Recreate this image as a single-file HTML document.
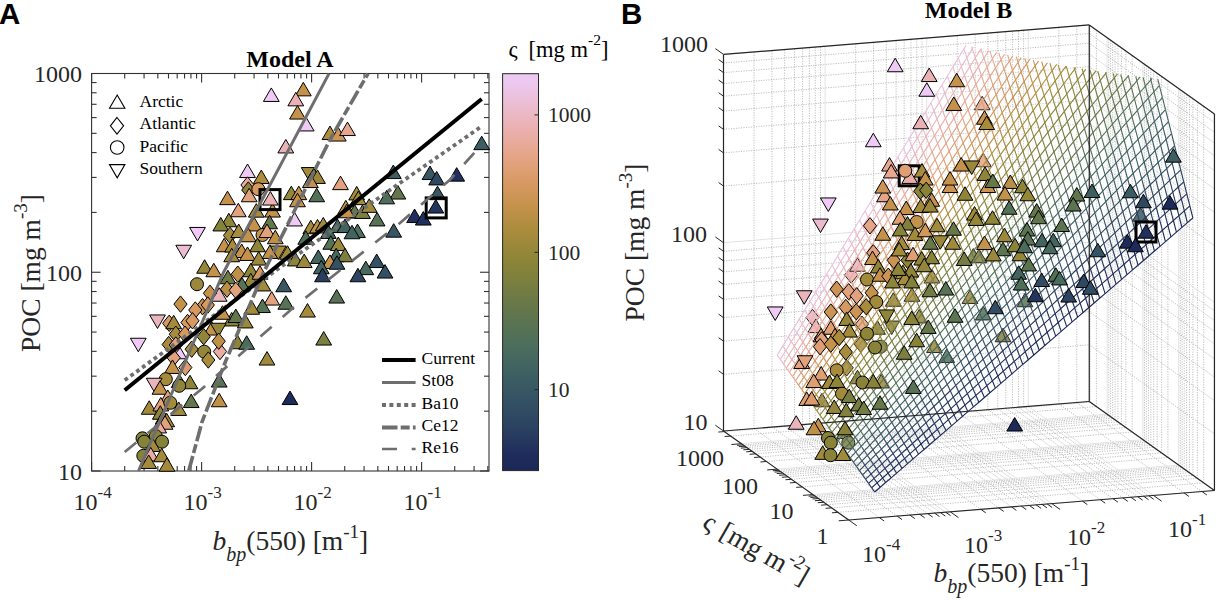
<!DOCTYPE html><html><head><meta charset="utf-8"><style>html,body{margin:0;padding:0;background:#fff;overflow:hidden;}svg{display:block;}</style></head><body><svg width="1219" height="600" viewBox="0 0 1219 600"><rect width="100%" height="100%" fill="#fff"/><path d="M754.08,428.53L754.08,51.93M771.98,427.09L771.98,50.49M784.67,426.07L784.67,49.47M794.52,425.28L794.52,48.68M802.56,424.63L802.56,48.03M809.36,424.08L809.36,47.48M815.25,423.6L815.25,47M820.45,423.18L820.45,46.58M855.68,420.34L855.68,43.74M873.58,418.9L873.58,42.3M886.27,417.88L886.27,41.28M896.12,417.09L896.12,40.49M904.16,416.44L904.16,39.84M910.96,415.89L910.96,39.29M916.85,415.41L916.85,38.81M922.05,414.99L922.05,38.39M957.28,412.15L957.28,35.55M975.18,410.71L975.18,34.11M987.87,409.69L987.87,33.09M997.72,408.9L997.72,32.3M1005.76,408.25L1005.76,31.65M1012.56,407.7L1012.56,31.1M1018.45,407.22L1018.45,30.62M1023.65,406.8L1023.65,30.2M1058.88,403.96L1058.88,27.36M1076.78,402.52L1076.78,25.92M723.5,374.32L1089.26,344.83M723.5,341.16L1089.26,311.67M723.5,317.63L1089.26,288.15M723.5,299.38L1089.26,269.9M723.5,284.47L1089.26,254.99M723.5,271.87L1089.26,242.38M723.5,260.95L1089.26,231.46M723.5,251.32L1089.26,221.83M723.5,186.02L1089.26,156.53M723.5,152.86L1089.26,123.37M723.5,129.33L1089.26,99.85M723.5,111.08L1089.26,81.6M723.5,96.17L1089.26,66.69M723.5,83.57L1089.26,54.08M723.5,72.65L1089.26,43.16M723.5,63.02L1089.26,33.53M1203.69,482.87L1203.69,106.27M1197.39,478.39L1197.39,101.79M1192.92,475.21L1192.92,98.61M1189.45,472.75L1189.45,96.15M1186.62,470.73L1186.62,94.13M1184.23,469.03L1184.23,92.43M1182.15,467.56L1182.15,90.96M1180.32,466.25L1180.32,89.65M1167.92,457.44L1167.92,80.84M1161.62,452.96L1161.62,76.36M1157.15,449.78L1157.15,73.18M1153.68,447.32L1153.68,70.72M1150.85,445.3L1150.85,68.7M1148.46,443.6L1148.46,67M1146.38,442.13L1146.38,65.53M1144.55,440.82L1144.55,64.22M1132.15,432.01L1132.15,55.41M1125.85,427.53L1125.85,50.93M1121.38,424.35L1121.38,47.75M1117.91,421.89L1117.91,45.29M1115.08,419.87L1115.08,43.27M1112.69,418.17L1112.69,41.57M1110.61,416.7L1110.61,40.1M1108.78,415.39L1108.78,38.79M1096.38,406.58L1096.38,29.98M1090.08,402.1L1090.08,25.5M1089.26,344.83L1214.45,433.84M1089.26,311.67L1214.45,400.68M1089.26,288.15L1214.45,377.15M1089.26,269.9L1214.45,358.9M1089.26,254.99L1214.45,344M1089.26,242.38L1214.45,331.39M1089.26,231.46L1214.45,320.47M1089.26,221.83L1214.45,310.84M1089.26,156.53L1214.45,245.54M1089.26,123.37L1214.45,212.38M1089.26,99.85L1214.45,188.85M1089.26,81.6L1214.45,170.6M1089.26,66.69L1214.45,155.7M1089.26,54.08L1214.45,143.09M1089.26,43.16L1214.45,132.17M1089.26,33.53L1214.45,122.54M754.08,428.53L879.28,517.54M771.98,427.09L897.17,516.1M784.67,426.07L909.86,515.07M794.52,425.28L919.71,514.28M802.56,424.63L927.76,513.63M809.36,424.08L934.56,513.08M815.25,423.6L940.45,512.61M820.45,423.18L945.65,512.19M855.68,420.34L980.88,509.35M873.58,418.9L998.77,507.91M886.27,417.88L1011.46,506.88M896.12,417.09L1021.31,506.09M904.16,416.44L1029.36,505.44M910.96,415.89L1036.16,504.89M916.85,415.41L1042.05,504.42M922.05,414.99L1047.25,504M957.28,412.15L1082.48,501.16M975.18,410.71L1100.37,499.72M987.87,409.69L1113.06,498.69M997.72,408.9L1122.91,497.9M1005.76,408.25L1130.96,497.25M1012.56,407.7L1137.76,496.7M1018.45,407.22L1143.65,496.23M1023.65,406.8L1148.85,495.81M1058.88,403.96L1184.08,492.97M1076.78,402.52L1201.97,491.53M837.93,512.35L1203.69,482.87M831.63,507.87L1197.39,478.39M827.16,504.69L1192.92,475.21M823.69,502.23L1189.45,472.75M820.86,500.22L1186.62,470.73M818.47,498.51L1184.23,469.03M816.39,497.04L1182.15,467.56M814.56,495.74L1180.32,466.25M802.16,486.92L1167.92,457.44M795.86,482.44L1161.62,452.96M791.39,479.26L1157.15,449.78M787.92,476.8L1153.68,447.32M785.09,474.79L1150.85,445.3M782.7,473.08L1148.46,443.6M780.62,471.61L1146.38,442.13M778.79,470.31L1144.55,440.82M766.39,461.49L1132.15,432.01M760.09,457.01L1125.85,427.53M755.62,453.83L1121.38,424.35M752.15,451.37L1117.91,421.89M749.32,449.36L1115.08,419.87M746.93,447.65L1112.69,418.17M744.85,446.18L1110.61,416.7M743.02,444.88L1108.78,415.39M730.62,436.06L1096.38,406.58M724.32,431.58L1090.08,402.1" stroke="#a4a4a4" stroke-width="0.7" stroke-dasharray="1.2 1.3" fill="none"/><path d="M723.5,431L723.5,54.4M825.1,422.81L825.1,46.21M926.7,414.62L926.7,38.02M1028.3,406.43L1028.3,29.83M723.5,431L1089.26,401.52M723.5,242.7L1089.26,213.22M723.5,54.4L1089.26,24.92M1214.45,490.52L1214.45,113.92M1178.68,465.09L1178.68,88.49M1142.91,439.66L1142.91,63.06M1107.14,414.23L1107.14,37.63M1089.26,401.52L1214.45,490.52M1089.26,213.22L1214.45,302.22M1089.26,24.92L1214.45,113.92M723.5,431L848.7,520M825.1,422.81L950.3,511.81M926.7,414.62L1051.89,503.62M1028.3,406.43L1153.49,495.44M848.7,520L1214.45,490.52M812.92,494.57L1178.68,465.09M777.15,469.14L1142.91,439.66M741.38,443.71L1107.14,414.23" stroke="#dcdcdc" stroke-width="0.8" fill="none"/><g stroke="#000" stroke-width="1"><polygon points="974.3,109.75 990.1,109.75 982.2,96.25" fill="#e7a891"/><polygon points="975.4,166.75 991.2,166.75 983.3,153.25" fill="#e5a587"/><polygon points="1132.5,221.15 1148.3,221.15 1140.4,207.65" fill="#385763"/><polygon points="1017.1,306.75 1032.9,306.75 1025,293.25" fill="#5c7450"/><polygon points="924.1,282.95 939.9,282.95 932,269.45" fill="#a28a3b"/><polygon points="904.1,301.25 919.9,301.25 912,287.75" fill="#a88c3c"/><polygon points="965.4,262.05 981.2,262.05 973.3,248.55" fill="#7c7f3e"/><polygon points="971.1,262.75 986.9,262.75 979,249.25" fill="#82813c"/><polygon points="962.1,303.45 977.9,303.45 970,289.95" fill="#a28a3b"/><polygon points="975.4,319.95 991.2,319.95 983.3,306.45" fill="#4e6f5a"/><polygon points="911.3,322.95 927.1,322.95 919.2,309.45" fill="#8e8538"/><polygon points="995.1,341.75 1010.9,341.75 1003,328.25" fill="#82813c"/><polygon points="851.2,266.8 857.8,275 851.2,283.2 844.6,275" fill="#eab1b0"/><polygon points="849.6,271.25 865.4,271.25 857.5,257.75" fill="#eab4ba"/><polygon points="885.4,306.25 901.2,306.25 893.3,292.75" fill="#948739"/><polygon points="883.8,321.05 899.6,321.05 891.7,334.55" fill="#8e8538"/><polygon points="812.5,309.3 819.1,317.5 812.5,325.7 805.9,317.5" fill="#eab4ba"/><polygon points="807.9,332.55 823.7,332.55 815.8,319.05" fill="#eab1b0"/><polygon points="862,316 868.6,324.2 862,332.4 855.4,324.2" fill="#e5a587"/><polygon points="869.6,334.25 885.4,334.25 877.5,320.75" fill="#888339"/><polygon points="860.8,336 867.4,344.2 860.8,352.4 854.2,344.2" fill="#a88c3c"/><circle cx="880.8" cy="346.7" r="6.5" fill="#82813c"/><polygon points="846.7,359.6 853.3,367.8 846.7,376 840.1,367.8" fill="#a28a3b"/><polygon points="849.6,383.75 865.4,383.75 857.5,370.25" fill="#888339"/><polygon points="873.3,387.95 889.1,387.95 881.2,374.45" fill="#9b883a"/><polygon points="814.1,406.75 829.9,406.75 822,393.25" fill="#948739"/><polygon points="836.6,438.55 852.4,438.55 844.5,425.05" fill="#82813c"/><circle cx="848.3" cy="442.7" r="6.5" fill="#7c7f3e"/><polygon points="926.6,352.55 942.4,352.55 934.5,339.05" fill="#9b883a"/><polygon points="938.8,362.55 954.6,362.55 946.7,349.05" fill="#4e6f5a"/><polygon points="820.8,330.1 827.4,338.3 820.8,346.5 814.2,338.3" fill="#e5a587"/></g><polygon points="874.67,491.99 876.26,490.62 877.85,489.25 879.44,487.88 881.03,486.51 882.62,485.14 884.22,483.77 885.81,482.4 887.4,481.03 888.99,479.66 890.58,478.29 892.17,476.92 893.76,475.55 895.35,474.18 896.94,472.81 898.54,471.44 900.13,470.07 901.72,468.7 903.31,467.33 904.9,465.96 906.49,464.59 908.08,463.22 909.67,461.85 911.26,460.48 912.85,459.11 914.45,457.74 916.04,456.37 917.63,455 919.22,453.63 920.81,452.26 922.4,450.89 923.99,449.52 925.58,448.15 927.17,446.78 928.77,445.41 930.36,444.04 931.95,442.67 933.54,441.3 935.13,439.93 936.72,438.56 938.31,437.19 939.9,435.82 941.49,434.45 943.08,433.08 944.68,431.71 946.27,430.34 947.86,428.97 949.45,427.6 951.04,426.23 952.63,424.86 954.22,423.49 955.81,422.12 957.4,420.75 959,419.38 960.59,418.01 962.18,416.64 963.77,415.27 965.36,413.9 966.95,412.53 968.54,411.16 970.13,409.79 971.72,408.42 973.31,407.05 974.91,405.68 976.5,404.31 978.09,402.94 979.68,401.57 981.27,400.2 982.86,398.83 984.45,397.46 986.04,396.09 987.63,394.72 989.23,393.35 990.82,391.98 992.41,390.6 994,389.23 995.59,387.86 997.18,386.49 998.77,385.12 1000.36,383.75 1001.95,382.38 1003.54,381.01 1005.14,379.64 1006.73,378.27 1008.32,376.9 1009.91,375.53 1011.5,374.16 1013.09,372.79 1014.68,371.42 1016.27,370.05 1017.86,368.68 1019.46,367.31 1021.05,365.94 1022.64,364.57 1024.23,363.2 1025.82,361.83 1027.41,360.46 1029,359.09 1030.59,357.72 1032.18,356.35 1033.77,354.98 1035.37,353.61 1036.96,352.24 1038.55,350.87 1040.14,349.5 1041.73,348.13 1043.32,346.76 1044.91,345.39 1046.5,344.02 1048.09,342.65 1049.69,341.28 1051.28,339.91 1052.87,338.54 1054.46,337.17 1056.05,335.8 1057.64,334.43 1059.23,333.06 1060.82,331.69 1062.41,330.32 1064,328.95 1065.6,327.58 1067.19,326.21 1068.78,324.84 1070.37,323.47 1071.96,322.1 1073.55,320.73 1075.14,319.36 1076.73,317.99 1078.32,316.62 1079.92,315.25 1081.51,313.88 1083.1,312.51 1084.69,311.14 1086.28,309.77 1087.87,308.4 1089.46,307.03 1091.05,305.66 1092.64,304.29 1094.24,302.92 1095.83,301.55 1097.42,300.18 1099.01,298.81 1100.6,297.44 1102.19,296.07 1103.78,294.7 1105.37,293.33 1106.96,291.96 1108.55,290.59 1110.15,289.22 1111.74,287.85 1113.33,286.48 1114.92,285.11 1116.51,283.74 1118.1,282.37 1119.69,281 1121.28,279.63 1122.87,278.26 1124.47,276.89 1126.06,275.52 1127.65,274.15 1129.24,272.78 1130.83,271.41 1132.42,270.04 1134.01,268.67 1135.6,267.3 1137.19,265.93 1138.78,264.56 1140.38,263.19 1141.97,261.82 1143.56,260.45 1145.15,259.08 1146.74,257.71 1148.33,256.34 1149.92,254.97 1151.51,253.6 1153.1,252.23 1154.7,250.86 1156.29,249.49 1157.88,248.12 1159.47,246.75 1161.06,245.37 1162.65,244 1164.24,242.63 1165.83,241.26 1167.42,239.89 1169.01,238.52 1170.61,237.15 1172.2,235.78 1173.79,234.41 1175.38,233.04 1176.97,231.67 1178.56,230.3 1180.15,228.93 1181.74,227.56 1183.33,226.19 1184.93,224.82 1186.52,223.45 1188.11,222.08 1189.7,220.71 1191.29,219.34 1192.88,217.97 1192.39,216.05 1191.91,214.12 1191.42,212.19 1190.93,210.27 1190.45,208.34 1189.96,206.42 1189.47,204.49 1188.98,202.56 1188.5,200.64 1188.01,198.71 1187.52,196.79 1187.04,194.86 1186.55,192.93 1186.06,191.01 1185.58,189.08 1185.09,187.16 1184.6,185.23 1184.11,183.3 1183.63,181.38 1183.14,179.45 1182.65,177.53 1182.17,175.6 1181.68,173.67 1181.19,171.75 1180.71,169.82 1180.22,167.9 1179.73,165.97 1179.24,164.04 1178.76,162.12 1178.27,160.19 1177.78,158.27 1177.3,156.34 1176.81,154.41 1176.32,152.49 1175.84,150.56 1175.35,148.63 1174.86,146.71 1174.37,144.78 1173.89,142.86 1173.4,140.93 1172.91,139 1172.43,137.08 1171.94,135.15 1171.45,133.23 1170.97,131.3 1170.48,129.37 1169.99,127.45 1169.5,125.52 1169.02,123.6 1168.53,121.67 1168.04,119.74 1167.56,117.82 1167.07,115.89 1166.58,113.97 1166.1,112.04 1165.61,110.11 1165.12,108.19 1164.63,106.26 1164.15,104.34 1163.66,102.41 1163.17,100.48 1162.69,98.56 1162.2,96.63 1161.71,94.7 1161.22,92.78 1160.74,90.85 1160.25,88.93 1159.76,87 1159.28,85.07 1158.79,83.15 1158.3,81.22 1157.82,79.3 1157.76,79.09 1155.65,78.84 1153.53,78.6 1151.41,78.35 1149.28,78.09 1147.15,77.84 1145.02,77.58 1142.88,77.32 1140.73,77.05 1138.58,76.78 1136.43,76.51 1134.27,76.24 1132.11,75.96 1129.94,75.68 1127.77,75.39 1125.59,75.11 1123.41,74.82 1121.23,74.52 1119.03,74.22 1116.84,73.92 1114.64,73.61 1112.43,73.3 1110.22,72.99 1108,72.67 1105.78,72.35 1103.55,72.03 1101.31,71.7 1099.07,71.36 1096.83,71.03 1094.57,70.69 1092.32,70.34 1090.05,69.99 1087.78,69.64 1085.51,69.28 1083.23,68.91 1080.94,68.55 1078.64,68.18 1076.34,67.8 1074.04,67.42 1071.72,67.03 1069.4,66.64 1067.07,66.25 1064.74,65.85 1062.4,65.44 1060.05,65.03 1057.69,64.61 1055.33,64.19 1052.96,63.77 1050.58,63.34 1048.19,62.9 1045.8,62.46 1043.4,62.01 1040.99,61.55 1038.57,61.09 1036.14,60.63 1033.71,60.16 1031.27,59.68 1028.81,59.2 1026.35,58.71 1023.88,58.21 1021.41,57.71 1018.92,57.2 1016.42,56.68 1013.91,56.16 1011.4,55.63 1008.87,55.1 1006.34,54.55 1003.79,54 1001.24,53.44 998.67,52.88 996.09,52.31 993.5,51.73 990.91,51.14 988.3,50.54 985.68,49.94 983.04,49.33 980.4,48.71 977.74,48.08 975.07,47.44 972.39,46.79 969.7,46.14 967,45.47 965.01,46.94 963.42,49.55 961.83,52.16 960.24,54.77 958.65,57.39 957.06,60 955.47,62.61 953.87,65.22 952.28,67.83 950.69,70.45 949.1,73.06 947.51,75.67 945.92,78.28 944.33,80.89 942.74,83.51 941.15,86.12 939.56,88.73 937.96,91.34 936.37,93.95 934.78,96.57 933.19,99.18 931.6,101.79 930.01,104.4 928.42,107.01 926.83,109.62 925.24,112.24 923.64,114.85 922.05,117.46 920.46,120.07 918.87,122.68 917.28,125.3 915.69,127.91 914.1,130.52 912.51,133.13 910.92,135.74 909.33,138.36 907.73,140.97 906.14,143.58 904.55,146.19 902.96,148.8 901.37,151.42 899.78,154.03 898.19,156.64 896.6,159.25 895.01,161.86 893.41,164.48 891.82,167.09 890.23,169.7 888.64,172.31 887.05,174.92 885.46,177.53 883.87,180.15 882.28,182.76 880.69,185.37 879.1,187.98 877.5,190.59 875.91,193.21 874.32,195.82 872.73,198.43 871.14,201.04 869.55,203.65 867.96,206.27 866.37,208.88 864.78,211.49 863.18,214.1 861.59,216.71 860,219.33 858.41,221.94 856.82,224.55 855.23,227.16 853.64,229.77 852.05,232.39 850.46,235 848.87,237.61 847.27,240.22 845.68,242.83 844.09,245.45 842.5,248.06 840.91,250.67 839.32,253.28 837.73,255.89 836.14,258.5 834.55,261.12 832.95,263.73 831.36,266.34 829.77,268.95 828.18,271.56 826.59,274.18 825,276.79 823.41,279.4 821.82,282.01 820.23,284.62 818.64,287.24 817.04,289.85 815.45,292.46 813.86,295.07 812.27,297.68 810.68,300.3 809.09,302.91 807.5,305.52 805.91,308.13 804.32,310.74 802.72,313.36 801.13,315.97 799.54,318.58 797.95,321.19 796.36,323.8 794.77,326.42 793.18,329.03 791.59,331.64 790,334.25 788.4,336.86 786.81,339.47 785.22,342.09 783.63,344.7 782.04,347.31 780.45,349.92 778.86,352.53 777.27,355.15 777.75,355.83 778.24,356.51 778.73,357.2 779.22,357.88 779.7,358.57 780.19,359.25 780.68,359.94 781.16,360.62 781.65,361.3 782.14,361.99 782.62,362.67 783.11,363.36 783.6,364.04 784.09,364.73 784.57,365.41 785.06,366.09 785.55,366.78 786.03,367.46 786.52,368.15 787.01,368.83 787.49,369.52 787.98,370.2 788.47,370.88 788.96,371.57 789.44,372.25 789.93,372.94 790.42,373.62 790.9,374.3 791.39,374.99 791.88,375.67 792.36,376.36 792.85,377.04 793.34,377.73 793.83,378.41 794.31,379.09 794.8,379.78 795.29,380.46 795.77,381.15 796.26,381.83 796.75,382.52 797.23,383.2 797.72,383.88 798.21,384.57 798.7,385.25 799.18,385.94 799.67,386.62 800.16,387.31 800.64,387.99 801.13,388.67 801.62,389.36 802.11,390.04 802.59,390.73 803.08,391.41 803.57,392.09 804.05,392.78 804.54,393.46 805.03,394.15 805.51,394.83 806,395.52 806.49,396.2 806.98,396.88 807.46,397.57 807.95,398.25 808.44,398.94 808.92,399.62 809.41,400.31 809.9,400.99 810.38,401.67 810.87,402.36 811.36,403.04 811.85,403.73 812.33,404.41 812.82,405.09 813.31,405.78 813.79,406.46 814.28,407.15 814.77,407.83 815.25,408.52 815.74,409.2 816.23,409.88 816.72,410.57 817.2,411.25 817.69,411.94 818.18,412.62 818.66,413.31 819.15,413.99 819.64,414.67 820.12,415.36 820.61,416.04 821.1,416.73 821.59,417.41 822.07,418.1 822.56,418.78 823.05,419.46 823.53,420.15 824.02,420.83 824.51,421.52 824.99,422.2 825.48,422.88 825.97,423.57 826.46,424.25 826.94,424.94 827.43,425.62 827.92,426.31 828.4,426.99 828.89,427.67 829.38,428.36 829.86,429.04 830.35,429.73 830.84,430.41 831.33,431.1 831.81,431.78 832.3,432.46 832.79,433.15 833.27,433.83 833.76,434.52 834.25,435.2 834.73,435.89 835.22,436.57 835.71,437.25 836.2,437.94 836.68,438.62 837.17,439.31 837.66,439.99 838.14,440.67 838.63,441.36 839.12,442.04 839.6,442.73 840.09,443.41 840.58,444.1 841.07,444.78 841.55,445.46 842.04,446.15 842.53,446.83 843.01,447.52 843.5,448.2 843.99,448.89 844.47,449.57 844.96,450.25 845.45,450.94 845.94,451.62 846.42,452.31 846.91,452.99 847.4,453.68 847.88,454.36 848.37,455.04 848.86,455.73 849.34,456.41 849.83,457.1 850.32,457.78 850.81,458.46 851.29,459.15 851.78,459.83 852.27,460.52 852.75,461.2 853.24,461.89 853.73,462.57 854.21,463.25 854.7,463.94 855.19,464.62 855.68,465.31 856.16,465.99 856.65,466.68 857.14,467.36 857.62,468.04 858.11,468.73 858.6,469.41 859.09,470.1 859.57,470.78 860.06,471.47 860.55,472.15 861.03,472.83 861.52,473.52 862.01,474.2 862.49,474.89 862.98,475.57 863.47,476.25 863.96,476.94 864.44,477.62 864.93,478.31 865.42,478.99 865.9,479.68 866.39,480.36 866.88,481.04 867.36,481.73 867.85,482.41 868.34,483.1 868.83,483.78 869.31,484.47 869.8,485.15 870.29,485.83 870.77,486.52 871.26,487.2 871.75,487.89 872.23,488.57 872.72,489.25 873.21,489.94 873.7,490.62 874.18,491.31" fill="#fff" fill-opacity="0.15" stroke="none"/><g fill="none" stroke-width="1.1"><polyline points="874.67,491.99 880.16,487.27 885.64,482.54 891.13,477.82 896.61,473.09 902.1,468.37 907.59,463.65 913.07,458.92 918.56,454.2 924.05,449.47 929.53,444.75 935.02,440.02 940.51,435.3 945.99,430.57 951.48,425.85 956.97,421.12 962.45,416.4 967.94,411.68 973.42,406.95 978.91,402.23 984.4,397.5 989.88,392.78 995.37,388.05 1000.86,383.33 1006.34,378.6 1011.83,373.88 1017.32,369.16 1022.8,364.43 1028.29,359.71 1033.77,354.98 1039.26,350.26 1044.75,345.53 1050.23,340.81 1055.72,336.08 1061.21,331.36 1066.69,326.64 1072.18,321.91 1077.67,317.19 1083.15,312.46 1088.64,307.74 1094.13,303.01 1099.61,298.29 1105.1,293.56 1110.58,288.84 1116.07,284.12 1121.56,279.39 1127.04,274.67 1132.53,269.94 1138.02,265.22 1143.5,260.49 1148.99,255.77 1154.48,251.04 1159.96,246.32 1165.45,241.6 1170.93,236.87 1176.42,232.15 1181.91,227.42 1187.39,222.7 1192.88,217.97" stroke="#1b2757"/><polyline points="871.63,487.72 877.11,482.86 882.6,478 888.08,473.14 893.57,468.28 899.06,463.42 904.54,458.57 910.03,453.71 915.52,448.85 921,443.99 926.49,439.13 931.98,434.27 937.46,429.42 942.95,424.56 948.44,419.7 953.92,414.84 959.41,409.98 964.89,405.12 970.38,400.27 975.87,395.41 981.35,390.55 986.84,385.69 992.33,380.83 997.81,375.98 1003.3,371.12 1008.79,366.26 1014.27,361.4 1019.76,356.54 1025.24,351.68 1030.73,346.83 1036.22,341.97 1041.7,337.11 1047.19,332.25 1052.68,327.39 1058.16,322.53 1063.65,317.68 1069.14,312.82 1074.62,307.96 1080.11,303.1 1085.6,298.24 1091.08,293.38 1096.57,288.53 1102.05,283.67 1107.54,278.81 1113.03,273.95 1118.51,269.09 1124,264.23 1129.49,259.38 1134.97,254.52 1140.46,249.66 1145.95,244.8 1151.43,239.94 1156.92,235.08 1162.4,230.23 1167.89,225.37 1173.38,220.51 1178.86,215.65 1184.35,210.79 1189.84,205.94" stroke="#1d2b5b"/><polyline points="868.58,483.44 874.07,478.45 879.55,473.45 885.04,468.46 890.53,463.47 896.01,458.48 901.5,453.49 906.99,448.49 912.47,443.5 917.96,438.51 923.45,433.52 928.93,428.53 934.42,423.53 939.9,418.54 945.39,413.55 950.88,408.56 956.36,403.57 961.85,398.57 967.34,393.58 972.82,388.59 978.31,383.6 983.8,378.6 989.28,373.61 994.77,368.62 1000.26,363.63 1005.74,358.64 1011.23,353.64 1016.71,348.65 1022.2,343.66 1027.69,338.67 1033.17,333.68 1038.66,328.68 1044.15,323.69 1049.63,318.7 1055.12,313.71 1060.61,308.72 1066.09,303.72 1071.58,298.73 1077.06,293.74 1082.55,288.75 1088.04,283.76 1093.52,278.76 1099.01,273.77 1104.5,268.78 1109.98,263.79 1115.47,258.79 1120.96,253.8 1126.44,248.81 1131.93,243.82 1137.42,238.83 1142.9,233.83 1148.39,228.84 1153.87,223.85 1159.36,218.86 1164.85,213.87 1170.33,208.87 1175.82,203.88 1181.31,198.89 1186.79,193.9" stroke="#22325d"/><polyline points="865.54,479.16 871.02,474.04 876.51,468.91 882,463.78 887.48,458.66 892.97,453.53 898.46,448.41 903.94,443.28 909.43,438.16 914.92,433.03 920.4,427.9 925.89,422.78 931.37,417.65 936.86,412.53 942.35,407.4 947.83,402.27 953.32,397.15 958.81,392.02 964.29,386.9 969.78,381.77 975.27,376.64 980.75,371.52 986.24,366.39 991.73,361.27 997.21,356.14 1002.7,351.01 1008.18,345.89 1013.67,340.76 1019.16,335.64 1024.64,330.51 1030.13,325.39 1035.62,320.26 1041.1,315.13 1046.59,310.01 1052.08,304.88 1057.56,299.76 1063.05,294.63 1068.53,289.5 1074.02,284.38 1079.51,279.25 1084.99,274.13 1090.48,269 1095.97,263.87 1101.45,258.75 1106.94,253.62 1112.43,248.5 1117.91,243.37 1123.4,238.24 1128.89,233.12 1134.37,227.99 1139.86,222.87 1145.34,217.74 1150.83,212.61 1156.32,207.49 1161.8,202.36 1167.29,197.24 1172.78,192.11 1178.26,186.99 1183.75,181.86" stroke="#273c5f"/><polyline points="862.49,474.89 867.98,469.63 873.47,464.37 878.95,459.11 884.44,453.85 889.93,448.59 895.41,443.33 900.9,438.07 906.39,432.81 911.87,427.55 917.36,422.29 922.84,417.03 928.33,411.77 933.82,406.51 939.3,401.25 944.79,395.99 950.28,390.73 955.76,385.47 961.25,380.21 966.74,374.95 972.22,369.69 977.71,364.43 983.19,359.17 988.68,353.91 994.17,348.65 999.65,343.39 1005.14,338.13 1010.63,332.87 1016.11,327.61 1021.6,322.35 1027.09,317.09 1032.57,311.83 1038.06,306.57 1043.55,301.31 1049.03,296.06 1054.52,290.8 1060,285.54 1065.49,280.28 1070.98,275.02 1076.46,269.76 1081.95,264.5 1087.44,259.24 1092.92,253.98 1098.41,248.72 1103.9,243.46 1109.38,238.2 1114.87,232.94 1120.35,227.68 1125.84,222.42 1131.33,217.16 1136.81,211.9 1142.3,206.64 1147.79,201.38 1153.27,196.12 1158.76,190.86 1164.25,185.6 1169.73,180.34 1175.22,175.08 1180.71,169.82" stroke="#2c4461"/><polyline points="859.45,470.61 864.94,465.22 870.42,459.82 875.91,454.43 881.4,449.04 886.88,443.64 892.37,438.25 897.86,432.85 903.34,427.46 908.83,422.07 914.31,416.67 919.8,411.28 925.29,405.89 930.77,400.49 936.26,395.1 941.75,389.71 947.23,384.31 952.72,378.92 958.21,373.53 963.69,368.13 969.18,362.74 974.66,357.35 980.15,351.95 985.64,346.56 991.12,341.16 996.61,335.77 1002.1,330.38 1007.58,324.98 1013.07,319.59 1018.56,314.2 1024.04,308.8 1029.53,303.41 1035.02,298.02 1040.5,292.62 1045.99,287.23 1051.47,281.84 1056.96,276.44 1062.45,271.05 1067.93,265.65 1073.42,260.26 1078.91,254.87 1084.39,249.47 1089.88,244.08 1095.37,238.69 1100.85,233.29 1106.34,227.9 1111.82,222.51 1117.31,217.11 1122.8,211.72 1128.28,206.33 1133.77,200.93 1139.26,195.54 1144.74,190.14 1150.23,184.75 1155.72,179.36 1161.2,173.96 1166.69,168.57 1172.18,163.18 1177.66,157.78" stroke="#304b62"/><polyline points="856.41,466.33 861.89,460.81 867.38,455.28 872.87,449.75 878.35,444.22 883.84,438.7 889.32,433.17 894.81,427.64 900.3,422.11 905.78,416.59 911.27,411.06 916.76,405.53 922.24,400 927.73,394.48 933.22,388.95 938.7,383.42 944.19,377.9 949.68,372.37 955.16,366.84 960.65,361.31 966.13,355.79 971.62,350.26 977.11,344.73 982.59,339.2 988.08,333.68 993.57,328.15 999.05,322.62 1004.54,317.09 1010.03,311.57 1015.51,306.04 1021,300.51 1026.48,294.98 1031.97,289.46 1037.46,283.93 1042.94,278.4 1048.43,272.88 1053.92,267.35 1059.4,261.82 1064.89,256.29 1070.38,250.77 1075.86,245.24 1081.35,239.71 1086.84,234.18 1092.32,228.66 1097.81,223.13 1103.29,217.6 1108.78,212.07 1114.27,206.55 1119.75,201.02 1125.24,195.49 1130.73,189.96 1136.21,184.44 1141.7,178.91 1147.19,173.38 1152.67,167.86 1158.16,162.33 1163.64,156.8 1169.13,151.27 1174.62,145.75" stroke="#345264"/><polyline points="853.36,462.06 858.85,456.4 864.34,450.73 869.82,445.07 875.31,439.41 880.79,433.75 886.28,428.09 891.77,422.43 897.25,416.77 902.74,411.11 908.23,405.44 913.71,399.78 919.2,394.12 924.69,388.46 930.17,382.8 935.66,377.14 941.15,371.48 946.63,365.82 952.12,360.16 957.6,354.49 963.09,348.83 968.58,343.17 974.06,337.51 979.55,331.85 985.04,326.19 990.52,320.53 996.01,314.87 1001.5,309.2 1006.98,303.54 1012.47,297.88 1017.95,292.22 1023.44,286.56 1028.93,280.9 1034.41,275.24 1039.9,269.58 1045.39,263.92 1050.87,258.25 1056.36,252.59 1061.85,246.93 1067.33,241.27 1072.82,235.61 1078.31,229.95 1083.79,224.29 1089.28,218.63 1094.76,212.96 1100.25,207.3 1105.74,201.64 1111.22,195.98 1116.71,190.32 1122.2,184.66 1127.68,179 1133.17,173.34 1138.66,167.67 1144.14,162.01 1149.63,156.35 1155.11,150.69 1160.6,145.03 1166.09,139.37 1171.57,133.71" stroke="#385863"/><polyline points="850.32,457.78 855.81,451.99 861.29,446.19 866.78,440.4 872.26,434.6 877.75,428.81 883.24,423.01 888.72,417.22 894.21,411.42 899.7,405.63 905.18,399.83 910.67,394.04 916.16,388.24 921.64,382.45 927.13,376.65 932.61,370.86 938.1,365.06 943.59,359.27 949.07,353.47 954.56,347.68 960.05,341.88 965.53,336.09 971.02,330.29 976.51,324.5 981.99,318.7 987.48,312.91 992.97,307.11 998.45,301.32 1003.94,295.52 1009.42,289.73 1014.91,283.93 1020.4,278.14 1025.88,272.34 1031.37,266.55 1036.86,260.75 1042.34,254.96 1047.83,249.16 1053.32,243.37 1058.8,237.57 1064.29,231.78 1069.77,225.98 1075.26,220.19 1080.75,214.39 1086.23,208.59 1091.72,202.8 1097.21,197 1102.69,191.21 1108.18,185.41 1113.67,179.62 1119.15,173.82 1124.64,168.03 1130.13,162.23 1135.61,156.44 1141.1,150.64 1146.58,144.85 1152.07,139.05 1157.56,133.26 1163.04,127.46 1168.53,121.67" stroke="#3c5e62"/><polyline points="847.28,453.5 852.76,447.58 858.25,441.65 863.73,435.72 869.22,429.79 874.71,423.86 880.19,417.93 885.68,412 891.17,406.07 896.65,400.14 902.14,394.22 907.63,388.29 913.11,382.36 918.6,376.43 924.08,370.5 929.57,364.57 935.06,358.64 940.54,352.71 946.03,346.79 951.52,340.86 957,334.93 962.49,329 967.98,323.07 973.46,317.14 978.95,311.21 984.44,305.28 989.92,299.35 995.41,293.43 1000.89,287.5 1006.38,281.57 1011.87,275.64 1017.35,269.71 1022.84,263.78 1028.33,257.85 1033.81,251.92 1039.3,245.99 1044.79,240.07 1050.27,234.14 1055.76,228.21 1061.24,222.28 1066.73,216.35 1072.22,210.42 1077.7,204.49 1083.19,198.56 1088.68,192.64 1094.16,186.71 1099.65,180.78 1105.14,174.85 1110.62,168.92 1116.11,162.99 1121.6,157.06 1127.08,151.13 1132.57,145.2 1138.05,139.28 1143.54,133.35 1149.03,127.42 1154.51,121.49 1160,115.56 1165.49,109.63" stroke="#426460"/><polyline points="844.23,449.23 849.72,443.17 855.2,437.1 860.69,431.04 866.18,424.98 871.66,418.91 877.15,412.85 882.64,406.79 888.12,400.73 893.61,394.66 899.1,388.6 904.58,382.54 910.07,376.48 915.55,370.41 921.04,364.35 926.53,358.29 932.01,352.23 937.5,346.16 942.99,340.1 948.47,334.04 953.96,327.97 959.45,321.91 964.93,315.85 970.42,309.79 975.9,303.72 981.39,297.66 986.88,291.6 992.36,285.54 997.85,279.47 1003.34,273.41 1008.82,267.35 1014.31,261.29 1019.8,255.22 1025.28,249.16 1030.77,243.1 1036.26,237.03 1041.74,230.97 1047.23,224.91 1052.71,218.85 1058.2,212.78 1063.69,206.72 1069.17,200.66 1074.66,194.6 1080.15,188.53 1085.63,182.47 1091.12,176.41 1096.61,170.35 1102.09,164.28 1107.58,158.22 1113.06,152.16 1118.55,146.1 1124.04,140.03 1129.52,133.97 1135.01,127.91 1140.5,121.84 1145.98,115.78 1151.47,109.72 1156.96,103.66 1162.44,97.59" stroke="#486a5e"/><polyline points="841.19,444.95 846.67,438.75 852.16,432.56 857.65,426.36 863.13,420.17 868.62,413.97 874.11,407.77 879.59,401.58 885.08,395.38 890.57,389.18 896.05,382.99 901.54,376.79 907.02,370.59 912.51,364.4 918,358.2 923.48,352 928.97,345.81 934.46,339.61 939.94,333.41 945.43,327.22 950.92,321.02 956.4,314.83 961.89,308.63 967.37,302.43 972.86,296.24 978.35,290.04 983.83,283.84 989.32,277.65 994.81,271.45 1000.29,265.25 1005.78,259.06 1011.27,252.86 1016.75,246.66 1022.24,240.47 1027.73,234.27 1033.21,228.07 1038.7,221.88 1044.18,215.68 1049.67,209.49 1055.16,203.29 1060.64,197.09 1066.13,190.9 1071.62,184.7 1077.1,178.5 1082.59,172.31 1088.08,166.11 1093.56,159.91 1099.05,153.72 1104.53,147.52 1110.02,141.32 1115.51,135.13 1120.99,128.93 1126.48,122.73 1131.97,116.54 1137.45,110.34 1142.94,104.15 1148.43,97.95 1153.91,91.75 1159.4,85.56" stroke="#4e6f5a"/><polyline points="838.14,440.67 843.63,434.34 849.12,428.01 854.6,421.68 860.09,415.35 865.58,409.02 871.06,402.69 876.55,396.36 882.03,390.03 887.52,383.7 893.01,377.37 898.49,371.04 903.98,364.71 909.47,358.38 914.95,352.05 920.44,345.72 925.93,339.39 931.41,333.06 936.9,326.73 942.39,320.4 947.87,314.07 953.36,307.74 958.84,301.41 964.33,295.08 969.82,288.75 975.3,282.42 980.79,276.09 986.28,269.76 991.76,263.43 997.25,257.1 1002.74,250.77 1008.22,244.44 1013.71,238.11 1019.19,231.78 1024.68,225.45 1030.17,219.11 1035.65,212.78 1041.14,206.45 1046.63,200.12 1052.11,193.79 1057.6,187.46 1063.09,181.13 1068.57,174.8 1074.06,168.47 1079.55,162.14 1085.03,155.81 1090.52,149.48 1096,143.15 1101.49,136.82 1106.98,130.49 1112.46,124.16 1117.95,117.83 1123.44,111.5 1128.92,105.17 1134.41,98.84 1139.9,92.51 1145.38,86.18 1150.87,79.85 1152.1,78.43" stroke="#557255"/><polyline points="835.1,436.4 840.59,429.93 846.07,423.47 851.56,417.01 857.05,410.54 862.53,404.08 868.02,397.61 873.5,391.15 878.99,384.69 884.48,378.22 889.96,371.76 895.45,365.29 900.94,358.83 906.42,352.36 911.91,345.9 917.4,339.44 922.88,332.97 928.37,326.51 933.86,320.04 939.34,313.58 944.83,307.12 950.31,300.65 955.8,294.19 961.29,287.72 966.77,281.26 972.26,274.8 977.75,268.33 983.23,261.87 988.72,255.4 994.21,248.94 999.69,242.48 1005.18,236.01 1010.66,229.55 1016.15,223.08 1021.64,216.62 1027.12,210.15 1032.61,203.69 1038.1,197.23 1043.58,190.76 1049.07,184.3 1054.56,177.83 1060.04,171.37 1065.53,164.91 1071.02,158.44 1076.5,151.98 1081.99,145.51 1087.47,139.05 1092.96,132.59 1098.45,126.12 1103.93,119.66 1109.42,113.19 1114.91,106.73 1120.39,100.26 1125.88,93.8 1131.37,87.34 1136.85,80.87 1140.15,76.98" stroke="#5d744f"/><polyline points="832.06,432.12 837.54,425.52 843.03,418.93 848.52,412.33 854,405.73 859.49,399.13 864.97,392.53 870.46,385.94 875.95,379.34 881.43,372.74 886.92,366.14 892.41,359.54 897.89,352.95 903.38,346.35 908.87,339.75 914.35,333.15 919.84,326.56 925.32,319.96 930.81,313.36 936.3,306.76 941.78,300.16 947.27,293.57 952.76,286.97 958.24,280.37 963.73,273.77 969.22,267.17 974.7,260.58 980.19,253.98 985.68,247.38 991.16,240.78 996.65,234.18 1002.13,227.59 1007.62,220.99 1013.11,214.39 1018.59,207.79 1024.08,201.19 1029.57,194.6 1035.05,188 1040.54,181.4 1046.03,174.8 1051.51,168.2 1057,161.61 1062.48,155.01 1067.97,148.41 1073.46,141.81 1078.94,135.22 1084.43,128.62 1089.92,122.02 1095.4,115.42 1100.89,108.82 1106.38,102.23 1111.86,95.63 1117.35,89.03 1122.84,82.43 1128.32,75.83 1128.6,75.5" stroke="#66774a"/><polyline points="829.01,427.85 834.5,421.11 839.99,414.38 845.47,407.65 850.96,400.92 856.44,394.19 861.93,387.46 867.42,380.72 872.9,373.99 878.39,367.26 883.88,360.53 889.36,353.8 894.85,347.06 900.34,340.33 905.82,333.6 911.31,326.87 916.79,320.14 922.28,313.41 927.77,306.67 933.25,299.94 938.74,293.21 944.23,286.48 949.71,279.75 955.2,273.02 960.69,266.28 966.17,259.55 971.66,252.82 977.15,246.09 982.63,239.36 988.12,232.62 993.6,225.89 999.09,219.16 1004.58,212.43 1010.06,205.7 1015.55,198.97 1021.04,192.23 1026.52,185.5 1032.01,178.77 1037.5,172.04 1042.98,165.31 1048.47,158.58 1053.95,151.84 1059.44,145.11 1064.93,138.38 1070.41,131.65 1075.9,124.92 1081.39,118.19 1086.87,111.45 1092.36,104.72 1097.85,97.99 1103.33,91.26 1108.82,84.53 1114.31,77.79 1117.4,74" stroke="#707b44"/><polyline points="825.97,423.57 831.45,416.7 836.94,409.84 842.43,402.97 847.91,396.11 853.4,389.24 858.89,382.38 864.37,375.51 869.86,368.64 875.35,361.78 880.83,354.91 886.32,348.05 891.81,341.18 897.29,334.32 902.78,327.45 908.26,320.59 913.75,313.72 919.24,306.85 924.72,299.99 930.21,293.12 935.7,286.26 941.18,279.39 946.67,272.53 952.16,265.66 957.64,258.8 963.13,251.93 968.61,245.06 974.1,238.2 979.59,231.33 985.07,224.47 990.56,217.6 996.05,210.74 1001.53,203.87 1007.02,197.01 1012.51,190.14 1017.99,183.27 1023.48,176.41 1028.97,169.54 1034.45,162.68 1039.94,155.81 1045.42,148.95 1050.91,142.08 1056.4,135.22 1061.88,128.35 1067.37,121.48 1072.86,114.62 1078.34,107.75 1083.83,100.89 1089.32,94.02 1094.8,87.16 1100.29,80.29 1105.77,73.43 1106.54,72.46" stroke="#797e40"/><polyline points="822.92,419.29 828.41,412.29 833.9,405.29 839.38,398.29 844.87,391.3 850.36,384.3 855.84,377.3 861.33,370.3 866.82,363.3 872.3,356.3 877.79,349.3 883.28,342.3 888.76,335.3 894.25,328.3 899.73,321.3 905.22,314.3 910.71,307.3 916.19,300.3 921.68,293.3 927.17,286.3 932.65,279.31 938.14,272.31 943.63,265.31 949.11,258.31 954.6,251.31 960.08,244.31 965.57,237.31 971.06,230.31 976.54,223.31 982.03,216.31 987.52,209.31 993,202.31 998.49,195.31 1003.98,188.31 1009.46,181.31 1014.95,174.31 1020.44,167.31 1025.92,160.32 1031.41,153.32 1036.89,146.32 1042.38,139.32 1047.87,132.32 1053.35,125.32 1058.84,118.32 1064.33,111.32 1069.81,104.32 1075.3,97.32 1080.79,90.32 1086.27,83.32 1091.76,76.32 1096.01,70.9" stroke="#83813b"/><polyline points="819.88,415.02 825.37,407.88 830.85,400.75 836.34,393.62 841.83,386.48 847.31,379.35 852.8,372.22 858.29,365.08 863.77,357.95 869.26,350.82 874.74,343.68 880.23,336.55 885.72,329.42 891.2,322.28 896.69,315.15 902.18,308.02 907.66,300.89 913.15,293.75 918.64,286.62 924.12,279.49 929.61,272.35 935.1,265.22 940.58,258.09 946.07,250.95 951.55,243.82 957.04,236.69 962.53,229.55 968.01,222.42 973.5,215.29 978.99,208.15 984.47,201.02 989.96,193.89 995.45,186.75 1000.93,179.62 1006.42,172.49 1011.9,165.35 1017.39,158.22 1022.88,151.09 1028.36,143.95 1033.85,136.82 1039.34,129.69 1044.82,122.56 1050.31,115.42 1055.8,108.29 1061.28,101.16 1066.77,94.02 1072.26,86.89 1077.74,79.76 1083.23,72.62 1085.77,69.32" stroke="#8d8538"/><polyline points="816.84,410.74 822.32,403.47 827.81,396.21 833.3,388.94 838.78,381.67 844.27,374.4 849.76,367.14 855.24,359.87 860.73,352.6 866.21,345.34 871.7,338.07 877.19,330.8 882.67,323.54 888.16,316.27 893.65,309 899.13,301.73 904.62,294.47 910.11,287.2 915.59,279.93 921.08,272.67 926.57,265.4 932.05,258.13 937.54,250.87 943.02,243.6 948.51,236.33 954,229.06 959.48,221.8 964.97,214.53 970.46,207.26 975.94,200 981.43,192.73 986.92,185.46 992.4,178.2 997.89,170.93 1003.37,163.66 1008.86,156.39 1014.35,149.13 1019.83,141.86 1025.32,134.59 1030.81,127.33 1036.29,120.06 1041.78,112.79 1047.27,105.53 1052.75,98.26 1058.24,90.99 1063.73,83.72 1069.21,76.46 1074.7,69.19 1075.81,67.71" stroke="#98883a"/><polyline points="813.79,406.46 819.28,399.06 824.77,391.66 830.25,384.26 835.74,376.86 841.23,369.46 846.71,362.06 852.2,354.66 857.68,347.26 863.17,339.86 868.66,332.46 874.14,325.05 879.63,317.65 885.12,310.25 890.6,302.85 896.09,295.45 901.58,288.05 907.06,280.65 912.55,273.25 918.03,265.85 923.52,258.45 929.01,251.05 934.49,243.64 939.98,236.24 945.47,228.84 950.95,221.44 956.44,214.04 961.93,206.64 967.41,199.24 972.9,191.84 978.39,184.44 983.87,177.04 989.36,169.64 994.84,162.24 1000.33,154.83 1005.82,147.43 1011.3,140.03 1016.79,132.63 1022.28,125.23 1027.76,117.83 1033.25,110.43 1038.74,103.03 1044.22,95.63 1049.71,88.23 1055.19,80.83 1060.68,73.43 1066.12,66.08" stroke="#a38a3b"/><polyline points="810.75,402.19 816.24,394.65 821.72,387.12 827.21,379.58 832.7,372.05 838.18,364.51 843.67,356.98 849.15,349.44 854.64,341.91 860.13,334.38 865.61,326.84 871.1,319.31 876.59,311.77 882.07,304.24 887.56,296.7 893.05,289.17 898.53,281.63 904.02,274.1 909.5,266.56 914.99,259.03 920.48,251.49 925.96,243.96 931.45,236.42 936.94,228.89 942.42,221.36 947.91,213.82 953.4,206.29 958.88,198.75 964.37,191.22 969.86,183.68 975.34,176.15 980.83,168.61 986.31,161.08 991.8,153.54 997.29,146.01 1002.77,138.47 1008.26,130.94 1013.75,123.4 1019.23,115.87 1024.72,108.34 1030.21,100.8 1035.69,93.27 1041.18,85.73 1046.66,78.2 1052.15,70.66 1056.69,64.44" stroke="#af8d3f"/><polyline points="807.71,397.91 813.19,390.24 818.68,382.57 824.16,374.91 829.65,367.24 835.14,359.57 840.62,351.9 846.11,344.23 851.6,336.56 857.08,328.89 862.57,321.23 868.06,313.56 873.54,305.89 879.03,298.22 884.52,290.55 890,282.88 895.49,275.21 900.97,267.55 906.46,259.88 911.95,252.21 917.43,244.54 922.92,236.87 928.41,229.2 933.89,221.54 939.38,213.87 944.87,206.2 950.35,198.53 955.84,190.86 961.32,183.19 966.81,175.52 972.3,167.86 977.78,160.19 983.27,152.52 988.76,144.85 994.24,137.18 999.73,129.51 1005.22,121.85 1010.7,114.18 1016.19,106.51 1021.68,98.84 1027.16,91.17 1032.65,83.5 1038.13,75.83 1043.62,68.17 1047.48,62.77" stroke="#bd9047"/><polyline points="804.66,393.63 810.15,385.83 815.63,378.03 821.12,370.23 826.61,362.42 832.09,354.62 837.58,346.82 843.07,339.02 848.55,331.22 854.04,323.41 859.53,315.61 865.01,307.81 870.5,300.01 875.99,292.2 881.47,284.4 886.96,276.6 892.44,268.8 897.93,261 903.42,253.19 908.9,245.39 914.39,237.59 919.88,229.79 925.36,221.98 930.85,214.18 936.34,206.38 941.82,198.58 947.31,190.77 952.79,182.97 958.28,175.17 963.77,167.37 969.25,159.57 974.74,151.76 980.23,143.96 985.71,136.16 991.2,128.36 996.69,120.55 1002.17,112.75 1007.66,104.95 1013.15,97.15 1018.63,89.34 1024.12,81.54 1029.6,73.74 1035.09,65.94 1038.51,61.08" stroke="#c8934f"/><polyline points="801.62,389.36 807.1,381.42 812.59,373.49 818.08,365.55 823.56,357.61 829.05,349.68 834.54,341.74 840.02,333.8 845.51,325.87 851,317.93 856.48,310 861.97,302.06 867.45,294.12 872.94,286.19 878.43,278.25 883.91,270.32 889.4,262.38 894.89,254.44 900.37,246.51 905.86,238.57 911.35,230.64 916.83,222.7 922.32,214.76 927.81,206.83 933.29,198.89 938.78,190.95 944.26,183.02 949.75,175.08 955.24,167.15 960.72,159.21 966.21,151.27 971.7,143.34 977.18,135.4 982.67,127.47 988.16,119.53 993.64,111.59 999.13,103.66 1004.61,95.72 1010.1,87.79 1015.59,79.85 1021.07,71.91 1026.56,63.98 1029.74,59.38" stroke="#d1975c"/><polyline points="798.57,385.08 804.06,377.01 809.55,368.94 815.03,360.87 820.52,352.8 826.01,344.73 831.49,336.66 836.98,328.59 842.47,320.52 847.95,312.45 853.44,304.38 858.92,296.31 864.41,288.24 869.9,280.17 875.38,272.1 880.87,264.03 886.36,255.96 891.84,247.89 897.33,239.82 902.82,231.75 908.3,223.68 913.79,215.61 919.28,207.54 924.76,199.47 930.25,191.4 935.73,183.33 941.22,175.26 946.71,167.19 952.19,159.12 957.68,151.05 963.17,142.98 968.65,134.91 974.14,126.84 979.63,118.77 985.11,110.7 990.6,102.63 996.08,94.56 1001.57,86.49 1007.06,78.42 1012.54,70.35 1018.03,62.28 1021.17,57.66" stroke="#da9b68"/><polyline points="795.53,380.8 801.02,372.6 806.5,364.4 811.99,356.19 817.48,347.99 822.96,339.79 828.45,331.58 833.94,323.38 839.42,315.17 844.91,306.97 850.39,298.77 855.88,290.56 861.37,282.36 866.85,274.16 872.34,265.95 877.83,257.75 883.31,249.54 888.8,241.34 894.29,233.14 899.77,224.93 905.26,216.73 910.74,208.53 916.23,200.32 921.72,192.12 927.2,183.91 932.69,175.71 938.18,167.51 943.66,159.3 949.15,151.1 954.64,142.9 960.12,134.69 965.61,126.49 971.1,118.28 976.58,110.08 982.07,101.88 987.55,93.67 993.04,85.47 998.53,77.27 1004.01,69.06 1009.5,60.86 1012.8,55.93" stroke="#e0a078"/><polyline points="792.49,376.53 797.97,368.19 803.46,359.85 808.95,351.52 814.43,343.18 819.92,334.84 825.41,326.5 830.89,318.17 836.38,309.83 841.86,301.49 847.35,293.15 852.84,284.82 858.32,276.48 863.81,268.14 869.3,259.8 874.78,251.46 880.27,243.13 885.76,234.79 891.24,226.45 896.73,218.11 902.21,209.78 907.7,201.44 913.19,193.1 918.67,184.76 924.16,176.43 929.65,168.09 935.13,159.75 940.62,151.41 946.11,143.08 951.59,134.74 957.08,126.4 962.57,118.06 968.05,109.73 973.54,101.39 979.02,93.05 984.51,84.71 990,76.38 995.48,68.04 1000.97,59.7 1004.6,54.18" stroke="#e6a588"/><polyline points="789.44,372.25 794.93,363.78 800.42,355.31 805.9,346.84 811.39,338.37 816.87,329.9 822.36,321.42 827.85,312.95 833.33,304.48 838.82,296.01 844.31,287.54 849.79,279.07 855.28,270.6 860.77,262.12 866.25,253.65 871.74,245.18 877.23,236.71 882.71,228.24 888.2,219.77 893.68,211.3 899.17,202.82 904.66,194.35 910.14,185.88 915.63,177.41 921.12,168.94 926.6,160.47 932.09,152 937.58,143.52 943.06,135.05 948.55,126.58 954.03,118.11 959.52,109.64 965.01,101.17 970.49,92.7 975.98,84.22 981.47,75.75 986.95,67.28 992.44,58.81 996.58,52.42" stroke="#e8aa9a"/><polyline points="786.4,367.98 791.89,359.37 797.37,350.77 802.86,342.16 808.34,333.55 813.83,324.95 819.32,316.34 824.8,307.74 830.29,299.13 835.78,290.53 841.26,281.92 846.75,273.32 852.24,264.71 857.72,256.11 863.21,247.5 868.7,238.9 874.18,230.29 879.67,221.69 885.15,213.08 890.64,204.48 896.13,195.87 901.61,187.27 907.1,178.66 912.59,170.06 918.07,161.45 923.56,152.85 929.05,144.24 934.53,135.63 940.02,127.03 945.5,118.42 950.99,109.82 956.48,101.21 961.96,92.61 967.45,84 972.94,75.4 978.42,66.79 983.91,58.19 988.72,50.64" stroke="#eaafac"/><polyline points="783.36,363.7 788.84,354.96 794.33,346.22 799.81,337.48 805.3,328.74 810.79,320 816.27,311.27 821.76,302.53 827.25,293.79 832.73,285.05 838.22,276.31 843.71,267.57 849.19,258.83 854.68,250.09 860.16,241.35 865.65,232.61 871.14,223.87 876.62,215.14 882.11,206.4 887.6,197.66 893.08,188.92 898.57,180.18 904.06,171.44 909.54,162.7 915.03,153.96 920.52,145.22 926,136.48 931.49,127.75 936.97,119.01 942.46,110.27 947.95,101.53 953.43,92.79 958.92,84.05 964.41,75.31 969.89,66.57 975.38,57.83 980.87,49.09 981.02,48.85" stroke="#eab5bc"/><polyline points="780.31,359.42 785.8,350.55 791.28,341.68 796.77,332.8 802.26,323.93 807.74,315.06 813.23,306.19 818.72,297.31 824.2,288.44 829.69,279.57 835.18,270.69 840.66,261.82 846.15,252.95 851.63,244.08 857.12,235.2 862.61,226.33 868.09,217.46 873.58,208.58 879.07,199.71 884.55,190.84 890.04,181.97 895.53,173.09 901.01,164.22 906.5,155.35 911.98,146.47 917.47,137.6 922.96,128.73 928.44,119.86 933.93,110.98 939.42,102.11 944.9,93.24 950.39,84.36 955.88,75.49 961.36,66.62 966.85,57.75 972.34,48.87 973.46,47.05" stroke="#ebbbcd"/><polyline points="777.27,355.15 782.75,346.14 788.24,337.13 793.73,328.13 799.21,319.12 804.7,310.11 810.19,301.11 815.67,292.1 821.16,283.09 826.65,274.09 832.13,265.08 837.62,256.07 843.1,247.07 848.59,238.06 854.08,229.05 859.56,220.05 865.05,211.04 870.54,202.03 876.02,193.03 881.51,184.02 887,175.01 892.48,166.01 897.97,157 903.45,147.99 908.94,138.99 914.43,129.98 919.91,120.97 925.4,111.97 930.89,102.96 936.37,93.95 941.86,84.95 947.35,75.94 952.83,66.93 958.32,57.93 963.81,48.92 966.05,45.24" stroke="#ebc1dd"/><line x1="874.67" y1="491.99" x2="871.63" y2="487.72" stroke="#1c2959"/><line x1="871.63" y1="487.72" x2="868.58" y2="483.44" stroke="#1f2e5c"/><line x1="868.58" y1="483.44" x2="865.54" y2="479.16" stroke="#25375e"/><line x1="865.54" y1="479.16" x2="862.49" y2="474.89" stroke="#2a4060"/><line x1="862.49" y1="474.89" x2="859.45" y2="470.61" stroke="#2e4762"/><line x1="859.45" y1="470.61" x2="856.41" y2="466.33" stroke="#324e63"/><line x1="856.41" y1="466.33" x2="853.36" y2="462.06" stroke="#365564"/><line x1="853.36" y1="462.06" x2="850.32" y2="457.78" stroke="#3a5b63"/><line x1="850.32" y1="457.78" x2="847.28" y2="453.5" stroke="#3f6162"/><line x1="847.28" y1="453.5" x2="844.23" y2="449.23" stroke="#45675f"/><line x1="844.23" y1="449.23" x2="841.19" y2="444.95" stroke="#4b6d5d"/><line x1="841.19" y1="444.95" x2="838.14" y2="440.67" stroke="#527058"/><line x1="838.14" y1="440.67" x2="835.1" y2="436.4" stroke="#597352"/><line x1="835.1" y1="436.4" x2="832.06" y2="432.12" stroke="#62764d"/><line x1="832.06" y1="432.12" x2="829.01" y2="427.85" stroke="#6b7947"/><line x1="829.01" y1="427.85" x2="825.97" y2="423.57" stroke="#747c42"/><line x1="825.97" y1="423.57" x2="822.92" y2="419.29" stroke="#7e803d"/><line x1="822.92" y1="419.29" x2="819.88" y2="415.02" stroke="#888339"/><line x1="819.88" y1="415.02" x2="816.84" y2="410.74" stroke="#928639"/><line x1="816.84" y1="410.74" x2="813.79" y2="406.46" stroke="#9e893a"/><line x1="813.79" y1="406.46" x2="810.75" y2="402.19" stroke="#a98c3c"/><line x1="810.75" y1="402.19" x2="807.71" y2="397.91" stroke="#b68f43"/><line x1="807.71" y1="397.91" x2="804.66" y2="393.63" stroke="#c3914a"/><line x1="804.66" y1="393.63" x2="801.62" y2="389.36" stroke="#cd9555"/><line x1="801.62" y1="389.36" x2="798.57" y2="385.08" stroke="#d69962"/><line x1="798.57" y1="385.08" x2="795.53" y2="380.8" stroke="#dd9d70"/><line x1="795.53" y1="380.8" x2="792.49" y2="376.53" stroke="#e3a280"/><line x1="792.49" y1="376.53" x2="789.44" y2="372.25" stroke="#e7a891"/><line x1="789.44" y1="372.25" x2="786.4" y2="367.98" stroke="#e9ada3"/><line x1="786.4" y1="367.98" x2="783.36" y2="363.7" stroke="#eab2b4"/><line x1="783.36" y1="363.7" x2="780.31" y2="359.42" stroke="#ebb8c4"/><line x1="780.31" y1="359.42" x2="777.27" y2="355.15" stroke="#ebbed5"/><line x1="880.16" y1="487.27" x2="877.11" y2="482.86" stroke="#1c2959"/><line x1="877.11" y1="482.86" x2="874.07" y2="478.45" stroke="#1f2e5c"/><line x1="874.07" y1="478.45" x2="871.02" y2="474.04" stroke="#25375e"/><line x1="871.02" y1="474.04" x2="867.98" y2="469.63" stroke="#2a4060"/><line x1="867.98" y1="469.63" x2="864.94" y2="465.22" stroke="#2e4762"/><line x1="864.94" y1="465.22" x2="861.89" y2="460.81" stroke="#324e63"/><line x1="861.89" y1="460.81" x2="858.85" y2="456.4" stroke="#365564"/><line x1="858.85" y1="456.4" x2="855.81" y2="451.99" stroke="#3a5b63"/><line x1="855.81" y1="451.99" x2="852.76" y2="447.58" stroke="#3f6162"/><line x1="852.76" y1="447.58" x2="849.72" y2="443.17" stroke="#45675f"/><line x1="849.72" y1="443.17" x2="846.67" y2="438.75" stroke="#4b6d5d"/><line x1="846.67" y1="438.75" x2="843.63" y2="434.34" stroke="#527058"/><line x1="843.63" y1="434.34" x2="840.59" y2="429.93" stroke="#597352"/><line x1="840.59" y1="429.93" x2="837.54" y2="425.52" stroke="#62764d"/><line x1="837.54" y1="425.52" x2="834.5" y2="421.11" stroke="#6b7947"/><line x1="834.5" y1="421.11" x2="831.45" y2="416.7" stroke="#747c42"/><line x1="831.45" y1="416.7" x2="828.41" y2="412.29" stroke="#7e803d"/><line x1="828.41" y1="412.29" x2="825.37" y2="407.88" stroke="#888339"/><line x1="825.37" y1="407.88" x2="822.32" y2="403.47" stroke="#928639"/><line x1="822.32" y1="403.47" x2="819.28" y2="399.06" stroke="#9e893a"/><line x1="819.28" y1="399.06" x2="816.24" y2="394.65" stroke="#a98c3c"/><line x1="816.24" y1="394.65" x2="813.19" y2="390.24" stroke="#b68f43"/><line x1="813.19" y1="390.24" x2="810.15" y2="385.83" stroke="#c3914a"/><line x1="810.15" y1="385.83" x2="807.1" y2="381.42" stroke="#cd9555"/><line x1="807.1" y1="381.42" x2="804.06" y2="377.01" stroke="#d69962"/><line x1="804.06" y1="377.01" x2="801.02" y2="372.6" stroke="#dd9d70"/><line x1="801.02" y1="372.6" x2="797.97" y2="368.19" stroke="#e3a280"/><line x1="797.97" y1="368.19" x2="794.93" y2="363.78" stroke="#e7a891"/><line x1="794.93" y1="363.78" x2="791.89" y2="359.37" stroke="#e9ada3"/><line x1="791.89" y1="359.37" x2="788.84" y2="354.96" stroke="#eab2b4"/><line x1="788.84" y1="354.96" x2="785.8" y2="350.55" stroke="#ebb8c4"/><line x1="785.8" y1="350.55" x2="782.75" y2="346.14" stroke="#ebbed5"/><line x1="885.64" y1="482.54" x2="882.6" y2="478" stroke="#1c2959"/><line x1="882.6" y1="478" x2="879.55" y2="473.45" stroke="#1f2e5c"/><line x1="879.55" y1="473.45" x2="876.51" y2="468.91" stroke="#25375e"/><line x1="876.51" y1="468.91" x2="873.47" y2="464.37" stroke="#2a4060"/><line x1="873.47" y1="464.37" x2="870.42" y2="459.82" stroke="#2e4762"/><line x1="870.42" y1="459.82" x2="867.38" y2="455.28" stroke="#324e63"/><line x1="867.38" y1="455.28" x2="864.34" y2="450.73" stroke="#365564"/><line x1="864.34" y1="450.73" x2="861.29" y2="446.19" stroke="#3a5b63"/><line x1="861.29" y1="446.19" x2="858.25" y2="441.65" stroke="#3f6162"/><line x1="858.25" y1="441.65" x2="855.2" y2="437.1" stroke="#45675f"/><line x1="855.2" y1="437.1" x2="852.16" y2="432.56" stroke="#4b6d5d"/><line x1="852.16" y1="432.56" x2="849.12" y2="428.01" stroke="#527058"/><line x1="849.12" y1="428.01" x2="846.07" y2="423.47" stroke="#597352"/><line x1="846.07" y1="423.47" x2="843.03" y2="418.93" stroke="#62764d"/><line x1="843.03" y1="418.93" x2="839.99" y2="414.38" stroke="#6b7947"/><line x1="839.99" y1="414.38" x2="836.94" y2="409.84" stroke="#747c42"/><line x1="836.94" y1="409.84" x2="833.9" y2="405.29" stroke="#7e803d"/><line x1="833.9" y1="405.29" x2="830.85" y2="400.75" stroke="#888339"/><line x1="830.85" y1="400.75" x2="827.81" y2="396.21" stroke="#928639"/><line x1="827.81" y1="396.21" x2="824.77" y2="391.66" stroke="#9e893a"/><line x1="824.77" y1="391.66" x2="821.72" y2="387.12" stroke="#a98c3c"/><line x1="821.72" y1="387.12" x2="818.68" y2="382.57" stroke="#b68f43"/><line x1="818.68" y1="382.57" x2="815.63" y2="378.03" stroke="#c3914a"/><line x1="815.63" y1="378.03" x2="812.59" y2="373.49" stroke="#cd9555"/><line x1="812.59" y1="373.49" x2="809.55" y2="368.94" stroke="#d69962"/><line x1="809.55" y1="368.94" x2="806.5" y2="364.4" stroke="#dd9d70"/><line x1="806.5" y1="364.4" x2="803.46" y2="359.85" stroke="#e3a280"/><line x1="803.46" y1="359.85" x2="800.42" y2="355.31" stroke="#e7a891"/><line x1="800.42" y1="355.31" x2="797.37" y2="350.77" stroke="#e9ada3"/><line x1="797.37" y1="350.77" x2="794.33" y2="346.22" stroke="#eab2b4"/><line x1="794.33" y1="346.22" x2="791.28" y2="341.68" stroke="#ebb8c4"/><line x1="791.28" y1="341.68" x2="788.24" y2="337.13" stroke="#ebbed5"/><line x1="891.13" y1="477.82" x2="888.08" y2="473.14" stroke="#1c2959"/><line x1="888.08" y1="473.14" x2="885.04" y2="468.46" stroke="#1f2e5c"/><line x1="885.04" y1="468.46" x2="882" y2="463.78" stroke="#25375e"/><line x1="882" y1="463.78" x2="878.95" y2="459.11" stroke="#2a4060"/><line x1="878.95" y1="459.11" x2="875.91" y2="454.43" stroke="#2e4762"/><line x1="875.91" y1="454.43" x2="872.87" y2="449.75" stroke="#324e63"/><line x1="872.87" y1="449.75" x2="869.82" y2="445.07" stroke="#365564"/><line x1="869.82" y1="445.07" x2="866.78" y2="440.4" stroke="#3a5b63"/><line x1="866.78" y1="440.4" x2="863.73" y2="435.72" stroke="#3f6162"/><line x1="863.73" y1="435.72" x2="860.69" y2="431.04" stroke="#45675f"/><line x1="860.69" y1="431.04" x2="857.65" y2="426.36" stroke="#4b6d5d"/><line x1="857.65" y1="426.36" x2="854.6" y2="421.68" stroke="#527058"/><line x1="854.6" y1="421.68" x2="851.56" y2="417.01" stroke="#597352"/><line x1="851.56" y1="417.01" x2="848.52" y2="412.33" stroke="#62764d"/><line x1="848.52" y1="412.33" x2="845.47" y2="407.65" stroke="#6b7947"/><line x1="845.47" y1="407.65" x2="842.43" y2="402.97" stroke="#747c42"/><line x1="842.43" y1="402.97" x2="839.38" y2="398.29" stroke="#7e803d"/><line x1="839.38" y1="398.29" x2="836.34" y2="393.62" stroke="#888339"/><line x1="836.34" y1="393.62" x2="833.3" y2="388.94" stroke="#928639"/><line x1="833.3" y1="388.94" x2="830.25" y2="384.26" stroke="#9e893a"/><line x1="830.25" y1="384.26" x2="827.21" y2="379.58" stroke="#a98c3c"/><line x1="827.21" y1="379.58" x2="824.16" y2="374.91" stroke="#b68f43"/><line x1="824.16" y1="374.91" x2="821.12" y2="370.23" stroke="#c3914a"/><line x1="821.12" y1="370.23" x2="818.08" y2="365.55" stroke="#cd9555"/><line x1="818.08" y1="365.55" x2="815.03" y2="360.87" stroke="#d69962"/><line x1="815.03" y1="360.87" x2="811.99" y2="356.19" stroke="#dd9d70"/><line x1="811.99" y1="356.19" x2="808.95" y2="351.52" stroke="#e3a280"/><line x1="808.95" y1="351.52" x2="805.9" y2="346.84" stroke="#e7a891"/><line x1="805.9" y1="346.84" x2="802.86" y2="342.16" stroke="#e9ada3"/><line x1="802.86" y1="342.16" x2="799.81" y2="337.48" stroke="#eab2b4"/><line x1="799.81" y1="337.48" x2="796.77" y2="332.8" stroke="#ebb8c4"/><line x1="796.77" y1="332.8" x2="793.73" y2="328.13" stroke="#ebbed5"/><line x1="896.61" y1="473.09" x2="893.57" y2="468.28" stroke="#1c2959"/><line x1="893.57" y1="468.28" x2="890.53" y2="463.47" stroke="#1f2e5c"/><line x1="890.53" y1="463.47" x2="887.48" y2="458.66" stroke="#25375e"/><line x1="887.48" y1="458.66" x2="884.44" y2="453.85" stroke="#2a4060"/><line x1="884.44" y1="453.85" x2="881.4" y2="449.04" stroke="#2e4762"/><line x1="881.4" y1="449.04" x2="878.35" y2="444.22" stroke="#324e63"/><line x1="878.35" y1="444.22" x2="875.31" y2="439.41" stroke="#365564"/><line x1="875.31" y1="439.41" x2="872.26" y2="434.6" stroke="#3a5b63"/><line x1="872.26" y1="434.6" x2="869.22" y2="429.79" stroke="#3f6162"/><line x1="869.22" y1="429.79" x2="866.18" y2="424.98" stroke="#45675f"/><line x1="866.18" y1="424.98" x2="863.13" y2="420.17" stroke="#4b6d5d"/><line x1="863.13" y1="420.17" x2="860.09" y2="415.35" stroke="#527058"/><line x1="860.09" y1="415.35" x2="857.05" y2="410.54" stroke="#597352"/><line x1="857.05" y1="410.54" x2="854" y2="405.73" stroke="#62764d"/><line x1="854" y1="405.73" x2="850.96" y2="400.92" stroke="#6b7947"/><line x1="850.96" y1="400.92" x2="847.91" y2="396.11" stroke="#747c42"/><line x1="847.91" y1="396.11" x2="844.87" y2="391.3" stroke="#7e803d"/><line x1="844.87" y1="391.3" x2="841.83" y2="386.48" stroke="#888339"/><line x1="841.83" y1="386.48" x2="838.78" y2="381.67" stroke="#928639"/><line x1="838.78" y1="381.67" x2="835.74" y2="376.86" stroke="#9e893a"/><line x1="835.74" y1="376.86" x2="832.7" y2="372.05" stroke="#a98c3c"/><line x1="832.7" y1="372.05" x2="829.65" y2="367.24" stroke="#b68f43"/><line x1="829.65" y1="367.24" x2="826.61" y2="362.42" stroke="#c3914a"/><line x1="826.61" y1="362.42" x2="823.56" y2="357.61" stroke="#cd9555"/><line x1="823.56" y1="357.61" x2="820.52" y2="352.8" stroke="#d69962"/><line x1="820.52" y1="352.8" x2="817.48" y2="347.99" stroke="#dd9d70"/><line x1="817.48" y1="347.99" x2="814.43" y2="343.18" stroke="#e3a280"/><line x1="814.43" y1="343.18" x2="811.39" y2="338.37" stroke="#e7a891"/><line x1="811.39" y1="338.37" x2="808.34" y2="333.55" stroke="#e9ada3"/><line x1="808.34" y1="333.55" x2="805.3" y2="328.74" stroke="#eab2b4"/><line x1="805.3" y1="328.74" x2="802.26" y2="323.93" stroke="#ebb8c4"/><line x1="802.26" y1="323.93" x2="799.21" y2="319.12" stroke="#ebbed5"/><line x1="902.1" y1="468.37" x2="899.06" y2="463.42" stroke="#1c2959"/><line x1="899.06" y1="463.42" x2="896.01" y2="458.48" stroke="#1f2e5c"/><line x1="896.01" y1="458.48" x2="892.97" y2="453.53" stroke="#25375e"/><line x1="892.97" y1="453.53" x2="889.93" y2="448.59" stroke="#2a4060"/><line x1="889.93" y1="448.59" x2="886.88" y2="443.64" stroke="#2e4762"/><line x1="886.88" y1="443.64" x2="883.84" y2="438.7" stroke="#324e63"/><line x1="883.84" y1="438.7" x2="880.79" y2="433.75" stroke="#365564"/><line x1="880.79" y1="433.75" x2="877.75" y2="428.81" stroke="#3a5b63"/><line x1="877.75" y1="428.81" x2="874.71" y2="423.86" stroke="#3f6162"/><line x1="874.71" y1="423.86" x2="871.66" y2="418.91" stroke="#45675f"/><line x1="871.66" y1="418.91" x2="868.62" y2="413.97" stroke="#4b6d5d"/><line x1="868.62" y1="413.97" x2="865.58" y2="409.02" stroke="#527058"/><line x1="865.58" y1="409.02" x2="862.53" y2="404.08" stroke="#597352"/><line x1="862.53" y1="404.08" x2="859.49" y2="399.13" stroke="#62764d"/><line x1="859.49" y1="399.13" x2="856.44" y2="394.19" stroke="#6b7947"/><line x1="856.44" y1="394.19" x2="853.4" y2="389.24" stroke="#747c42"/><line x1="853.4" y1="389.24" x2="850.36" y2="384.3" stroke="#7e803d"/><line x1="850.36" y1="384.3" x2="847.31" y2="379.35" stroke="#888339"/><line x1="847.31" y1="379.35" x2="844.27" y2="374.4" stroke="#928639"/><line x1="844.27" y1="374.4" x2="841.23" y2="369.46" stroke="#9e893a"/><line x1="841.23" y1="369.46" x2="838.18" y2="364.51" stroke="#a98c3c"/><line x1="838.18" y1="364.51" x2="835.14" y2="359.57" stroke="#b68f43"/><line x1="835.14" y1="359.57" x2="832.09" y2="354.62" stroke="#c3914a"/><line x1="832.09" y1="354.62" x2="829.05" y2="349.68" stroke="#cd9555"/><line x1="829.05" y1="349.68" x2="826.01" y2="344.73" stroke="#d69962"/><line x1="826.01" y1="344.73" x2="822.96" y2="339.79" stroke="#dd9d70"/><line x1="822.96" y1="339.79" x2="819.92" y2="334.84" stroke="#e3a280"/><line x1="819.92" y1="334.84" x2="816.87" y2="329.9" stroke="#e7a891"/><line x1="816.87" y1="329.9" x2="813.83" y2="324.95" stroke="#e9ada3"/><line x1="813.83" y1="324.95" x2="810.79" y2="320" stroke="#eab2b4"/><line x1="810.79" y1="320" x2="807.74" y2="315.06" stroke="#ebb8c4"/><line x1="807.74" y1="315.06" x2="804.7" y2="310.11" stroke="#ebbed5"/><line x1="907.59" y1="463.65" x2="904.54" y2="458.57" stroke="#1c2959"/><line x1="904.54" y1="458.57" x2="901.5" y2="453.49" stroke="#1f2e5c"/><line x1="901.5" y1="453.49" x2="898.46" y2="448.41" stroke="#25375e"/><line x1="898.46" y1="448.41" x2="895.41" y2="443.33" stroke="#2a4060"/><line x1="895.41" y1="443.33" x2="892.37" y2="438.25" stroke="#2e4762"/><line x1="892.37" y1="438.25" x2="889.32" y2="433.17" stroke="#324e63"/><line x1="889.32" y1="433.17" x2="886.28" y2="428.09" stroke="#365564"/><line x1="886.28" y1="428.09" x2="883.24" y2="423.01" stroke="#3a5b63"/><line x1="883.24" y1="423.01" x2="880.19" y2="417.93" stroke="#3f6162"/><line x1="880.19" y1="417.93" x2="877.15" y2="412.85" stroke="#45675f"/><line x1="877.15" y1="412.85" x2="874.11" y2="407.77" stroke="#4b6d5d"/><line x1="874.11" y1="407.77" x2="871.06" y2="402.69" stroke="#527058"/><line x1="871.06" y1="402.69" x2="868.02" y2="397.61" stroke="#597352"/><line x1="868.02" y1="397.61" x2="864.97" y2="392.53" stroke="#62764d"/><line x1="864.97" y1="392.53" x2="861.93" y2="387.46" stroke="#6b7947"/><line x1="861.93" y1="387.46" x2="858.89" y2="382.38" stroke="#747c42"/><line x1="858.89" y1="382.38" x2="855.84" y2="377.3" stroke="#7e803d"/><line x1="855.84" y1="377.3" x2="852.8" y2="372.22" stroke="#888339"/><line x1="852.8" y1="372.22" x2="849.76" y2="367.14" stroke="#928639"/><line x1="849.76" y1="367.14" x2="846.71" y2="362.06" stroke="#9e893a"/><line x1="846.71" y1="362.06" x2="843.67" y2="356.98" stroke="#a98c3c"/><line x1="843.67" y1="356.98" x2="840.62" y2="351.9" stroke="#b68f43"/><line x1="840.62" y1="351.9" x2="837.58" y2="346.82" stroke="#c3914a"/><line x1="837.58" y1="346.82" x2="834.54" y2="341.74" stroke="#cd9555"/><line x1="834.54" y1="341.74" x2="831.49" y2="336.66" stroke="#d69962"/><line x1="831.49" y1="336.66" x2="828.45" y2="331.58" stroke="#dd9d70"/><line x1="828.45" y1="331.58" x2="825.41" y2="326.5" stroke="#e3a280"/><line x1="825.41" y1="326.5" x2="822.36" y2="321.42" stroke="#e7a891"/><line x1="822.36" y1="321.42" x2="819.32" y2="316.34" stroke="#e9ada3"/><line x1="819.32" y1="316.34" x2="816.27" y2="311.27" stroke="#eab2b4"/><line x1="816.27" y1="311.27" x2="813.23" y2="306.19" stroke="#ebb8c4"/><line x1="813.23" y1="306.19" x2="810.19" y2="301.11" stroke="#ebbed5"/><line x1="913.07" y1="458.92" x2="910.03" y2="453.71" stroke="#1c2959"/><line x1="910.03" y1="453.71" x2="906.99" y2="448.49" stroke="#1f2e5c"/><line x1="906.99" y1="448.49" x2="903.94" y2="443.28" stroke="#25375e"/><line x1="903.94" y1="443.28" x2="900.9" y2="438.07" stroke="#2a4060"/><line x1="900.9" y1="438.07" x2="897.86" y2="432.85" stroke="#2e4762"/><line x1="897.86" y1="432.85" x2="894.81" y2="427.64" stroke="#324e63"/><line x1="894.81" y1="427.64" x2="891.77" y2="422.43" stroke="#365564"/><line x1="891.77" y1="422.43" x2="888.72" y2="417.22" stroke="#3a5b63"/><line x1="888.72" y1="417.22" x2="885.68" y2="412" stroke="#3f6162"/><line x1="885.68" y1="412" x2="882.64" y2="406.79" stroke="#45675f"/><line x1="882.64" y1="406.79" x2="879.59" y2="401.58" stroke="#4b6d5d"/><line x1="879.59" y1="401.58" x2="876.55" y2="396.36" stroke="#527058"/><line x1="876.55" y1="396.36" x2="873.5" y2="391.15" stroke="#597352"/><line x1="873.5" y1="391.15" x2="870.46" y2="385.94" stroke="#62764d"/><line x1="870.46" y1="385.94" x2="867.42" y2="380.72" stroke="#6b7947"/><line x1="867.42" y1="380.72" x2="864.37" y2="375.51" stroke="#747c42"/><line x1="864.37" y1="375.51" x2="861.33" y2="370.3" stroke="#7e803d"/><line x1="861.33" y1="370.3" x2="858.29" y2="365.08" stroke="#888339"/><line x1="858.29" y1="365.08" x2="855.24" y2="359.87" stroke="#928639"/><line x1="855.24" y1="359.87" x2="852.2" y2="354.66" stroke="#9e893a"/><line x1="852.2" y1="354.66" x2="849.15" y2="349.44" stroke="#a98c3c"/><line x1="849.15" y1="349.44" x2="846.11" y2="344.23" stroke="#b68f43"/><line x1="846.11" y1="344.23" x2="843.07" y2="339.02" stroke="#c3914a"/><line x1="843.07" y1="339.02" x2="840.02" y2="333.8" stroke="#cd9555"/><line x1="840.02" y1="333.8" x2="836.98" y2="328.59" stroke="#d69962"/><line x1="836.98" y1="328.59" x2="833.94" y2="323.38" stroke="#dd9d70"/><line x1="833.94" y1="323.38" x2="830.89" y2="318.17" stroke="#e3a280"/><line x1="830.89" y1="318.17" x2="827.85" y2="312.95" stroke="#e7a891"/><line x1="827.85" y1="312.95" x2="824.8" y2="307.74" stroke="#e9ada3"/><line x1="824.8" y1="307.74" x2="821.76" y2="302.53" stroke="#eab2b4"/><line x1="821.76" y1="302.53" x2="818.72" y2="297.31" stroke="#ebb8c4"/><line x1="818.72" y1="297.31" x2="815.67" y2="292.1" stroke="#ebbed5"/><line x1="918.56" y1="454.2" x2="915.52" y2="448.85" stroke="#1c2959"/><line x1="915.52" y1="448.85" x2="912.47" y2="443.5" stroke="#1f2e5c"/><line x1="912.47" y1="443.5" x2="909.43" y2="438.16" stroke="#25375e"/><line x1="909.43" y1="438.16" x2="906.39" y2="432.81" stroke="#2a4060"/><line x1="906.39" y1="432.81" x2="903.34" y2="427.46" stroke="#2e4762"/><line x1="903.34" y1="427.46" x2="900.3" y2="422.11" stroke="#324e63"/><line x1="900.3" y1="422.11" x2="897.25" y2="416.77" stroke="#365564"/><line x1="897.25" y1="416.77" x2="894.21" y2="411.42" stroke="#3a5b63"/><line x1="894.21" y1="411.42" x2="891.17" y2="406.07" stroke="#3f6162"/><line x1="891.17" y1="406.07" x2="888.12" y2="400.73" stroke="#45675f"/><line x1="888.12" y1="400.73" x2="885.08" y2="395.38" stroke="#4b6d5d"/><line x1="885.08" y1="395.38" x2="882.03" y2="390.03" stroke="#527058"/><line x1="882.03" y1="390.03" x2="878.99" y2="384.69" stroke="#597352"/><line x1="878.99" y1="384.69" x2="875.95" y2="379.34" stroke="#62764d"/><line x1="875.95" y1="379.34" x2="872.9" y2="373.99" stroke="#6b7947"/><line x1="872.9" y1="373.99" x2="869.86" y2="368.64" stroke="#747c42"/><line x1="869.86" y1="368.64" x2="866.82" y2="363.3" stroke="#7e803d"/><line x1="866.82" y1="363.3" x2="863.77" y2="357.95" stroke="#888339"/><line x1="863.77" y1="357.95" x2="860.73" y2="352.6" stroke="#928639"/><line x1="860.73" y1="352.6" x2="857.68" y2="347.26" stroke="#9e893a"/><line x1="857.68" y1="347.26" x2="854.64" y2="341.91" stroke="#a98c3c"/><line x1="854.64" y1="341.91" x2="851.6" y2="336.56" stroke="#b68f43"/><line x1="851.6" y1="336.56" x2="848.55" y2="331.22" stroke="#c3914a"/><line x1="848.55" y1="331.22" x2="845.51" y2="325.87" stroke="#cd9555"/><line x1="845.51" y1="325.87" x2="842.47" y2="320.52" stroke="#d69962"/><line x1="842.47" y1="320.52" x2="839.42" y2="315.17" stroke="#dd9d70"/><line x1="839.42" y1="315.17" x2="836.38" y2="309.83" stroke="#e3a280"/><line x1="836.38" y1="309.83" x2="833.33" y2="304.48" stroke="#e7a891"/><line x1="833.33" y1="304.48" x2="830.29" y2="299.13" stroke="#e9ada3"/><line x1="830.29" y1="299.13" x2="827.25" y2="293.79" stroke="#eab2b4"/><line x1="827.25" y1="293.79" x2="824.2" y2="288.44" stroke="#ebb8c4"/><line x1="824.2" y1="288.44" x2="821.16" y2="283.09" stroke="#ebbed5"/><line x1="924.05" y1="449.47" x2="921" y2="443.99" stroke="#1c2959"/><line x1="921" y1="443.99" x2="917.96" y2="438.51" stroke="#1f2e5c"/><line x1="917.96" y1="438.51" x2="914.92" y2="433.03" stroke="#25375e"/><line x1="914.92" y1="433.03" x2="911.87" y2="427.55" stroke="#2a4060"/><line x1="911.87" y1="427.55" x2="908.83" y2="422.07" stroke="#2e4762"/><line x1="908.83" y1="422.07" x2="905.78" y2="416.59" stroke="#324e63"/><line x1="905.78" y1="416.59" x2="902.74" y2="411.11" stroke="#365564"/><line x1="902.74" y1="411.11" x2="899.7" y2="405.63" stroke="#3a5b63"/><line x1="899.7" y1="405.63" x2="896.65" y2="400.14" stroke="#3f6162"/><line x1="896.65" y1="400.14" x2="893.61" y2="394.66" stroke="#45675f"/><line x1="893.61" y1="394.66" x2="890.57" y2="389.18" stroke="#4b6d5d"/><line x1="890.57" y1="389.18" x2="887.52" y2="383.7" stroke="#527058"/><line x1="887.52" y1="383.7" x2="884.48" y2="378.22" stroke="#597352"/><line x1="884.48" y1="378.22" x2="881.43" y2="372.74" stroke="#62764d"/><line x1="881.43" y1="372.74" x2="878.39" y2="367.26" stroke="#6b7947"/><line x1="878.39" y1="367.26" x2="875.35" y2="361.78" stroke="#747c42"/><line x1="875.35" y1="361.78" x2="872.3" y2="356.3" stroke="#7e803d"/><line x1="872.3" y1="356.3" x2="869.26" y2="350.82" stroke="#888339"/><line x1="869.26" y1="350.82" x2="866.21" y2="345.34" stroke="#928639"/><line x1="866.21" y1="345.34" x2="863.17" y2="339.86" stroke="#9e893a"/><line x1="863.17" y1="339.86" x2="860.13" y2="334.38" stroke="#a98c3c"/><line x1="860.13" y1="334.38" x2="857.08" y2="328.89" stroke="#b68f43"/><line x1="857.08" y1="328.89" x2="854.04" y2="323.41" stroke="#c3914a"/><line x1="854.04" y1="323.41" x2="851" y2="317.93" stroke="#cd9555"/><line x1="851" y1="317.93" x2="847.95" y2="312.45" stroke="#d69962"/><line x1="847.95" y1="312.45" x2="844.91" y2="306.97" stroke="#dd9d70"/><line x1="844.91" y1="306.97" x2="841.86" y2="301.49" stroke="#e3a280"/><line x1="841.86" y1="301.49" x2="838.82" y2="296.01" stroke="#e7a891"/><line x1="838.82" y1="296.01" x2="835.78" y2="290.53" stroke="#e9ada3"/><line x1="835.78" y1="290.53" x2="832.73" y2="285.05" stroke="#eab2b4"/><line x1="832.73" y1="285.05" x2="829.69" y2="279.57" stroke="#ebb8c4"/><line x1="829.69" y1="279.57" x2="826.65" y2="274.09" stroke="#ebbed5"/><line x1="929.53" y1="444.75" x2="926.49" y2="439.13" stroke="#1c2959"/><line x1="926.49" y1="439.13" x2="923.45" y2="433.52" stroke="#1f2e5c"/><line x1="923.45" y1="433.52" x2="920.4" y2="427.9" stroke="#25375e"/><line x1="920.4" y1="427.9" x2="917.36" y2="422.29" stroke="#2a4060"/><line x1="917.36" y1="422.29" x2="914.31" y2="416.67" stroke="#2e4762"/><line x1="914.31" y1="416.67" x2="911.27" y2="411.06" stroke="#324e63"/><line x1="911.27" y1="411.06" x2="908.23" y2="405.44" stroke="#365564"/><line x1="908.23" y1="405.44" x2="905.18" y2="399.83" stroke="#3a5b63"/><line x1="905.18" y1="399.83" x2="902.14" y2="394.22" stroke="#3f6162"/><line x1="902.14" y1="394.22" x2="899.1" y2="388.6" stroke="#45675f"/><line x1="899.1" y1="388.6" x2="896.05" y2="382.99" stroke="#4b6d5d"/><line x1="896.05" y1="382.99" x2="893.01" y2="377.37" stroke="#527058"/><line x1="893.01" y1="377.37" x2="889.96" y2="371.76" stroke="#597352"/><line x1="889.96" y1="371.76" x2="886.92" y2="366.14" stroke="#62764d"/><line x1="886.92" y1="366.14" x2="883.88" y2="360.53" stroke="#6b7947"/><line x1="883.88" y1="360.53" x2="880.83" y2="354.91" stroke="#747c42"/><line x1="880.83" y1="354.91" x2="877.79" y2="349.3" stroke="#7e803d"/><line x1="877.79" y1="349.3" x2="874.74" y2="343.68" stroke="#888339"/><line x1="874.74" y1="343.68" x2="871.7" y2="338.07" stroke="#928639"/><line x1="871.7" y1="338.07" x2="868.66" y2="332.46" stroke="#9e893a"/><line x1="868.66" y1="332.46" x2="865.61" y2="326.84" stroke="#a98c3c"/><line x1="865.61" y1="326.84" x2="862.57" y2="321.23" stroke="#b68f43"/><line x1="862.57" y1="321.23" x2="859.53" y2="315.61" stroke="#c3914a"/><line x1="859.53" y1="315.61" x2="856.48" y2="310" stroke="#cd9555"/><line x1="856.48" y1="310" x2="853.44" y2="304.38" stroke="#d69962"/><line x1="853.44" y1="304.38" x2="850.39" y2="298.77" stroke="#dd9d70"/><line x1="850.39" y1="298.77" x2="847.35" y2="293.15" stroke="#e3a280"/><line x1="847.35" y1="293.15" x2="844.31" y2="287.54" stroke="#e7a891"/><line x1="844.31" y1="287.54" x2="841.26" y2="281.92" stroke="#e9ada3"/><line x1="841.26" y1="281.92" x2="838.22" y2="276.31" stroke="#eab2b4"/><line x1="838.22" y1="276.31" x2="835.18" y2="270.69" stroke="#ebb8c4"/><line x1="835.18" y1="270.69" x2="832.13" y2="265.08" stroke="#ebbed5"/><line x1="935.02" y1="440.02" x2="931.98" y2="434.27" stroke="#1c2959"/><line x1="931.98" y1="434.27" x2="928.93" y2="428.53" stroke="#1f2e5c"/><line x1="928.93" y1="428.53" x2="925.89" y2="422.78" stroke="#25375e"/><line x1="925.89" y1="422.78" x2="922.84" y2="417.03" stroke="#2a4060"/><line x1="922.84" y1="417.03" x2="919.8" y2="411.28" stroke="#2e4762"/><line x1="919.8" y1="411.28" x2="916.76" y2="405.53" stroke="#324e63"/><line x1="916.76" y1="405.53" x2="913.71" y2="399.78" stroke="#365564"/><line x1="913.71" y1="399.78" x2="910.67" y2="394.04" stroke="#3a5b63"/><line x1="910.67" y1="394.04" x2="907.63" y2="388.29" stroke="#3f6162"/><line x1="907.63" y1="388.29" x2="904.58" y2="382.54" stroke="#45675f"/><line x1="904.58" y1="382.54" x2="901.54" y2="376.79" stroke="#4b6d5d"/><line x1="901.54" y1="376.79" x2="898.49" y2="371.04" stroke="#527058"/><line x1="898.49" y1="371.04" x2="895.45" y2="365.29" stroke="#597352"/><line x1="895.45" y1="365.29" x2="892.41" y2="359.54" stroke="#62764d"/><line x1="892.41" y1="359.54" x2="889.36" y2="353.8" stroke="#6b7947"/><line x1="889.36" y1="353.8" x2="886.32" y2="348.05" stroke="#747c42"/><line x1="886.32" y1="348.05" x2="883.28" y2="342.3" stroke="#7e803d"/><line x1="883.28" y1="342.3" x2="880.23" y2="336.55" stroke="#888339"/><line x1="880.23" y1="336.55" x2="877.19" y2="330.8" stroke="#928639"/><line x1="877.19" y1="330.8" x2="874.14" y2="325.05" stroke="#9e893a"/><line x1="874.14" y1="325.05" x2="871.1" y2="319.31" stroke="#a98c3c"/><line x1="871.1" y1="319.31" x2="868.06" y2="313.56" stroke="#b68f43"/><line x1="868.06" y1="313.56" x2="865.01" y2="307.81" stroke="#c3914a"/><line x1="865.01" y1="307.81" x2="861.97" y2="302.06" stroke="#cd9555"/><line x1="861.97" y1="302.06" x2="858.92" y2="296.31" stroke="#d69962"/><line x1="858.92" y1="296.31" x2="855.88" y2="290.56" stroke="#dd9d70"/><line x1="855.88" y1="290.56" x2="852.84" y2="284.82" stroke="#e3a280"/><line x1="852.84" y1="284.82" x2="849.79" y2="279.07" stroke="#e7a891"/><line x1="849.79" y1="279.07" x2="846.75" y2="273.32" stroke="#e9ada3"/><line x1="846.75" y1="273.32" x2="843.71" y2="267.57" stroke="#eab2b4"/><line x1="843.71" y1="267.57" x2="840.66" y2="261.82" stroke="#ebb8c4"/><line x1="840.66" y1="261.82" x2="837.62" y2="256.07" stroke="#ebbed5"/><line x1="940.51" y1="435.3" x2="937.46" y2="429.42" stroke="#1c2959"/><line x1="937.46" y1="429.42" x2="934.42" y2="423.53" stroke="#1f2e5c"/><line x1="934.42" y1="423.53" x2="931.37" y2="417.65" stroke="#25375e"/><line x1="931.37" y1="417.65" x2="928.33" y2="411.77" stroke="#2a4060"/><line x1="928.33" y1="411.77" x2="925.29" y2="405.89" stroke="#2e4762"/><line x1="925.29" y1="405.89" x2="922.24" y2="400" stroke="#324e63"/><line x1="922.24" y1="400" x2="919.2" y2="394.12" stroke="#365564"/><line x1="919.2" y1="394.12" x2="916.16" y2="388.24" stroke="#3a5b63"/><line x1="916.16" y1="388.24" x2="913.11" y2="382.36" stroke="#3f6162"/><line x1="913.11" y1="382.36" x2="910.07" y2="376.48" stroke="#45675f"/><line x1="910.07" y1="376.48" x2="907.02" y2="370.59" stroke="#4b6d5d"/><line x1="907.02" y1="370.59" x2="903.98" y2="364.71" stroke="#527058"/><line x1="903.98" y1="364.71" x2="900.94" y2="358.83" stroke="#597352"/><line x1="900.94" y1="358.83" x2="897.89" y2="352.95" stroke="#62764d"/><line x1="897.89" y1="352.95" x2="894.85" y2="347.06" stroke="#6b7947"/><line x1="894.85" y1="347.06" x2="891.81" y2="341.18" stroke="#747c42"/><line x1="891.81" y1="341.18" x2="888.76" y2="335.3" stroke="#7e803d"/><line x1="888.76" y1="335.3" x2="885.72" y2="329.42" stroke="#888339"/><line x1="885.72" y1="329.42" x2="882.67" y2="323.54" stroke="#928639"/><line x1="882.67" y1="323.54" x2="879.63" y2="317.65" stroke="#9e893a"/><line x1="879.63" y1="317.65" x2="876.59" y2="311.77" stroke="#a98c3c"/><line x1="876.59" y1="311.77" x2="873.54" y2="305.89" stroke="#b68f43"/><line x1="873.54" y1="305.89" x2="870.5" y2="300.01" stroke="#c3914a"/><line x1="870.5" y1="300.01" x2="867.45" y2="294.12" stroke="#cd9555"/><line x1="867.45" y1="294.12" x2="864.41" y2="288.24" stroke="#d69962"/><line x1="864.41" y1="288.24" x2="861.37" y2="282.36" stroke="#dd9d70"/><line x1="861.37" y1="282.36" x2="858.32" y2="276.48" stroke="#e3a280"/><line x1="858.32" y1="276.48" x2="855.28" y2="270.6" stroke="#e7a891"/><line x1="855.28" y1="270.6" x2="852.24" y2="264.71" stroke="#e9ada3"/><line x1="852.24" y1="264.71" x2="849.19" y2="258.83" stroke="#eab2b4"/><line x1="849.19" y1="258.83" x2="846.15" y2="252.95" stroke="#ebb8c4"/><line x1="846.15" y1="252.95" x2="843.1" y2="247.07" stroke="#ebbed5"/><line x1="945.99" y1="430.57" x2="942.95" y2="424.56" stroke="#1c2959"/><line x1="942.95" y1="424.56" x2="939.9" y2="418.54" stroke="#1f2e5c"/><line x1="939.9" y1="418.54" x2="936.86" y2="412.53" stroke="#25375e"/><line x1="936.86" y1="412.53" x2="933.82" y2="406.51" stroke="#2a4060"/><line x1="933.82" y1="406.51" x2="930.77" y2="400.49" stroke="#2e4762"/><line x1="930.77" y1="400.49" x2="927.73" y2="394.48" stroke="#324e63"/><line x1="927.73" y1="394.48" x2="924.69" y2="388.46" stroke="#365564"/><line x1="924.69" y1="388.46" x2="921.64" y2="382.45" stroke="#3a5b63"/><line x1="921.64" y1="382.45" x2="918.6" y2="376.43" stroke="#3f6162"/><line x1="918.6" y1="376.43" x2="915.55" y2="370.41" stroke="#45675f"/><line x1="915.55" y1="370.41" x2="912.51" y2="364.4" stroke="#4b6d5d"/><line x1="912.51" y1="364.4" x2="909.47" y2="358.38" stroke="#527058"/><line x1="909.47" y1="358.38" x2="906.42" y2="352.36" stroke="#597352"/><line x1="906.42" y1="352.36" x2="903.38" y2="346.35" stroke="#62764d"/><line x1="903.38" y1="346.35" x2="900.34" y2="340.33" stroke="#6b7947"/><line x1="900.34" y1="340.33" x2="897.29" y2="334.32" stroke="#747c42"/><line x1="897.29" y1="334.32" x2="894.25" y2="328.3" stroke="#7e803d"/><line x1="894.25" y1="328.3" x2="891.2" y2="322.28" stroke="#888339"/><line x1="891.2" y1="322.28" x2="888.16" y2="316.27" stroke="#928639"/><line x1="888.16" y1="316.27" x2="885.12" y2="310.25" stroke="#9e893a"/><line x1="885.12" y1="310.25" x2="882.07" y2="304.24" stroke="#a98c3c"/><line x1="882.07" y1="304.24" x2="879.03" y2="298.22" stroke="#b68f43"/><line x1="879.03" y1="298.22" x2="875.99" y2="292.2" stroke="#c3914a"/><line x1="875.99" y1="292.2" x2="872.94" y2="286.19" stroke="#cd9555"/><line x1="872.94" y1="286.19" x2="869.9" y2="280.17" stroke="#d69962"/><line x1="869.9" y1="280.17" x2="866.85" y2="274.16" stroke="#dd9d70"/><line x1="866.85" y1="274.16" x2="863.81" y2="268.14" stroke="#e3a280"/><line x1="863.81" y1="268.14" x2="860.77" y2="262.12" stroke="#e7a891"/><line x1="860.77" y1="262.12" x2="857.72" y2="256.11" stroke="#e9ada3"/><line x1="857.72" y1="256.11" x2="854.68" y2="250.09" stroke="#eab2b4"/><line x1="854.68" y1="250.09" x2="851.63" y2="244.08" stroke="#ebb8c4"/><line x1="851.63" y1="244.08" x2="848.59" y2="238.06" stroke="#ebbed5"/><line x1="951.48" y1="425.85" x2="948.44" y2="419.7" stroke="#1c2959"/><line x1="948.44" y1="419.7" x2="945.39" y2="413.55" stroke="#1f2e5c"/><line x1="945.39" y1="413.55" x2="942.35" y2="407.4" stroke="#25375e"/><line x1="942.35" y1="407.4" x2="939.3" y2="401.25" stroke="#2a4060"/><line x1="939.3" y1="401.25" x2="936.26" y2="395.1" stroke="#2e4762"/><line x1="936.26" y1="395.1" x2="933.22" y2="388.95" stroke="#324e63"/><line x1="933.22" y1="388.95" x2="930.17" y2="382.8" stroke="#365564"/><line x1="930.17" y1="382.8" x2="927.13" y2="376.65" stroke="#3a5b63"/><line x1="927.13" y1="376.65" x2="924.08" y2="370.5" stroke="#3f6162"/><line x1="924.08" y1="370.5" x2="921.04" y2="364.35" stroke="#45675f"/><line x1="921.04" y1="364.35" x2="918" y2="358.2" stroke="#4b6d5d"/><line x1="918" y1="358.2" x2="914.95" y2="352.05" stroke="#527058"/><line x1="914.95" y1="352.05" x2="911.91" y2="345.9" stroke="#597352"/><line x1="911.91" y1="345.9" x2="908.87" y2="339.75" stroke="#62764d"/><line x1="908.87" y1="339.75" x2="905.82" y2="333.6" stroke="#6b7947"/><line x1="905.82" y1="333.6" x2="902.78" y2="327.45" stroke="#747c42"/><line x1="902.78" y1="327.45" x2="899.73" y2="321.3" stroke="#7e803d"/><line x1="899.73" y1="321.3" x2="896.69" y2="315.15" stroke="#888339"/><line x1="896.69" y1="315.15" x2="893.65" y2="309" stroke="#928639"/><line x1="893.65" y1="309" x2="890.6" y2="302.85" stroke="#9e893a"/><line x1="890.6" y1="302.85" x2="887.56" y2="296.7" stroke="#a98c3c"/><line x1="887.56" y1="296.7" x2="884.52" y2="290.55" stroke="#b68f43"/><line x1="884.52" y1="290.55" x2="881.47" y2="284.4" stroke="#c3914a"/><line x1="881.47" y1="284.4" x2="878.43" y2="278.25" stroke="#cd9555"/><line x1="878.43" y1="278.25" x2="875.38" y2="272.1" stroke="#d69962"/><line x1="875.38" y1="272.1" x2="872.34" y2="265.95" stroke="#dd9d70"/><line x1="872.34" y1="265.95" x2="869.3" y2="259.8" stroke="#e3a280"/><line x1="869.3" y1="259.8" x2="866.25" y2="253.65" stroke="#e7a891"/><line x1="866.25" y1="253.65" x2="863.21" y2="247.5" stroke="#e9ada3"/><line x1="863.21" y1="247.5" x2="860.16" y2="241.35" stroke="#eab2b4"/><line x1="860.16" y1="241.35" x2="857.12" y2="235.2" stroke="#ebb8c4"/><line x1="857.12" y1="235.2" x2="854.08" y2="229.05" stroke="#ebbed5"/><line x1="956.97" y1="421.12" x2="953.92" y2="414.84" stroke="#1c2959"/><line x1="953.92" y1="414.84" x2="950.88" y2="408.56" stroke="#1f2e5c"/><line x1="950.88" y1="408.56" x2="947.83" y2="402.27" stroke="#25375e"/><line x1="947.83" y1="402.27" x2="944.79" y2="395.99" stroke="#2a4060"/><line x1="944.79" y1="395.99" x2="941.75" y2="389.71" stroke="#2e4762"/><line x1="941.75" y1="389.71" x2="938.7" y2="383.42" stroke="#324e63"/><line x1="938.7" y1="383.42" x2="935.66" y2="377.14" stroke="#365564"/><line x1="935.66" y1="377.14" x2="932.61" y2="370.86" stroke="#3a5b63"/><line x1="932.61" y1="370.86" x2="929.57" y2="364.57" stroke="#3f6162"/><line x1="929.57" y1="364.57" x2="926.53" y2="358.29" stroke="#45675f"/><line x1="926.53" y1="358.29" x2="923.48" y2="352" stroke="#4b6d5d"/><line x1="923.48" y1="352" x2="920.44" y2="345.72" stroke="#527058"/><line x1="920.44" y1="345.72" x2="917.4" y2="339.44" stroke="#597352"/><line x1="917.4" y1="339.44" x2="914.35" y2="333.15" stroke="#62764d"/><line x1="914.35" y1="333.15" x2="911.31" y2="326.87" stroke="#6b7947"/><line x1="911.31" y1="326.87" x2="908.26" y2="320.59" stroke="#747c42"/><line x1="908.26" y1="320.59" x2="905.22" y2="314.3" stroke="#7e803d"/><line x1="905.22" y1="314.3" x2="902.18" y2="308.02" stroke="#888339"/><line x1="902.18" y1="308.02" x2="899.13" y2="301.73" stroke="#928639"/><line x1="899.13" y1="301.73" x2="896.09" y2="295.45" stroke="#9e893a"/><line x1="896.09" y1="295.45" x2="893.05" y2="289.17" stroke="#a98c3c"/><line x1="893.05" y1="289.17" x2="890" y2="282.88" stroke="#b68f43"/><line x1="890" y1="282.88" x2="886.96" y2="276.6" stroke="#c3914a"/><line x1="886.96" y1="276.6" x2="883.91" y2="270.32" stroke="#cd9555"/><line x1="883.91" y1="270.32" x2="880.87" y2="264.03" stroke="#d69962"/><line x1="880.87" y1="264.03" x2="877.83" y2="257.75" stroke="#dd9d70"/><line x1="877.83" y1="257.75" x2="874.78" y2="251.46" stroke="#e3a280"/><line x1="874.78" y1="251.46" x2="871.74" y2="245.18" stroke="#e7a891"/><line x1="871.74" y1="245.18" x2="868.7" y2="238.9" stroke="#e9ada3"/><line x1="868.7" y1="238.9" x2="865.65" y2="232.61" stroke="#eab2b4"/><line x1="865.65" y1="232.61" x2="862.61" y2="226.33" stroke="#ebb8c4"/><line x1="862.61" y1="226.33" x2="859.56" y2="220.05" stroke="#ebbed5"/><line x1="962.45" y1="416.4" x2="959.41" y2="409.98" stroke="#1c2959"/><line x1="959.41" y1="409.98" x2="956.36" y2="403.57" stroke="#1f2e5c"/><line x1="956.36" y1="403.57" x2="953.32" y2="397.15" stroke="#25375e"/><line x1="953.32" y1="397.15" x2="950.28" y2="390.73" stroke="#2a4060"/><line x1="950.28" y1="390.73" x2="947.23" y2="384.31" stroke="#2e4762"/><line x1="947.23" y1="384.31" x2="944.19" y2="377.9" stroke="#324e63"/><line x1="944.19" y1="377.9" x2="941.15" y2="371.48" stroke="#365564"/><line x1="941.15" y1="371.48" x2="938.1" y2="365.06" stroke="#3a5b63"/><line x1="938.1" y1="365.06" x2="935.06" y2="358.64" stroke="#3f6162"/><line x1="935.06" y1="358.64" x2="932.01" y2="352.23" stroke="#45675f"/><line x1="932.01" y1="352.23" x2="928.97" y2="345.81" stroke="#4b6d5d"/><line x1="928.97" y1="345.81" x2="925.93" y2="339.39" stroke="#527058"/><line x1="925.93" y1="339.39" x2="922.88" y2="332.97" stroke="#597352"/><line x1="922.88" y1="332.97" x2="919.84" y2="326.56" stroke="#62764d"/><line x1="919.84" y1="326.56" x2="916.79" y2="320.14" stroke="#6b7947"/><line x1="916.79" y1="320.14" x2="913.75" y2="313.72" stroke="#747c42"/><line x1="913.75" y1="313.72" x2="910.71" y2="307.3" stroke="#7e803d"/><line x1="910.71" y1="307.3" x2="907.66" y2="300.89" stroke="#888339"/><line x1="907.66" y1="300.89" x2="904.62" y2="294.47" stroke="#928639"/><line x1="904.62" y1="294.47" x2="901.58" y2="288.05" stroke="#9e893a"/><line x1="901.58" y1="288.05" x2="898.53" y2="281.63" stroke="#a98c3c"/><line x1="898.53" y1="281.63" x2="895.49" y2="275.21" stroke="#b68f43"/><line x1="895.49" y1="275.21" x2="892.44" y2="268.8" stroke="#c3914a"/><line x1="892.44" y1="268.8" x2="889.4" y2="262.38" stroke="#cd9555"/><line x1="889.4" y1="262.38" x2="886.36" y2="255.96" stroke="#d69962"/><line x1="886.36" y1="255.96" x2="883.31" y2="249.54" stroke="#dd9d70"/><line x1="883.31" y1="249.54" x2="880.27" y2="243.13" stroke="#e3a280"/><line x1="880.27" y1="243.13" x2="877.23" y2="236.71" stroke="#e7a891"/><line x1="877.23" y1="236.71" x2="874.18" y2="230.29" stroke="#e9ada3"/><line x1="874.18" y1="230.29" x2="871.14" y2="223.87" stroke="#eab2b4"/><line x1="871.14" y1="223.87" x2="868.09" y2="217.46" stroke="#ebb8c4"/><line x1="868.09" y1="217.46" x2="865.05" y2="211.04" stroke="#ebbed5"/><line x1="967.94" y1="411.68" x2="964.89" y2="405.12" stroke="#1c2959"/><line x1="964.89" y1="405.12" x2="961.85" y2="398.57" stroke="#1f2e5c"/><line x1="961.85" y1="398.57" x2="958.81" y2="392.02" stroke="#25375e"/><line x1="958.81" y1="392.02" x2="955.76" y2="385.47" stroke="#2a4060"/><line x1="955.76" y1="385.47" x2="952.72" y2="378.92" stroke="#2e4762"/><line x1="952.72" y1="378.92" x2="949.68" y2="372.37" stroke="#324e63"/><line x1="949.68" y1="372.37" x2="946.63" y2="365.82" stroke="#365564"/><line x1="946.63" y1="365.82" x2="943.59" y2="359.27" stroke="#3a5b63"/><line x1="943.59" y1="359.27" x2="940.54" y2="352.71" stroke="#3f6162"/><line x1="940.54" y1="352.71" x2="937.5" y2="346.16" stroke="#45675f"/><line x1="937.5" y1="346.16" x2="934.46" y2="339.61" stroke="#4b6d5d"/><line x1="934.46" y1="339.61" x2="931.41" y2="333.06" stroke="#527058"/><line x1="931.41" y1="333.06" x2="928.37" y2="326.51" stroke="#597352"/><line x1="928.37" y1="326.51" x2="925.32" y2="319.96" stroke="#62764d"/><line x1="925.32" y1="319.96" x2="922.28" y2="313.41" stroke="#6b7947"/><line x1="922.28" y1="313.41" x2="919.24" y2="306.85" stroke="#747c42"/><line x1="919.24" y1="306.85" x2="916.19" y2="300.3" stroke="#7e803d"/><line x1="916.19" y1="300.3" x2="913.15" y2="293.75" stroke="#888339"/><line x1="913.15" y1="293.75" x2="910.11" y2="287.2" stroke="#928639"/><line x1="910.11" y1="287.2" x2="907.06" y2="280.65" stroke="#9e893a"/><line x1="907.06" y1="280.65" x2="904.02" y2="274.1" stroke="#a98c3c"/><line x1="904.02" y1="274.1" x2="900.97" y2="267.55" stroke="#b68f43"/><line x1="900.97" y1="267.55" x2="897.93" y2="261" stroke="#c3914a"/><line x1="897.93" y1="261" x2="894.89" y2="254.44" stroke="#cd9555"/><line x1="894.89" y1="254.44" x2="891.84" y2="247.89" stroke="#d69962"/><line x1="891.84" y1="247.89" x2="888.8" y2="241.34" stroke="#dd9d70"/><line x1="888.8" y1="241.34" x2="885.76" y2="234.79" stroke="#e3a280"/><line x1="885.76" y1="234.79" x2="882.71" y2="228.24" stroke="#e7a891"/><line x1="882.71" y1="228.24" x2="879.67" y2="221.69" stroke="#e9ada3"/><line x1="879.67" y1="221.69" x2="876.62" y2="215.14" stroke="#eab2b4"/><line x1="876.62" y1="215.14" x2="873.58" y2="208.58" stroke="#ebb8c4"/><line x1="873.58" y1="208.58" x2="870.54" y2="202.03" stroke="#ebbed5"/><line x1="973.42" y1="406.95" x2="970.38" y2="400.27" stroke="#1c2959"/><line x1="970.38" y1="400.27" x2="967.34" y2="393.58" stroke="#1f2e5c"/><line x1="967.34" y1="393.58" x2="964.29" y2="386.9" stroke="#25375e"/><line x1="964.29" y1="386.9" x2="961.25" y2="380.21" stroke="#2a4060"/><line x1="961.25" y1="380.21" x2="958.21" y2="373.53" stroke="#2e4762"/><line x1="958.21" y1="373.53" x2="955.16" y2="366.84" stroke="#324e63"/><line x1="955.16" y1="366.84" x2="952.12" y2="360.16" stroke="#365564"/><line x1="952.12" y1="360.16" x2="949.07" y2="353.47" stroke="#3a5b63"/><line x1="949.07" y1="353.47" x2="946.03" y2="346.79" stroke="#3f6162"/><line x1="946.03" y1="346.79" x2="942.99" y2="340.1" stroke="#45675f"/><line x1="942.99" y1="340.1" x2="939.94" y2="333.41" stroke="#4b6d5d"/><line x1="939.94" y1="333.41" x2="936.9" y2="326.73" stroke="#527058"/><line x1="936.9" y1="326.73" x2="933.86" y2="320.04" stroke="#597352"/><line x1="933.86" y1="320.04" x2="930.81" y2="313.36" stroke="#62764d"/><line x1="930.81" y1="313.36" x2="927.77" y2="306.67" stroke="#6b7947"/><line x1="927.77" y1="306.67" x2="924.72" y2="299.99" stroke="#747c42"/><line x1="924.72" y1="299.99" x2="921.68" y2="293.3" stroke="#7e803d"/><line x1="921.68" y1="293.3" x2="918.64" y2="286.62" stroke="#888339"/><line x1="918.64" y1="286.62" x2="915.59" y2="279.93" stroke="#928639"/><line x1="915.59" y1="279.93" x2="912.55" y2="273.25" stroke="#9e893a"/><line x1="912.55" y1="273.25" x2="909.5" y2="266.56" stroke="#a98c3c"/><line x1="909.5" y1="266.56" x2="906.46" y2="259.88" stroke="#b68f43"/><line x1="906.46" y1="259.88" x2="903.42" y2="253.19" stroke="#c3914a"/><line x1="903.42" y1="253.19" x2="900.37" y2="246.51" stroke="#cd9555"/><line x1="900.37" y1="246.51" x2="897.33" y2="239.82" stroke="#d69962"/><line x1="897.33" y1="239.82" x2="894.29" y2="233.14" stroke="#dd9d70"/><line x1="894.29" y1="233.14" x2="891.24" y2="226.45" stroke="#e3a280"/><line x1="891.24" y1="226.45" x2="888.2" y2="219.77" stroke="#e7a891"/><line x1="888.2" y1="219.77" x2="885.15" y2="213.08" stroke="#e9ada3"/><line x1="885.15" y1="213.08" x2="882.11" y2="206.4" stroke="#eab2b4"/><line x1="882.11" y1="206.4" x2="879.07" y2="199.71" stroke="#ebb8c4"/><line x1="879.07" y1="199.71" x2="876.02" y2="193.03" stroke="#ebbed5"/><line x1="978.91" y1="402.23" x2="975.87" y2="395.41" stroke="#1c2959"/><line x1="975.87" y1="395.41" x2="972.82" y2="388.59" stroke="#1f2e5c"/><line x1="972.82" y1="388.59" x2="969.78" y2="381.77" stroke="#25375e"/><line x1="969.78" y1="381.77" x2="966.74" y2="374.95" stroke="#2a4060"/><line x1="966.74" y1="374.95" x2="963.69" y2="368.13" stroke="#2e4762"/><line x1="963.69" y1="368.13" x2="960.65" y2="361.31" stroke="#324e63"/><line x1="960.65" y1="361.31" x2="957.6" y2="354.49" stroke="#365564"/><line x1="957.6" y1="354.49" x2="954.56" y2="347.68" stroke="#3a5b63"/><line x1="954.56" y1="347.68" x2="951.52" y2="340.86" stroke="#3f6162"/><line x1="951.52" y1="340.86" x2="948.47" y2="334.04" stroke="#45675f"/><line x1="948.47" y1="334.04" x2="945.43" y2="327.22" stroke="#4b6d5d"/><line x1="945.43" y1="327.22" x2="942.39" y2="320.4" stroke="#527058"/><line x1="942.39" y1="320.4" x2="939.34" y2="313.58" stroke="#597352"/><line x1="939.34" y1="313.58" x2="936.3" y2="306.76" stroke="#62764d"/><line x1="936.3" y1="306.76" x2="933.25" y2="299.94" stroke="#6b7947"/><line x1="933.25" y1="299.94" x2="930.21" y2="293.12" stroke="#747c42"/><line x1="930.21" y1="293.12" x2="927.17" y2="286.3" stroke="#7e803d"/><line x1="927.17" y1="286.3" x2="924.12" y2="279.49" stroke="#888339"/><line x1="924.12" y1="279.49" x2="921.08" y2="272.67" stroke="#928639"/><line x1="921.08" y1="272.67" x2="918.03" y2="265.85" stroke="#9e893a"/><line x1="918.03" y1="265.85" x2="914.99" y2="259.03" stroke="#a98c3c"/><line x1="914.99" y1="259.03" x2="911.95" y2="252.21" stroke="#b68f43"/><line x1="911.95" y1="252.21" x2="908.9" y2="245.39" stroke="#c3914a"/><line x1="908.9" y1="245.39" x2="905.86" y2="238.57" stroke="#cd9555"/><line x1="905.86" y1="238.57" x2="902.82" y2="231.75" stroke="#d69962"/><line x1="902.82" y1="231.75" x2="899.77" y2="224.93" stroke="#dd9d70"/><line x1="899.77" y1="224.93" x2="896.73" y2="218.11" stroke="#e3a280"/><line x1="896.73" y1="218.11" x2="893.68" y2="211.3" stroke="#e7a891"/><line x1="893.68" y1="211.3" x2="890.64" y2="204.48" stroke="#e9ada3"/><line x1="890.64" y1="204.48" x2="887.6" y2="197.66" stroke="#eab2b4"/><line x1="887.6" y1="197.66" x2="884.55" y2="190.84" stroke="#ebb8c4"/><line x1="884.55" y1="190.84" x2="881.51" y2="184.02" stroke="#ebbed5"/><line x1="984.4" y1="397.5" x2="981.35" y2="390.55" stroke="#1c2959"/><line x1="981.35" y1="390.55" x2="978.31" y2="383.6" stroke="#1f2e5c"/><line x1="978.31" y1="383.6" x2="975.27" y2="376.64" stroke="#25375e"/><line x1="975.27" y1="376.64" x2="972.22" y2="369.69" stroke="#2a4060"/><line x1="972.22" y1="369.69" x2="969.18" y2="362.74" stroke="#2e4762"/><line x1="969.18" y1="362.74" x2="966.13" y2="355.79" stroke="#324e63"/><line x1="966.13" y1="355.79" x2="963.09" y2="348.83" stroke="#365564"/><line x1="963.09" y1="348.83" x2="960.05" y2="341.88" stroke="#3a5b63"/><line x1="960.05" y1="341.88" x2="957" y2="334.93" stroke="#3f6162"/><line x1="957" y1="334.93" x2="953.96" y2="327.97" stroke="#45675f"/><line x1="953.96" y1="327.97" x2="950.92" y2="321.02" stroke="#4b6d5d"/><line x1="950.92" y1="321.02" x2="947.87" y2="314.07" stroke="#527058"/><line x1="947.87" y1="314.07" x2="944.83" y2="307.12" stroke="#597352"/><line x1="944.83" y1="307.12" x2="941.78" y2="300.16" stroke="#62764d"/><line x1="941.78" y1="300.16" x2="938.74" y2="293.21" stroke="#6b7947"/><line x1="938.74" y1="293.21" x2="935.7" y2="286.26" stroke="#747c42"/><line x1="935.7" y1="286.26" x2="932.65" y2="279.31" stroke="#7e803d"/><line x1="932.65" y1="279.31" x2="929.61" y2="272.35" stroke="#888339"/><line x1="929.61" y1="272.35" x2="926.57" y2="265.4" stroke="#928639"/><line x1="926.57" y1="265.4" x2="923.52" y2="258.45" stroke="#9e893a"/><line x1="923.52" y1="258.45" x2="920.48" y2="251.49" stroke="#a98c3c"/><line x1="920.48" y1="251.49" x2="917.43" y2="244.54" stroke="#b68f43"/><line x1="917.43" y1="244.54" x2="914.39" y2="237.59" stroke="#c3914a"/><line x1="914.39" y1="237.59" x2="911.35" y2="230.64" stroke="#cd9555"/><line x1="911.35" y1="230.64" x2="908.3" y2="223.68" stroke="#d69962"/><line x1="908.3" y1="223.68" x2="905.26" y2="216.73" stroke="#dd9d70"/><line x1="905.26" y1="216.73" x2="902.21" y2="209.78" stroke="#e3a280"/><line x1="902.21" y1="209.78" x2="899.17" y2="202.82" stroke="#e7a891"/><line x1="899.17" y1="202.82" x2="896.13" y2="195.87" stroke="#e9ada3"/><line x1="896.13" y1="195.87" x2="893.08" y2="188.92" stroke="#eab2b4"/><line x1="893.08" y1="188.92" x2="890.04" y2="181.97" stroke="#ebb8c4"/><line x1="890.04" y1="181.97" x2="887" y2="175.01" stroke="#ebbed5"/><line x1="989.88" y1="392.78" x2="986.84" y2="385.69" stroke="#1c2959"/><line x1="986.84" y1="385.69" x2="983.8" y2="378.6" stroke="#1f2e5c"/><line x1="983.8" y1="378.6" x2="980.75" y2="371.52" stroke="#25375e"/><line x1="980.75" y1="371.52" x2="977.71" y2="364.43" stroke="#2a4060"/><line x1="977.71" y1="364.43" x2="974.66" y2="357.35" stroke="#2e4762"/><line x1="974.66" y1="357.35" x2="971.62" y2="350.26" stroke="#324e63"/><line x1="971.62" y1="350.26" x2="968.58" y2="343.17" stroke="#365564"/><line x1="968.58" y1="343.17" x2="965.53" y2="336.09" stroke="#3a5b63"/><line x1="965.53" y1="336.09" x2="962.49" y2="329" stroke="#3f6162"/><line x1="962.49" y1="329" x2="959.45" y2="321.91" stroke="#45675f"/><line x1="959.45" y1="321.91" x2="956.4" y2="314.83" stroke="#4b6d5d"/><line x1="956.4" y1="314.83" x2="953.36" y2="307.74" stroke="#527058"/><line x1="953.36" y1="307.74" x2="950.31" y2="300.65" stroke="#597352"/><line x1="950.31" y1="300.65" x2="947.27" y2="293.57" stroke="#62764d"/><line x1="947.27" y1="293.57" x2="944.23" y2="286.48" stroke="#6b7947"/><line x1="944.23" y1="286.48" x2="941.18" y2="279.39" stroke="#747c42"/><line x1="941.18" y1="279.39" x2="938.14" y2="272.31" stroke="#7e803d"/><line x1="938.14" y1="272.31" x2="935.1" y2="265.22" stroke="#888339"/><line x1="935.1" y1="265.22" x2="932.05" y2="258.13" stroke="#928639"/><line x1="932.05" y1="258.13" x2="929.01" y2="251.05" stroke="#9e893a"/><line x1="929.01" y1="251.05" x2="925.96" y2="243.96" stroke="#a98c3c"/><line x1="925.96" y1="243.96" x2="922.92" y2="236.87" stroke="#b68f43"/><line x1="922.92" y1="236.87" x2="919.88" y2="229.79" stroke="#c3914a"/><line x1="919.88" y1="229.79" x2="916.83" y2="222.7" stroke="#cd9555"/><line x1="916.83" y1="222.7" x2="913.79" y2="215.61" stroke="#d69962"/><line x1="913.79" y1="215.61" x2="910.74" y2="208.53" stroke="#dd9d70"/><line x1="910.74" y1="208.53" x2="907.7" y2="201.44" stroke="#e3a280"/><line x1="907.7" y1="201.44" x2="904.66" y2="194.35" stroke="#e7a891"/><line x1="904.66" y1="194.35" x2="901.61" y2="187.27" stroke="#e9ada3"/><line x1="901.61" y1="187.27" x2="898.57" y2="180.18" stroke="#eab2b4"/><line x1="898.57" y1="180.18" x2="895.53" y2="173.09" stroke="#ebb8c4"/><line x1="895.53" y1="173.09" x2="892.48" y2="166.01" stroke="#ebbed5"/><line x1="995.37" y1="388.05" x2="992.33" y2="380.83" stroke="#1c2959"/><line x1="992.33" y1="380.83" x2="989.28" y2="373.61" stroke="#1f2e5c"/><line x1="989.28" y1="373.61" x2="986.24" y2="366.39" stroke="#25375e"/><line x1="986.24" y1="366.39" x2="983.19" y2="359.17" stroke="#2a4060"/><line x1="983.19" y1="359.17" x2="980.15" y2="351.95" stroke="#2e4762"/><line x1="980.15" y1="351.95" x2="977.11" y2="344.73" stroke="#324e63"/><line x1="977.11" y1="344.73" x2="974.06" y2="337.51" stroke="#365564"/><line x1="974.06" y1="337.51" x2="971.02" y2="330.29" stroke="#3a5b63"/><line x1="971.02" y1="330.29" x2="967.98" y2="323.07" stroke="#3f6162"/><line x1="967.98" y1="323.07" x2="964.93" y2="315.85" stroke="#45675f"/><line x1="964.93" y1="315.85" x2="961.89" y2="308.63" stroke="#4b6d5d"/><line x1="961.89" y1="308.63" x2="958.84" y2="301.41" stroke="#527058"/><line x1="958.84" y1="301.41" x2="955.8" y2="294.19" stroke="#597352"/><line x1="955.8" y1="294.19" x2="952.76" y2="286.97" stroke="#62764d"/><line x1="952.76" y1="286.97" x2="949.71" y2="279.75" stroke="#6b7947"/><line x1="949.71" y1="279.75" x2="946.67" y2="272.53" stroke="#747c42"/><line x1="946.67" y1="272.53" x2="943.63" y2="265.31" stroke="#7e803d"/><line x1="943.63" y1="265.31" x2="940.58" y2="258.09" stroke="#888339"/><line x1="940.58" y1="258.09" x2="937.54" y2="250.87" stroke="#928639"/><line x1="937.54" y1="250.87" x2="934.49" y2="243.64" stroke="#9e893a"/><line x1="934.49" y1="243.64" x2="931.45" y2="236.42" stroke="#a98c3c"/><line x1="931.45" y1="236.42" x2="928.41" y2="229.2" stroke="#b68f43"/><line x1="928.41" y1="229.2" x2="925.36" y2="221.98" stroke="#c3914a"/><line x1="925.36" y1="221.98" x2="922.32" y2="214.76" stroke="#cd9555"/><line x1="922.32" y1="214.76" x2="919.28" y2="207.54" stroke="#d69962"/><line x1="919.28" y1="207.54" x2="916.23" y2="200.32" stroke="#dd9d70"/><line x1="916.23" y1="200.32" x2="913.19" y2="193.1" stroke="#e3a280"/><line x1="913.19" y1="193.1" x2="910.14" y2="185.88" stroke="#e7a891"/><line x1="910.14" y1="185.88" x2="907.1" y2="178.66" stroke="#e9ada3"/><line x1="907.1" y1="178.66" x2="904.06" y2="171.44" stroke="#eab2b4"/><line x1="904.06" y1="171.44" x2="901.01" y2="164.22" stroke="#ebb8c4"/><line x1="901.01" y1="164.22" x2="897.97" y2="157" stroke="#ebbed5"/><line x1="1000.86" y1="383.33" x2="997.81" y2="375.98" stroke="#1c2959"/><line x1="997.81" y1="375.98" x2="994.77" y2="368.62" stroke="#1f2e5c"/><line x1="994.77" y1="368.62" x2="991.73" y2="361.27" stroke="#25375e"/><line x1="991.73" y1="361.27" x2="988.68" y2="353.91" stroke="#2a4060"/><line x1="988.68" y1="353.91" x2="985.64" y2="346.56" stroke="#2e4762"/><line x1="985.64" y1="346.56" x2="982.59" y2="339.2" stroke="#324e63"/><line x1="982.59" y1="339.2" x2="979.55" y2="331.85" stroke="#365564"/><line x1="979.55" y1="331.85" x2="976.51" y2="324.5" stroke="#3a5b63"/><line x1="976.51" y1="324.5" x2="973.46" y2="317.14" stroke="#3f6162"/><line x1="973.46" y1="317.14" x2="970.42" y2="309.79" stroke="#45675f"/><line x1="970.42" y1="309.79" x2="967.37" y2="302.43" stroke="#4b6d5d"/><line x1="967.37" y1="302.43" x2="964.33" y2="295.08" stroke="#527058"/><line x1="964.33" y1="295.08" x2="961.29" y2="287.72" stroke="#597352"/><line x1="961.29" y1="287.72" x2="958.24" y2="280.37" stroke="#62764d"/><line x1="958.24" y1="280.37" x2="955.2" y2="273.02" stroke="#6b7947"/><line x1="955.2" y1="273.02" x2="952.16" y2="265.66" stroke="#747c42"/><line x1="952.16" y1="265.66" x2="949.11" y2="258.31" stroke="#7e803d"/><line x1="949.11" y1="258.31" x2="946.07" y2="250.95" stroke="#888339"/><line x1="946.07" y1="250.95" x2="943.02" y2="243.6" stroke="#928639"/><line x1="943.02" y1="243.6" x2="939.98" y2="236.24" stroke="#9e893a"/><line x1="939.98" y1="236.24" x2="936.94" y2="228.89" stroke="#a98c3c"/><line x1="936.94" y1="228.89" x2="933.89" y2="221.54" stroke="#b68f43"/><line x1="933.89" y1="221.54" x2="930.85" y2="214.18" stroke="#c3914a"/><line x1="930.85" y1="214.18" x2="927.81" y2="206.83" stroke="#cd9555"/><line x1="927.81" y1="206.83" x2="924.76" y2="199.47" stroke="#d69962"/><line x1="924.76" y1="199.47" x2="921.72" y2="192.12" stroke="#dd9d70"/><line x1="921.72" y1="192.12" x2="918.67" y2="184.76" stroke="#e3a280"/><line x1="918.67" y1="184.76" x2="915.63" y2="177.41" stroke="#e7a891"/><line x1="915.63" y1="177.41" x2="912.59" y2="170.06" stroke="#e9ada3"/><line x1="912.59" y1="170.06" x2="909.54" y2="162.7" stroke="#eab2b4"/><line x1="909.54" y1="162.7" x2="906.5" y2="155.35" stroke="#ebb8c4"/><line x1="906.5" y1="155.35" x2="903.45" y2="147.99" stroke="#ebbed5"/><line x1="1006.34" y1="378.6" x2="1003.3" y2="371.12" stroke="#1c2959"/><line x1="1003.3" y1="371.12" x2="1000.26" y2="363.63" stroke="#1f2e5c"/><line x1="1000.26" y1="363.63" x2="997.21" y2="356.14" stroke="#25375e"/><line x1="997.21" y1="356.14" x2="994.17" y2="348.65" stroke="#2a4060"/><line x1="994.17" y1="348.65" x2="991.12" y2="341.16" stroke="#2e4762"/><line x1="991.12" y1="341.16" x2="988.08" y2="333.68" stroke="#324e63"/><line x1="988.08" y1="333.68" x2="985.04" y2="326.19" stroke="#365564"/><line x1="985.04" y1="326.19" x2="981.99" y2="318.7" stroke="#3a5b63"/><line x1="981.99" y1="318.7" x2="978.95" y2="311.21" stroke="#3f6162"/><line x1="978.95" y1="311.21" x2="975.9" y2="303.72" stroke="#45675f"/><line x1="975.9" y1="303.72" x2="972.86" y2="296.24" stroke="#4b6d5d"/><line x1="972.86" y1="296.24" x2="969.82" y2="288.75" stroke="#527058"/><line x1="969.82" y1="288.75" x2="966.77" y2="281.26" stroke="#597352"/><line x1="966.77" y1="281.26" x2="963.73" y2="273.77" stroke="#62764d"/><line x1="963.73" y1="273.77" x2="960.69" y2="266.28" stroke="#6b7947"/><line x1="960.69" y1="266.28" x2="957.64" y2="258.8" stroke="#747c42"/><line x1="957.64" y1="258.8" x2="954.6" y2="251.31" stroke="#7e803d"/><line x1="954.6" y1="251.31" x2="951.55" y2="243.82" stroke="#888339"/><line x1="951.55" y1="243.82" x2="948.51" y2="236.33" stroke="#928639"/><line x1="948.51" y1="236.33" x2="945.47" y2="228.84" stroke="#9e893a"/><line x1="945.47" y1="228.84" x2="942.42" y2="221.36" stroke="#a98c3c"/><line x1="942.42" y1="221.36" x2="939.38" y2="213.87" stroke="#b68f43"/><line x1="939.38" y1="213.87" x2="936.34" y2="206.38" stroke="#c3914a"/><line x1="936.34" y1="206.38" x2="933.29" y2="198.89" stroke="#cd9555"/><line x1="933.29" y1="198.89" x2="930.25" y2="191.4" stroke="#d69962"/><line x1="930.25" y1="191.4" x2="927.2" y2="183.91" stroke="#dd9d70"/><line x1="927.2" y1="183.91" x2="924.16" y2="176.43" stroke="#e3a280"/><line x1="924.16" y1="176.43" x2="921.12" y2="168.94" stroke="#e7a891"/><line x1="921.12" y1="168.94" x2="918.07" y2="161.45" stroke="#e9ada3"/><line x1="918.07" y1="161.45" x2="915.03" y2="153.96" stroke="#eab2b4"/><line x1="915.03" y1="153.96" x2="911.98" y2="146.47" stroke="#ebb8c4"/><line x1="911.98" y1="146.47" x2="908.94" y2="138.99" stroke="#ebbed5"/><line x1="1011.83" y1="373.88" x2="1008.79" y2="366.26" stroke="#1c2959"/><line x1="1008.79" y1="366.26" x2="1005.74" y2="358.64" stroke="#1f2e5c"/><line x1="1005.74" y1="358.64" x2="1002.7" y2="351.01" stroke="#25375e"/><line x1="1002.7" y1="351.01" x2="999.65" y2="343.39" stroke="#2a4060"/><line x1="999.65" y1="343.39" x2="996.61" y2="335.77" stroke="#2e4762"/><line x1="996.61" y1="335.77" x2="993.57" y2="328.15" stroke="#324e63"/><line x1="993.57" y1="328.15" x2="990.52" y2="320.53" stroke="#365564"/><line x1="990.52" y1="320.53" x2="987.48" y2="312.91" stroke="#3a5b63"/><line x1="987.48" y1="312.91" x2="984.44" y2="305.28" stroke="#3f6162"/><line x1="984.44" y1="305.28" x2="981.39" y2="297.66" stroke="#45675f"/><line x1="981.39" y1="297.66" x2="978.35" y2="290.04" stroke="#4b6d5d"/><line x1="978.35" y1="290.04" x2="975.3" y2="282.42" stroke="#527058"/><line x1="975.3" y1="282.42" x2="972.26" y2="274.8" stroke="#597352"/><line x1="972.26" y1="274.8" x2="969.22" y2="267.17" stroke="#62764d"/><line x1="969.22" y1="267.17" x2="966.17" y2="259.55" stroke="#6b7947"/><line x1="966.17" y1="259.55" x2="963.13" y2="251.93" stroke="#747c42"/><line x1="963.13" y1="251.93" x2="960.08" y2="244.31" stroke="#7e803d"/><line x1="960.08" y1="244.31" x2="957.04" y2="236.69" stroke="#888339"/><line x1="957.04" y1="236.69" x2="954" y2="229.06" stroke="#928639"/><line x1="954" y1="229.06" x2="950.95" y2="221.44" stroke="#9e893a"/><line x1="950.95" y1="221.44" x2="947.91" y2="213.82" stroke="#a98c3c"/><line x1="947.91" y1="213.82" x2="944.87" y2="206.2" stroke="#b68f43"/><line x1="944.87" y1="206.2" x2="941.82" y2="198.58" stroke="#c3914a"/><line x1="941.82" y1="198.58" x2="938.78" y2="190.95" stroke="#cd9555"/><line x1="938.78" y1="190.95" x2="935.73" y2="183.33" stroke="#d69962"/><line x1="935.73" y1="183.33" x2="932.69" y2="175.71" stroke="#dd9d70"/><line x1="932.69" y1="175.71" x2="929.65" y2="168.09" stroke="#e3a280"/><line x1="929.65" y1="168.09" x2="926.6" y2="160.47" stroke="#e7a891"/><line x1="926.6" y1="160.47" x2="923.56" y2="152.85" stroke="#e9ada3"/><line x1="923.56" y1="152.85" x2="920.52" y2="145.22" stroke="#eab2b4"/><line x1="920.52" y1="145.22" x2="917.47" y2="137.6" stroke="#ebb8c4"/><line x1="917.47" y1="137.6" x2="914.43" y2="129.98" stroke="#ebbed5"/><line x1="1017.32" y1="369.16" x2="1014.27" y2="361.4" stroke="#1c2959"/><line x1="1014.27" y1="361.4" x2="1011.23" y2="353.64" stroke="#1f2e5c"/><line x1="1011.23" y1="353.64" x2="1008.18" y2="345.89" stroke="#25375e"/><line x1="1008.18" y1="345.89" x2="1005.14" y2="338.13" stroke="#2a4060"/><line x1="1005.14" y1="338.13" x2="1002.1" y2="330.38" stroke="#2e4762"/><line x1="1002.1" y1="330.38" x2="999.05" y2="322.62" stroke="#324e63"/><line x1="999.05" y1="322.62" x2="996.01" y2="314.87" stroke="#365564"/><line x1="996.01" y1="314.87" x2="992.97" y2="307.11" stroke="#3a5b63"/><line x1="992.97" y1="307.11" x2="989.92" y2="299.35" stroke="#3f6162"/><line x1="989.92" y1="299.35" x2="986.88" y2="291.6" stroke="#45675f"/><line x1="986.88" y1="291.6" x2="983.83" y2="283.84" stroke="#4b6d5d"/><line x1="983.83" y1="283.84" x2="980.79" y2="276.09" stroke="#527058"/><line x1="980.79" y1="276.09" x2="977.75" y2="268.33" stroke="#597352"/><line x1="977.75" y1="268.33" x2="974.7" y2="260.58" stroke="#62764d"/><line x1="974.7" y1="260.58" x2="971.66" y2="252.82" stroke="#6b7947"/><line x1="971.66" y1="252.82" x2="968.61" y2="245.06" stroke="#747c42"/><line x1="968.61" y1="245.06" x2="965.57" y2="237.31" stroke="#7e803d"/><line x1="965.57" y1="237.31" x2="962.53" y2="229.55" stroke="#888339"/><line x1="962.53" y1="229.55" x2="959.48" y2="221.8" stroke="#928639"/><line x1="959.48" y1="221.8" x2="956.44" y2="214.04" stroke="#9e893a"/><line x1="956.44" y1="214.04" x2="953.4" y2="206.29" stroke="#a98c3c"/><line x1="953.4" y1="206.29" x2="950.35" y2="198.53" stroke="#b68f43"/><line x1="950.35" y1="198.53" x2="947.31" y2="190.77" stroke="#c3914a"/><line x1="947.31" y1="190.77" x2="944.26" y2="183.02" stroke="#cd9555"/><line x1="944.26" y1="183.02" x2="941.22" y2="175.26" stroke="#d69962"/><line x1="941.22" y1="175.26" x2="938.18" y2="167.51" stroke="#dd9d70"/><line x1="938.18" y1="167.51" x2="935.13" y2="159.75" stroke="#e3a280"/><line x1="935.13" y1="159.75" x2="932.09" y2="152" stroke="#e7a891"/><line x1="932.09" y1="152" x2="929.05" y2="144.24" stroke="#e9ada3"/><line x1="929.05" y1="144.24" x2="926" y2="136.48" stroke="#eab2b4"/><line x1="926" y1="136.48" x2="922.96" y2="128.73" stroke="#ebb8c4"/><line x1="922.96" y1="128.73" x2="919.91" y2="120.97" stroke="#ebbed5"/><line x1="1022.8" y1="364.43" x2="1019.76" y2="356.54" stroke="#1c2959"/><line x1="1019.76" y1="356.54" x2="1016.71" y2="348.65" stroke="#1f2e5c"/><line x1="1016.71" y1="348.65" x2="1013.67" y2="340.76" stroke="#25375e"/><line x1="1013.67" y1="340.76" x2="1010.63" y2="332.87" stroke="#2a4060"/><line x1="1010.63" y1="332.87" x2="1007.58" y2="324.98" stroke="#2e4762"/><line x1="1007.58" y1="324.98" x2="1004.54" y2="317.09" stroke="#324e63"/><line x1="1004.54" y1="317.09" x2="1001.5" y2="309.2" stroke="#365564"/><line x1="1001.5" y1="309.2" x2="998.45" y2="301.32" stroke="#3a5b63"/><line x1="998.45" y1="301.32" x2="995.41" y2="293.43" stroke="#3f6162"/><line x1="995.41" y1="293.43" x2="992.36" y2="285.54" stroke="#45675f"/><line x1="992.36" y1="285.54" x2="989.32" y2="277.65" stroke="#4b6d5d"/><line x1="989.32" y1="277.65" x2="986.28" y2="269.76" stroke="#527058"/><line x1="986.28" y1="269.76" x2="983.23" y2="261.87" stroke="#597352"/><line x1="983.23" y1="261.87" x2="980.19" y2="253.98" stroke="#62764d"/><line x1="980.19" y1="253.98" x2="977.15" y2="246.09" stroke="#6b7947"/><line x1="977.15" y1="246.09" x2="974.1" y2="238.2" stroke="#747c42"/><line x1="974.1" y1="238.2" x2="971.06" y2="230.31" stroke="#7e803d"/><line x1="971.06" y1="230.31" x2="968.01" y2="222.42" stroke="#888339"/><line x1="968.01" y1="222.42" x2="964.97" y2="214.53" stroke="#928639"/><line x1="964.97" y1="214.53" x2="961.93" y2="206.64" stroke="#9e893a"/><line x1="961.93" y1="206.64" x2="958.88" y2="198.75" stroke="#a98c3c"/><line x1="958.88" y1="198.75" x2="955.84" y2="190.86" stroke="#b68f43"/><line x1="955.84" y1="190.86" x2="952.79" y2="182.97" stroke="#c3914a"/><line x1="952.79" y1="182.97" x2="949.75" y2="175.08" stroke="#cd9555"/><line x1="949.75" y1="175.08" x2="946.71" y2="167.19" stroke="#d69962"/><line x1="946.71" y1="167.19" x2="943.66" y2="159.3" stroke="#dd9d70"/><line x1="943.66" y1="159.3" x2="940.62" y2="151.41" stroke="#e3a280"/><line x1="940.62" y1="151.41" x2="937.58" y2="143.52" stroke="#e7a891"/><line x1="937.58" y1="143.52" x2="934.53" y2="135.63" stroke="#e9ada3"/><line x1="934.53" y1="135.63" x2="931.49" y2="127.75" stroke="#eab2b4"/><line x1="931.49" y1="127.75" x2="928.44" y2="119.86" stroke="#ebb8c4"/><line x1="928.44" y1="119.86" x2="925.4" y2="111.97" stroke="#ebbed5"/><line x1="1028.29" y1="359.71" x2="1025.24" y2="351.68" stroke="#1c2959"/><line x1="1025.24" y1="351.68" x2="1022.2" y2="343.66" stroke="#1f2e5c"/><line x1="1022.2" y1="343.66" x2="1019.16" y2="335.64" stroke="#25375e"/><line x1="1019.16" y1="335.64" x2="1016.11" y2="327.61" stroke="#2a4060"/><line x1="1016.11" y1="327.61" x2="1013.07" y2="319.59" stroke="#2e4762"/><line x1="1013.07" y1="319.59" x2="1010.03" y2="311.57" stroke="#324e63"/><line x1="1010.03" y1="311.57" x2="1006.98" y2="303.54" stroke="#365564"/><line x1="1006.98" y1="303.54" x2="1003.94" y2="295.52" stroke="#3a5b63"/><line x1="1003.94" y1="295.52" x2="1000.89" y2="287.5" stroke="#3f6162"/><line x1="1000.89" y1="287.5" x2="997.85" y2="279.47" stroke="#45675f"/><line x1="997.85" y1="279.47" x2="994.81" y2="271.45" stroke="#4b6d5d"/><line x1="994.81" y1="271.45" x2="991.76" y2="263.43" stroke="#527058"/><line x1="991.76" y1="263.43" x2="988.72" y2="255.4" stroke="#597352"/><line x1="988.72" y1="255.4" x2="985.68" y2="247.38" stroke="#62764d"/><line x1="985.68" y1="247.38" x2="982.63" y2="239.36" stroke="#6b7947"/><line x1="982.63" y1="239.36" x2="979.59" y2="231.33" stroke="#747c42"/><line x1="979.59" y1="231.33" x2="976.54" y2="223.31" stroke="#7e803d"/><line x1="976.54" y1="223.31" x2="973.5" y2="215.29" stroke="#888339"/><line x1="973.5" y1="215.29" x2="970.46" y2="207.26" stroke="#928639"/><line x1="970.46" y1="207.26" x2="967.41" y2="199.24" stroke="#9e893a"/><line x1="967.41" y1="199.24" x2="964.37" y2="191.22" stroke="#a98c3c"/><line x1="964.37" y1="191.22" x2="961.32" y2="183.19" stroke="#b68f43"/><line x1="961.32" y1="183.19" x2="958.28" y2="175.17" stroke="#c3914a"/><line x1="958.28" y1="175.17" x2="955.24" y2="167.15" stroke="#cd9555"/><line x1="955.24" y1="167.15" x2="952.19" y2="159.12" stroke="#d69962"/><line x1="952.19" y1="159.12" x2="949.15" y2="151.1" stroke="#dd9d70"/><line x1="949.15" y1="151.1" x2="946.11" y2="143.08" stroke="#e3a280"/><line x1="946.11" y1="143.08" x2="943.06" y2="135.05" stroke="#e7a891"/><line x1="943.06" y1="135.05" x2="940.02" y2="127.03" stroke="#e9ada3"/><line x1="940.02" y1="127.03" x2="936.97" y2="119.01" stroke="#eab2b4"/><line x1="936.97" y1="119.01" x2="933.93" y2="110.98" stroke="#ebb8c4"/><line x1="933.93" y1="110.98" x2="930.89" y2="102.96" stroke="#ebbed5"/><line x1="1033.77" y1="354.98" x2="1030.73" y2="346.83" stroke="#1c2959"/><line x1="1030.73" y1="346.83" x2="1027.69" y2="338.67" stroke="#1f2e5c"/><line x1="1027.69" y1="338.67" x2="1024.64" y2="330.51" stroke="#25375e"/><line x1="1024.64" y1="330.51" x2="1021.6" y2="322.35" stroke="#2a4060"/><line x1="1021.6" y1="322.35" x2="1018.56" y2="314.2" stroke="#2e4762"/><line x1="1018.56" y1="314.2" x2="1015.51" y2="306.04" stroke="#324e63"/><line x1="1015.51" y1="306.04" x2="1012.47" y2="297.88" stroke="#365564"/><line x1="1012.47" y1="297.88" x2="1009.42" y2="289.73" stroke="#3a5b63"/><line x1="1009.42" y1="289.73" x2="1006.38" y2="281.57" stroke="#3f6162"/><line x1="1006.38" y1="281.57" x2="1003.34" y2="273.41" stroke="#45675f"/><line x1="1003.34" y1="273.41" x2="1000.29" y2="265.25" stroke="#4b6d5d"/><line x1="1000.29" y1="265.25" x2="997.25" y2="257.1" stroke="#527058"/><line x1="997.25" y1="257.1" x2="994.21" y2="248.94" stroke="#597352"/><line x1="994.21" y1="248.94" x2="991.16" y2="240.78" stroke="#62764d"/><line x1="991.16" y1="240.78" x2="988.12" y2="232.62" stroke="#6b7947"/><line x1="988.12" y1="232.62" x2="985.07" y2="224.47" stroke="#747c42"/><line x1="985.07" y1="224.47" x2="982.03" y2="216.31" stroke="#7e803d"/><line x1="982.03" y1="216.31" x2="978.99" y2="208.15" stroke="#888339"/><line x1="978.99" y1="208.15" x2="975.94" y2="200" stroke="#928639"/><line x1="975.94" y1="200" x2="972.9" y2="191.84" stroke="#9e893a"/><line x1="972.9" y1="191.84" x2="969.86" y2="183.68" stroke="#a98c3c"/><line x1="969.86" y1="183.68" x2="966.81" y2="175.52" stroke="#b68f43"/><line x1="966.81" y1="175.52" x2="963.77" y2="167.37" stroke="#c3914a"/><line x1="963.77" y1="167.37" x2="960.72" y2="159.21" stroke="#cd9555"/><line x1="960.72" y1="159.21" x2="957.68" y2="151.05" stroke="#d69962"/><line x1="957.68" y1="151.05" x2="954.64" y2="142.9" stroke="#dd9d70"/><line x1="954.64" y1="142.9" x2="951.59" y2="134.74" stroke="#e3a280"/><line x1="951.59" y1="134.74" x2="948.55" y2="126.58" stroke="#e7a891"/><line x1="948.55" y1="126.58" x2="945.5" y2="118.42" stroke="#e9ada3"/><line x1="945.5" y1="118.42" x2="942.46" y2="110.27" stroke="#eab2b4"/><line x1="942.46" y1="110.27" x2="939.42" y2="102.11" stroke="#ebb8c4"/><line x1="939.42" y1="102.11" x2="936.37" y2="93.95" stroke="#ebbed5"/><line x1="1039.26" y1="350.26" x2="1036.22" y2="341.97" stroke="#1c2959"/><line x1="1036.22" y1="341.97" x2="1033.17" y2="333.68" stroke="#1f2e5c"/><line x1="1033.17" y1="333.68" x2="1030.13" y2="325.39" stroke="#25375e"/><line x1="1030.13" y1="325.39" x2="1027.09" y2="317.09" stroke="#2a4060"/><line x1="1027.09" y1="317.09" x2="1024.04" y2="308.8" stroke="#2e4762"/><line x1="1024.04" y1="308.8" x2="1021" y2="300.51" stroke="#324e63"/><line x1="1021" y1="300.51" x2="1017.95" y2="292.22" stroke="#365564"/><line x1="1017.95" y1="292.22" x2="1014.91" y2="283.93" stroke="#3a5b63"/><line x1="1014.91" y1="283.93" x2="1011.87" y2="275.64" stroke="#3f6162"/><line x1="1011.87" y1="275.64" x2="1008.82" y2="267.35" stroke="#45675f"/><line x1="1008.82" y1="267.35" x2="1005.78" y2="259.06" stroke="#4b6d5d"/><line x1="1005.78" y1="259.06" x2="1002.74" y2="250.77" stroke="#527058"/><line x1="1002.74" y1="250.77" x2="999.69" y2="242.48" stroke="#597352"/><line x1="999.69" y1="242.48" x2="996.65" y2="234.18" stroke="#62764d"/><line x1="996.65" y1="234.18" x2="993.6" y2="225.89" stroke="#6b7947"/><line x1="993.6" y1="225.89" x2="990.56" y2="217.6" stroke="#747c42"/><line x1="990.56" y1="217.6" x2="987.52" y2="209.31" stroke="#7e803d"/><line x1="987.52" y1="209.31" x2="984.47" y2="201.02" stroke="#888339"/><line x1="984.47" y1="201.02" x2="981.43" y2="192.73" stroke="#928639"/><line x1="981.43" y1="192.73" x2="978.39" y2="184.44" stroke="#9e893a"/><line x1="978.39" y1="184.44" x2="975.34" y2="176.15" stroke="#a98c3c"/><line x1="975.34" y1="176.15" x2="972.3" y2="167.86" stroke="#b68f43"/><line x1="972.3" y1="167.86" x2="969.25" y2="159.57" stroke="#c3914a"/><line x1="969.25" y1="159.57" x2="966.21" y2="151.27" stroke="#cd9555"/><line x1="966.21" y1="151.27" x2="963.17" y2="142.98" stroke="#d69962"/><line x1="963.17" y1="142.98" x2="960.12" y2="134.69" stroke="#dd9d70"/><line x1="960.12" y1="134.69" x2="957.08" y2="126.4" stroke="#e3a280"/><line x1="957.08" y1="126.4" x2="954.03" y2="118.11" stroke="#e7a891"/><line x1="954.03" y1="118.11" x2="950.99" y2="109.82" stroke="#e9ada3"/><line x1="950.99" y1="109.82" x2="947.95" y2="101.53" stroke="#eab2b4"/><line x1="947.95" y1="101.53" x2="944.9" y2="93.24" stroke="#ebb8c4"/><line x1="944.9" y1="93.24" x2="941.86" y2="84.95" stroke="#ebbed5"/><line x1="1044.75" y1="345.53" x2="1041.7" y2="337.11" stroke="#1c2959"/><line x1="1041.7" y1="337.11" x2="1038.66" y2="328.68" stroke="#1f2e5c"/><line x1="1038.66" y1="328.68" x2="1035.62" y2="320.26" stroke="#25375e"/><line x1="1035.62" y1="320.26" x2="1032.57" y2="311.83" stroke="#2a4060"/><line x1="1032.57" y1="311.83" x2="1029.53" y2="303.41" stroke="#2e4762"/><line x1="1029.53" y1="303.41" x2="1026.48" y2="294.98" stroke="#324e63"/><line x1="1026.48" y1="294.98" x2="1023.44" y2="286.56" stroke="#365564"/><line x1="1023.44" y1="286.56" x2="1020.4" y2="278.14" stroke="#3a5b63"/><line x1="1020.4" y1="278.14" x2="1017.35" y2="269.71" stroke="#3f6162"/><line x1="1017.35" y1="269.71" x2="1014.31" y2="261.29" stroke="#45675f"/><line x1="1014.31" y1="261.29" x2="1011.27" y2="252.86" stroke="#4b6d5d"/><line x1="1011.27" y1="252.86" x2="1008.22" y2="244.44" stroke="#527058"/><line x1="1008.22" y1="244.44" x2="1005.18" y2="236.01" stroke="#597352"/><line x1="1005.18" y1="236.01" x2="1002.13" y2="227.59" stroke="#62764d"/><line x1="1002.13" y1="227.59" x2="999.09" y2="219.16" stroke="#6b7947"/><line x1="999.09" y1="219.16" x2="996.05" y2="210.74" stroke="#747c42"/><line x1="996.05" y1="210.74" x2="993" y2="202.31" stroke="#7e803d"/><line x1="993" y1="202.31" x2="989.96" y2="193.89" stroke="#888339"/><line x1="989.96" y1="193.89" x2="986.92" y2="185.46" stroke="#928639"/><line x1="986.92" y1="185.46" x2="983.87" y2="177.04" stroke="#9e893a"/><line x1="983.87" y1="177.04" x2="980.83" y2="168.61" stroke="#a98c3c"/><line x1="980.83" y1="168.61" x2="977.78" y2="160.19" stroke="#b68f43"/><line x1="977.78" y1="160.19" x2="974.74" y2="151.76" stroke="#c3914a"/><line x1="974.74" y1="151.76" x2="971.7" y2="143.34" stroke="#cd9555"/><line x1="971.7" y1="143.34" x2="968.65" y2="134.91" stroke="#d69962"/><line x1="968.65" y1="134.91" x2="965.61" y2="126.49" stroke="#dd9d70"/><line x1="965.61" y1="126.49" x2="962.57" y2="118.06" stroke="#e3a280"/><line x1="962.57" y1="118.06" x2="959.52" y2="109.64" stroke="#e7a891"/><line x1="959.52" y1="109.64" x2="956.48" y2="101.21" stroke="#e9ada3"/><line x1="956.48" y1="101.21" x2="953.43" y2="92.79" stroke="#eab2b4"/><line x1="953.43" y1="92.79" x2="950.39" y2="84.36" stroke="#ebb8c4"/><line x1="950.39" y1="84.36" x2="947.35" y2="75.94" stroke="#ebbed5"/><line x1="1050.23" y1="340.81" x2="1047.19" y2="332.25" stroke="#1c2959"/><line x1="1047.19" y1="332.25" x2="1044.15" y2="323.69" stroke="#1f2e5c"/><line x1="1044.15" y1="323.69" x2="1041.1" y2="315.13" stroke="#25375e"/><line x1="1041.1" y1="315.13" x2="1038.06" y2="306.57" stroke="#2a4060"/><line x1="1038.06" y1="306.57" x2="1035.02" y2="298.02" stroke="#2e4762"/><line x1="1035.02" y1="298.02" x2="1031.97" y2="289.46" stroke="#324e63"/><line x1="1031.97" y1="289.46" x2="1028.93" y2="280.9" stroke="#365564"/><line x1="1028.93" y1="280.9" x2="1025.88" y2="272.34" stroke="#3a5b63"/><line x1="1025.88" y1="272.34" x2="1022.84" y2="263.78" stroke="#3f6162"/><line x1="1022.84" y1="263.78" x2="1019.8" y2="255.22" stroke="#45675f"/><line x1="1019.8" y1="255.22" x2="1016.75" y2="246.66" stroke="#4b6d5d"/><line x1="1016.75" y1="246.66" x2="1013.71" y2="238.11" stroke="#527058"/><line x1="1013.71" y1="238.11" x2="1010.66" y2="229.55" stroke="#597352"/><line x1="1010.66" y1="229.55" x2="1007.62" y2="220.99" stroke="#62764d"/><line x1="1007.62" y1="220.99" x2="1004.58" y2="212.43" stroke="#6b7947"/><line x1="1004.58" y1="212.43" x2="1001.53" y2="203.87" stroke="#747c42"/><line x1="1001.53" y1="203.87" x2="998.49" y2="195.31" stroke="#7e803d"/><line x1="998.49" y1="195.31" x2="995.45" y2="186.75" stroke="#888339"/><line x1="995.45" y1="186.75" x2="992.4" y2="178.2" stroke="#928639"/><line x1="992.4" y1="178.2" x2="989.36" y2="169.64" stroke="#9e893a"/><line x1="989.36" y1="169.64" x2="986.31" y2="161.08" stroke="#a98c3c"/><line x1="986.31" y1="161.08" x2="983.27" y2="152.52" stroke="#b68f43"/><line x1="983.27" y1="152.52" x2="980.23" y2="143.96" stroke="#c3914a"/><line x1="980.23" y1="143.96" x2="977.18" y2="135.4" stroke="#cd9555"/><line x1="977.18" y1="135.4" x2="974.14" y2="126.84" stroke="#d69962"/><line x1="974.14" y1="126.84" x2="971.1" y2="118.28" stroke="#dd9d70"/><line x1="971.1" y1="118.28" x2="968.05" y2="109.73" stroke="#e3a280"/><line x1="968.05" y1="109.73" x2="965.01" y2="101.17" stroke="#e7a891"/><line x1="965.01" y1="101.17" x2="961.96" y2="92.61" stroke="#e9ada3"/><line x1="961.96" y1="92.61" x2="958.92" y2="84.05" stroke="#eab2b4"/><line x1="958.92" y1="84.05" x2="955.88" y2="75.49" stroke="#ebb8c4"/><line x1="955.88" y1="75.49" x2="952.83" y2="66.93" stroke="#ebbed5"/><line x1="1055.72" y1="336.08" x2="1052.68" y2="327.39" stroke="#1c2959"/><line x1="1052.68" y1="327.39" x2="1049.63" y2="318.7" stroke="#1f2e5c"/><line x1="1049.63" y1="318.7" x2="1046.59" y2="310.01" stroke="#25375e"/><line x1="1046.59" y1="310.01" x2="1043.55" y2="301.31" stroke="#2a4060"/><line x1="1043.55" y1="301.31" x2="1040.5" y2="292.62" stroke="#2e4762"/><line x1="1040.5" y1="292.62" x2="1037.46" y2="283.93" stroke="#324e63"/><line x1="1037.46" y1="283.93" x2="1034.41" y2="275.24" stroke="#365564"/><line x1="1034.41" y1="275.24" x2="1031.37" y2="266.55" stroke="#3a5b63"/><line x1="1031.37" y1="266.55" x2="1028.33" y2="257.85" stroke="#3f6162"/><line x1="1028.33" y1="257.85" x2="1025.28" y2="249.16" stroke="#45675f"/><line x1="1025.28" y1="249.16" x2="1022.24" y2="240.47" stroke="#4b6d5d"/><line x1="1022.24" y1="240.47" x2="1019.19" y2="231.78" stroke="#527058"/><line x1="1019.19" y1="231.78" x2="1016.15" y2="223.08" stroke="#597352"/><line x1="1016.15" y1="223.08" x2="1013.11" y2="214.39" stroke="#62764d"/><line x1="1013.11" y1="214.39" x2="1010.06" y2="205.7" stroke="#6b7947"/><line x1="1010.06" y1="205.7" x2="1007.02" y2="197.01" stroke="#747c42"/><line x1="1007.02" y1="197.01" x2="1003.98" y2="188.31" stroke="#7e803d"/><line x1="1003.98" y1="188.31" x2="1000.93" y2="179.62" stroke="#888339"/><line x1="1000.93" y1="179.62" x2="997.89" y2="170.93" stroke="#928639"/><line x1="997.89" y1="170.93" x2="994.84" y2="162.24" stroke="#9e893a"/><line x1="994.84" y1="162.24" x2="991.8" y2="153.54" stroke="#a98c3c"/><line x1="991.8" y1="153.54" x2="988.76" y2="144.85" stroke="#b68f43"/><line x1="988.76" y1="144.85" x2="985.71" y2="136.16" stroke="#c3914a"/><line x1="985.71" y1="136.16" x2="982.67" y2="127.47" stroke="#cd9555"/><line x1="982.67" y1="127.47" x2="979.63" y2="118.77" stroke="#d69962"/><line x1="979.63" y1="118.77" x2="976.58" y2="110.08" stroke="#dd9d70"/><line x1="976.58" y1="110.08" x2="973.54" y2="101.39" stroke="#e3a280"/><line x1="973.54" y1="101.39" x2="970.49" y2="92.7" stroke="#e7a891"/><line x1="970.49" y1="92.7" x2="967.45" y2="84" stroke="#e9ada3"/><line x1="967.45" y1="84" x2="964.41" y2="75.31" stroke="#eab2b4"/><line x1="964.41" y1="75.31" x2="961.36" y2="66.62" stroke="#ebb8c4"/><line x1="961.36" y1="66.62" x2="958.32" y2="57.93" stroke="#ebbed5"/><line x1="1061.21" y1="331.36" x2="1058.16" y2="322.53" stroke="#1c2959"/><line x1="1058.16" y1="322.53" x2="1055.12" y2="313.71" stroke="#1f2e5c"/><line x1="1055.12" y1="313.71" x2="1052.08" y2="304.88" stroke="#25375e"/><line x1="1052.08" y1="304.88" x2="1049.03" y2="296.06" stroke="#2a4060"/><line x1="1049.03" y1="296.06" x2="1045.99" y2="287.23" stroke="#2e4762"/><line x1="1045.99" y1="287.23" x2="1042.94" y2="278.4" stroke="#324e63"/><line x1="1042.94" y1="278.4" x2="1039.9" y2="269.58" stroke="#365564"/><line x1="1039.9" y1="269.58" x2="1036.86" y2="260.75" stroke="#3a5b63"/><line x1="1036.86" y1="260.75" x2="1033.81" y2="251.92" stroke="#3f6162"/><line x1="1033.81" y1="251.92" x2="1030.77" y2="243.1" stroke="#45675f"/><line x1="1030.77" y1="243.1" x2="1027.73" y2="234.27" stroke="#4b6d5d"/><line x1="1027.73" y1="234.27" x2="1024.68" y2="225.45" stroke="#527058"/><line x1="1024.68" y1="225.45" x2="1021.64" y2="216.62" stroke="#597352"/><line x1="1021.64" y1="216.62" x2="1018.59" y2="207.79" stroke="#62764d"/><line x1="1018.59" y1="207.79" x2="1015.55" y2="198.97" stroke="#6b7947"/><line x1="1015.55" y1="198.97" x2="1012.51" y2="190.14" stroke="#747c42"/><line x1="1012.51" y1="190.14" x2="1009.46" y2="181.31" stroke="#7e803d"/><line x1="1009.46" y1="181.31" x2="1006.42" y2="172.49" stroke="#888339"/><line x1="1006.42" y1="172.49" x2="1003.37" y2="163.66" stroke="#928639"/><line x1="1003.37" y1="163.66" x2="1000.33" y2="154.83" stroke="#9e893a"/><line x1="1000.33" y1="154.83" x2="997.29" y2="146.01" stroke="#a98c3c"/><line x1="997.29" y1="146.01" x2="994.24" y2="137.18" stroke="#b68f43"/><line x1="994.24" y1="137.18" x2="991.2" y2="128.36" stroke="#c3914a"/><line x1="991.2" y1="128.36" x2="988.16" y2="119.53" stroke="#cd9555"/><line x1="988.16" y1="119.53" x2="985.11" y2="110.7" stroke="#d69962"/><line x1="985.11" y1="110.7" x2="982.07" y2="101.88" stroke="#dd9d70"/><line x1="982.07" y1="101.88" x2="979.02" y2="93.05" stroke="#e3a280"/><line x1="979.02" y1="93.05" x2="975.98" y2="84.22" stroke="#e7a891"/><line x1="975.98" y1="84.22" x2="972.94" y2="75.4" stroke="#e9ada3"/><line x1="972.94" y1="75.4" x2="969.89" y2="66.57" stroke="#eab2b4"/><line x1="969.89" y1="66.57" x2="966.85" y2="57.75" stroke="#ebb8c4"/><line x1="966.85" y1="57.75" x2="963.81" y2="48.92" stroke="#ebbed5"/><line x1="1066.69" y1="326.64" x2="1063.65" y2="317.68" stroke="#1c2959"/><line x1="1063.65" y1="317.68" x2="1060.61" y2="308.72" stroke="#1f2e5c"/><line x1="1060.61" y1="308.72" x2="1057.56" y2="299.76" stroke="#25375e"/><line x1="1057.56" y1="299.76" x2="1054.52" y2="290.8" stroke="#2a4060"/><line x1="1054.52" y1="290.8" x2="1051.47" y2="281.84" stroke="#2e4762"/><line x1="1051.47" y1="281.84" x2="1048.43" y2="272.88" stroke="#324e63"/><line x1="1048.43" y1="272.88" x2="1045.39" y2="263.92" stroke="#365564"/><line x1="1045.39" y1="263.92" x2="1042.34" y2="254.96" stroke="#3a5b63"/><line x1="1042.34" y1="254.96" x2="1039.3" y2="245.99" stroke="#3f6162"/><line x1="1039.3" y1="245.99" x2="1036.26" y2="237.03" stroke="#45675f"/><line x1="1036.26" y1="237.03" x2="1033.21" y2="228.07" stroke="#4b6d5d"/><line x1="1033.21" y1="228.07" x2="1030.17" y2="219.11" stroke="#527058"/><line x1="1030.17" y1="219.11" x2="1027.12" y2="210.15" stroke="#597352"/><line x1="1027.12" y1="210.15" x2="1024.08" y2="201.19" stroke="#62764d"/><line x1="1024.08" y1="201.19" x2="1021.04" y2="192.23" stroke="#6b7947"/><line x1="1021.04" y1="192.23" x2="1017.99" y2="183.27" stroke="#747c42"/><line x1="1017.99" y1="183.27" x2="1014.95" y2="174.31" stroke="#7e803d"/><line x1="1014.95" y1="174.31" x2="1011.9" y2="165.35" stroke="#888339"/><line x1="1011.9" y1="165.35" x2="1008.86" y2="156.39" stroke="#928639"/><line x1="1008.86" y1="156.39" x2="1005.82" y2="147.43" stroke="#9e893a"/><line x1="1005.82" y1="147.43" x2="1002.77" y2="138.47" stroke="#a98c3c"/><line x1="1002.77" y1="138.47" x2="999.73" y2="129.51" stroke="#b68f43"/><line x1="999.73" y1="129.51" x2="996.69" y2="120.55" stroke="#c3914a"/><line x1="996.69" y1="120.55" x2="993.64" y2="111.59" stroke="#cd9555"/><line x1="993.64" y1="111.59" x2="990.6" y2="102.63" stroke="#d69962"/><line x1="990.6" y1="102.63" x2="987.55" y2="93.67" stroke="#dd9d70"/><line x1="987.55" y1="93.67" x2="984.51" y2="84.71" stroke="#e3a280"/><line x1="984.51" y1="84.71" x2="981.47" y2="75.75" stroke="#e7a891"/><line x1="981.47" y1="75.75" x2="978.42" y2="66.79" stroke="#e9ada3"/><line x1="978.42" y1="66.79" x2="975.38" y2="57.83" stroke="#eab2b4"/><line x1="975.38" y1="57.83" x2="972.34" y2="48.87" stroke="#ebb8c4"/><line x1="972.34" y1="48.87" x2="971.56" y2="46.59" stroke="#ebbed5"/><line x1="1072.18" y1="321.91" x2="1069.14" y2="312.82" stroke="#1c2959"/><line x1="1069.14" y1="312.82" x2="1066.09" y2="303.72" stroke="#1f2e5c"/><line x1="1066.09" y1="303.72" x2="1063.05" y2="294.63" stroke="#25375e"/><line x1="1063.05" y1="294.63" x2="1060" y2="285.54" stroke="#2a4060"/><line x1="1060" y1="285.54" x2="1056.96" y2="276.44" stroke="#2e4762"/><line x1="1056.96" y1="276.44" x2="1053.92" y2="267.35" stroke="#324e63"/><line x1="1053.92" y1="267.35" x2="1050.87" y2="258.25" stroke="#365564"/><line x1="1050.87" y1="258.25" x2="1047.83" y2="249.16" stroke="#3a5b63"/><line x1="1047.83" y1="249.16" x2="1044.79" y2="240.07" stroke="#3f6162"/><line x1="1044.79" y1="240.07" x2="1041.74" y2="230.97" stroke="#45675f"/><line x1="1041.74" y1="230.97" x2="1038.7" y2="221.88" stroke="#4b6d5d"/><line x1="1038.7" y1="221.88" x2="1035.65" y2="212.78" stroke="#527058"/><line x1="1035.65" y1="212.78" x2="1032.61" y2="203.69" stroke="#597352"/><line x1="1032.61" y1="203.69" x2="1029.57" y2="194.6" stroke="#62764d"/><line x1="1029.57" y1="194.6" x2="1026.52" y2="185.5" stroke="#6b7947"/><line x1="1026.52" y1="185.5" x2="1023.48" y2="176.41" stroke="#747c42"/><line x1="1023.48" y1="176.41" x2="1020.44" y2="167.31" stroke="#7e803d"/><line x1="1020.44" y1="167.31" x2="1017.39" y2="158.22" stroke="#888339"/><line x1="1017.39" y1="158.22" x2="1014.35" y2="149.13" stroke="#928639"/><line x1="1014.35" y1="149.13" x2="1011.3" y2="140.03" stroke="#9e893a"/><line x1="1011.3" y1="140.03" x2="1008.26" y2="130.94" stroke="#a98c3c"/><line x1="1008.26" y1="130.94" x2="1005.22" y2="121.85" stroke="#b68f43"/><line x1="1005.22" y1="121.85" x2="1002.17" y2="112.75" stroke="#c3914a"/><line x1="1002.17" y1="112.75" x2="999.13" y2="103.66" stroke="#cd9555"/><line x1="999.13" y1="103.66" x2="996.08" y2="94.56" stroke="#d69962"/><line x1="996.08" y1="94.56" x2="993.04" y2="85.47" stroke="#dd9d70"/><line x1="993.04" y1="85.47" x2="990" y2="76.38" stroke="#e3a280"/><line x1="990" y1="76.38" x2="986.95" y2="67.28" stroke="#e7a891"/><line x1="986.95" y1="67.28" x2="983.91" y2="58.19" stroke="#e9ada3"/><line x1="983.91" y1="58.19" x2="980.87" y2="49.09" stroke="#eab2b4"/><line x1="980.87" y1="49.09" x2="980.76" y2="48.79" stroke="#ebb8c4"/><line x1="1077.67" y1="317.19" x2="1074.62" y2="307.96" stroke="#1c2959"/><line x1="1074.62" y1="307.96" x2="1071.58" y2="298.73" stroke="#1f2e5c"/><line x1="1071.58" y1="298.73" x2="1068.53" y2="289.5" stroke="#25375e"/><line x1="1068.53" y1="289.5" x2="1065.49" y2="280.28" stroke="#2a4060"/><line x1="1065.49" y1="280.28" x2="1062.45" y2="271.05" stroke="#2e4762"/><line x1="1062.45" y1="271.05" x2="1059.4" y2="261.82" stroke="#324e63"/><line x1="1059.4" y1="261.82" x2="1056.36" y2="252.59" stroke="#365564"/><line x1="1056.36" y1="252.59" x2="1053.32" y2="243.37" stroke="#3a5b63"/><line x1="1053.32" y1="243.37" x2="1050.27" y2="234.14" stroke="#3f6162"/><line x1="1050.27" y1="234.14" x2="1047.23" y2="224.91" stroke="#45675f"/><line x1="1047.23" y1="224.91" x2="1044.18" y2="215.68" stroke="#4b6d5d"/><line x1="1044.18" y1="215.68" x2="1041.14" y2="206.45" stroke="#527058"/><line x1="1041.14" y1="206.45" x2="1038.1" y2="197.23" stroke="#597352"/><line x1="1038.1" y1="197.23" x2="1035.05" y2="188" stroke="#62764d"/><line x1="1035.05" y1="188" x2="1032.01" y2="178.77" stroke="#6b7947"/><line x1="1032.01" y1="178.77" x2="1028.97" y2="169.54" stroke="#747c42"/><line x1="1028.97" y1="169.54" x2="1025.92" y2="160.32" stroke="#7e803d"/><line x1="1025.92" y1="160.32" x2="1022.88" y2="151.09" stroke="#888339"/><line x1="1022.88" y1="151.09" x2="1019.83" y2="141.86" stroke="#928639"/><line x1="1019.83" y1="141.86" x2="1016.79" y2="132.63" stroke="#9e893a"/><line x1="1016.79" y1="132.63" x2="1013.75" y2="123.4" stroke="#a98c3c"/><line x1="1013.75" y1="123.4" x2="1010.7" y2="114.18" stroke="#b68f43"/><line x1="1010.7" y1="114.18" x2="1007.66" y2="104.95" stroke="#c3914a"/><line x1="1007.66" y1="104.95" x2="1004.61" y2="95.72" stroke="#cd9555"/><line x1="1004.61" y1="95.72" x2="1001.57" y2="86.49" stroke="#d69962"/><line x1="1001.57" y1="86.49" x2="998.53" y2="77.27" stroke="#dd9d70"/><line x1="998.53" y1="77.27" x2="995.48" y2="68.04" stroke="#e3a280"/><line x1="995.48" y1="68.04" x2="992.44" y2="58.81" stroke="#e7a891"/><line x1="992.44" y1="58.81" x2="989.83" y2="50.89" stroke="#e9ada3"/><line x1="1083.15" y1="312.46" x2="1080.11" y2="303.1" stroke="#1c2959"/><line x1="1080.11" y1="303.1" x2="1077.06" y2="293.74" stroke="#1f2e5c"/><line x1="1077.06" y1="293.74" x2="1074.02" y2="284.38" stroke="#25375e"/><line x1="1074.02" y1="284.38" x2="1070.98" y2="275.02" stroke="#2a4060"/><line x1="1070.98" y1="275.02" x2="1067.93" y2="265.65" stroke="#2e4762"/><line x1="1067.93" y1="265.65" x2="1064.89" y2="256.29" stroke="#324e63"/><line x1="1064.89" y1="256.29" x2="1061.85" y2="246.93" stroke="#365564"/><line x1="1061.85" y1="246.93" x2="1058.8" y2="237.57" stroke="#3a5b63"/><line x1="1058.8" y1="237.57" x2="1055.76" y2="228.21" stroke="#3f6162"/><line x1="1055.76" y1="228.21" x2="1052.71" y2="218.85" stroke="#45675f"/><line x1="1052.71" y1="218.85" x2="1049.67" y2="209.49" stroke="#4b6d5d"/><line x1="1049.67" y1="209.49" x2="1046.63" y2="200.12" stroke="#527058"/><line x1="1046.63" y1="200.12" x2="1043.58" y2="190.76" stroke="#597352"/><line x1="1043.58" y1="190.76" x2="1040.54" y2="181.4" stroke="#62764d"/><line x1="1040.54" y1="181.4" x2="1037.5" y2="172.04" stroke="#6b7947"/><line x1="1037.5" y1="172.04" x2="1034.45" y2="162.68" stroke="#747c42"/><line x1="1034.45" y1="162.68" x2="1031.41" y2="153.32" stroke="#7e803d"/><line x1="1031.41" y1="153.32" x2="1028.36" y2="143.95" stroke="#888339"/><line x1="1028.36" y1="143.95" x2="1025.32" y2="134.59" stroke="#928639"/><line x1="1025.32" y1="134.59" x2="1022.28" y2="125.23" stroke="#9e893a"/><line x1="1022.28" y1="125.23" x2="1019.23" y2="115.87" stroke="#a98c3c"/><line x1="1019.23" y1="115.87" x2="1016.19" y2="106.51" stroke="#b68f43"/><line x1="1016.19" y1="106.51" x2="1013.15" y2="97.15" stroke="#c3914a"/><line x1="1013.15" y1="97.15" x2="1010.1" y2="87.79" stroke="#cd9555"/><line x1="1010.1" y1="87.79" x2="1007.06" y2="78.42" stroke="#d69962"/><line x1="1007.06" y1="78.42" x2="1004.01" y2="69.06" stroke="#dd9d70"/><line x1="1004.01" y1="69.06" x2="1000.97" y2="59.7" stroke="#e3a280"/><line x1="1000.97" y1="59.7" x2="998.76" y2="52.9" stroke="#e7a891"/><line x1="1088.64" y1="307.74" x2="1085.6" y2="298.24" stroke="#1c2959"/><line x1="1085.6" y1="298.24" x2="1082.55" y2="288.75" stroke="#1f2e5c"/><line x1="1082.55" y1="288.75" x2="1079.51" y2="279.25" stroke="#25375e"/><line x1="1079.51" y1="279.25" x2="1076.46" y2="269.76" stroke="#2a4060"/><line x1="1076.46" y1="269.76" x2="1073.42" y2="260.26" stroke="#2e4762"/><line x1="1073.42" y1="260.26" x2="1070.38" y2="250.77" stroke="#324e63"/><line x1="1070.38" y1="250.77" x2="1067.33" y2="241.27" stroke="#365564"/><line x1="1067.33" y1="241.27" x2="1064.29" y2="231.78" stroke="#3a5b63"/><line x1="1064.29" y1="231.78" x2="1061.24" y2="222.28" stroke="#3f6162"/><line x1="1061.24" y1="222.28" x2="1058.2" y2="212.78" stroke="#45675f"/><line x1="1058.2" y1="212.78" x2="1055.16" y2="203.29" stroke="#4b6d5d"/><line x1="1055.16" y1="203.29" x2="1052.11" y2="193.79" stroke="#527058"/><line x1="1052.11" y1="193.79" x2="1049.07" y2="184.3" stroke="#597352"/><line x1="1049.07" y1="184.3" x2="1046.03" y2="174.8" stroke="#62764d"/><line x1="1046.03" y1="174.8" x2="1042.98" y2="165.31" stroke="#6b7947"/><line x1="1042.98" y1="165.31" x2="1039.94" y2="155.81" stroke="#747c42"/><line x1="1039.94" y1="155.81" x2="1036.89" y2="146.32" stroke="#7e803d"/><line x1="1036.89" y1="146.32" x2="1033.85" y2="136.82" stroke="#888339"/><line x1="1033.85" y1="136.82" x2="1030.81" y2="127.33" stroke="#928639"/><line x1="1030.81" y1="127.33" x2="1027.76" y2="117.83" stroke="#9e893a"/><line x1="1027.76" y1="117.83" x2="1024.72" y2="108.34" stroke="#a98c3c"/><line x1="1024.72" y1="108.34" x2="1021.68" y2="98.84" stroke="#b68f43"/><line x1="1021.68" y1="98.84" x2="1018.63" y2="89.34" stroke="#c3914a"/><line x1="1018.63" y1="89.34" x2="1015.59" y2="79.85" stroke="#cd9555"/><line x1="1015.59" y1="79.85" x2="1012.54" y2="70.35" stroke="#d69962"/><line x1="1012.54" y1="70.35" x2="1009.5" y2="60.86" stroke="#dd9d70"/><line x1="1009.5" y1="60.86" x2="1007.56" y2="54.81" stroke="#e3a280"/><line x1="1094.13" y1="303.01" x2="1091.08" y2="293.38" stroke="#1c2959"/><line x1="1091.08" y1="293.38" x2="1088.04" y2="283.76" stroke="#1f2e5c"/><line x1="1088.04" y1="283.76" x2="1084.99" y2="274.13" stroke="#25375e"/><line x1="1084.99" y1="274.13" x2="1081.95" y2="264.5" stroke="#2a4060"/><line x1="1081.95" y1="264.5" x2="1078.91" y2="254.87" stroke="#2e4762"/><line x1="1078.91" y1="254.87" x2="1075.86" y2="245.24" stroke="#324e63"/><line x1="1075.86" y1="245.24" x2="1072.82" y2="235.61" stroke="#365564"/><line x1="1072.82" y1="235.61" x2="1069.77" y2="225.98" stroke="#3a5b63"/><line x1="1069.77" y1="225.98" x2="1066.73" y2="216.35" stroke="#3f6162"/><line x1="1066.73" y1="216.35" x2="1063.69" y2="206.72" stroke="#45675f"/><line x1="1063.69" y1="206.72" x2="1060.64" y2="197.09" stroke="#4b6d5d"/><line x1="1060.64" y1="197.09" x2="1057.6" y2="187.46" stroke="#527058"/><line x1="1057.6" y1="187.46" x2="1054.56" y2="177.83" stroke="#597352"/><line x1="1054.56" y1="177.83" x2="1051.51" y2="168.2" stroke="#62764d"/><line x1="1051.51" y1="168.2" x2="1048.47" y2="158.58" stroke="#6b7947"/><line x1="1048.47" y1="158.58" x2="1045.42" y2="148.95" stroke="#747c42"/><line x1="1045.42" y1="148.95" x2="1042.38" y2="139.32" stroke="#7e803d"/><line x1="1042.38" y1="139.32" x2="1039.34" y2="129.69" stroke="#888339"/><line x1="1039.34" y1="129.69" x2="1036.29" y2="120.06" stroke="#928639"/><line x1="1036.29" y1="120.06" x2="1033.25" y2="110.43" stroke="#9e893a"/><line x1="1033.25" y1="110.43" x2="1030.21" y2="100.8" stroke="#a98c3c"/><line x1="1030.21" y1="100.8" x2="1027.16" y2="91.17" stroke="#b68f43"/><line x1="1027.16" y1="91.17" x2="1024.12" y2="81.54" stroke="#c3914a"/><line x1="1024.12" y1="81.54" x2="1021.07" y2="71.91" stroke="#cd9555"/><line x1="1021.07" y1="71.91" x2="1018.03" y2="62.28" stroke="#d69962"/><line x1="1018.03" y1="62.28" x2="1016.25" y2="56.65" stroke="#dd9d70"/><line x1="1099.61" y1="298.29" x2="1096.57" y2="288.53" stroke="#1c2959"/><line x1="1096.57" y1="288.53" x2="1093.52" y2="278.76" stroke="#1f2e5c"/><line x1="1093.52" y1="278.76" x2="1090.48" y2="269" stroke="#25375e"/><line x1="1090.48" y1="269" x2="1087.44" y2="259.24" stroke="#2a4060"/><line x1="1087.44" y1="259.24" x2="1084.39" y2="249.47" stroke="#2e4762"/><line x1="1084.39" y1="249.47" x2="1081.35" y2="239.71" stroke="#324e63"/><line x1="1081.35" y1="239.71" x2="1078.31" y2="229.95" stroke="#365564"/><line x1="1078.31" y1="229.95" x2="1075.26" y2="220.19" stroke="#3a5b63"/><line x1="1075.26" y1="220.19" x2="1072.22" y2="210.42" stroke="#3f6162"/><line x1="1072.22" y1="210.42" x2="1069.17" y2="200.66" stroke="#45675f"/><line x1="1069.17" y1="200.66" x2="1066.13" y2="190.9" stroke="#4b6d5d"/><line x1="1066.13" y1="190.9" x2="1063.09" y2="181.13" stroke="#527058"/><line x1="1063.09" y1="181.13" x2="1060.04" y2="171.37" stroke="#597352"/><line x1="1060.04" y1="171.37" x2="1057" y2="161.61" stroke="#62764d"/><line x1="1057" y1="161.61" x2="1053.95" y2="151.84" stroke="#6b7947"/><line x1="1053.95" y1="151.84" x2="1050.91" y2="142.08" stroke="#747c42"/><line x1="1050.91" y1="142.08" x2="1047.87" y2="132.32" stroke="#7e803d"/><line x1="1047.87" y1="132.32" x2="1044.82" y2="122.56" stroke="#888339"/><line x1="1044.82" y1="122.56" x2="1041.78" y2="112.79" stroke="#928639"/><line x1="1041.78" y1="112.79" x2="1038.74" y2="103.03" stroke="#9e893a"/><line x1="1038.74" y1="103.03" x2="1035.69" y2="93.27" stroke="#a98c3c"/><line x1="1035.69" y1="93.27" x2="1032.65" y2="83.5" stroke="#b68f43"/><line x1="1032.65" y1="83.5" x2="1029.6" y2="73.74" stroke="#c3914a"/><line x1="1029.6" y1="73.74" x2="1026.56" y2="63.98" stroke="#cd9555"/><line x1="1026.56" y1="63.98" x2="1024.82" y2="58.4" stroke="#d69962"/><line x1="1105.1" y1="293.56" x2="1102.05" y2="283.67" stroke="#1c2959"/><line x1="1102.05" y1="283.67" x2="1099.01" y2="273.77" stroke="#1f2e5c"/><line x1="1099.01" y1="273.77" x2="1095.97" y2="263.87" stroke="#25375e"/><line x1="1095.97" y1="263.87" x2="1092.92" y2="253.98" stroke="#2a4060"/><line x1="1092.92" y1="253.98" x2="1089.88" y2="244.08" stroke="#2e4762"/><line x1="1089.88" y1="244.08" x2="1086.84" y2="234.18" stroke="#324e63"/><line x1="1086.84" y1="234.18" x2="1083.79" y2="224.29" stroke="#365564"/><line x1="1083.79" y1="224.29" x2="1080.75" y2="214.39" stroke="#3a5b63"/><line x1="1080.75" y1="214.39" x2="1077.7" y2="204.49" stroke="#3f6162"/><line x1="1077.7" y1="204.49" x2="1074.66" y2="194.6" stroke="#45675f"/><line x1="1074.66" y1="194.6" x2="1071.62" y2="184.7" stroke="#4b6d5d"/><line x1="1071.62" y1="184.7" x2="1068.57" y2="174.8" stroke="#527058"/><line x1="1068.57" y1="174.8" x2="1065.53" y2="164.91" stroke="#597352"/><line x1="1065.53" y1="164.91" x2="1062.48" y2="155.01" stroke="#62764d"/><line x1="1062.48" y1="155.01" x2="1059.44" y2="145.11" stroke="#6b7947"/><line x1="1059.44" y1="145.11" x2="1056.4" y2="135.22" stroke="#747c42"/><line x1="1056.4" y1="135.22" x2="1053.35" y2="125.32" stroke="#7e803d"/><line x1="1053.35" y1="125.32" x2="1050.31" y2="115.42" stroke="#888339"/><line x1="1050.31" y1="115.42" x2="1047.27" y2="105.53" stroke="#928639"/><line x1="1047.27" y1="105.53" x2="1044.22" y2="95.63" stroke="#9e893a"/><line x1="1044.22" y1="95.63" x2="1041.18" y2="85.73" stroke="#a98c3c"/><line x1="1041.18" y1="85.73" x2="1038.13" y2="75.83" stroke="#b68f43"/><line x1="1038.13" y1="75.83" x2="1035.09" y2="65.94" stroke="#c3914a"/><line x1="1035.09" y1="65.94" x2="1033.29" y2="60.08" stroke="#cd9555"/><line x1="1110.58" y1="288.84" x2="1107.54" y2="278.81" stroke="#1c2959"/><line x1="1107.54" y1="278.81" x2="1104.5" y2="268.78" stroke="#1f2e5c"/><line x1="1104.5" y1="268.78" x2="1101.45" y2="258.75" stroke="#25375e"/><line x1="1101.45" y1="258.75" x2="1098.41" y2="248.72" stroke="#2a4060"/><line x1="1098.41" y1="248.72" x2="1095.37" y2="238.69" stroke="#2e4762"/><line x1="1095.37" y1="238.69" x2="1092.32" y2="228.66" stroke="#324e63"/><line x1="1092.32" y1="228.66" x2="1089.28" y2="218.63" stroke="#365564"/><line x1="1089.28" y1="218.63" x2="1086.23" y2="208.59" stroke="#3a5b63"/><line x1="1086.23" y1="208.59" x2="1083.19" y2="198.56" stroke="#3f6162"/><line x1="1083.19" y1="198.56" x2="1080.15" y2="188.53" stroke="#45675f"/><line x1="1080.15" y1="188.53" x2="1077.1" y2="178.5" stroke="#4b6d5d"/><line x1="1077.1" y1="178.5" x2="1074.06" y2="168.47" stroke="#527058"/><line x1="1074.06" y1="168.47" x2="1071.02" y2="158.44" stroke="#597352"/><line x1="1071.02" y1="158.44" x2="1067.97" y2="148.41" stroke="#62764d"/><line x1="1067.97" y1="148.41" x2="1064.93" y2="138.38" stroke="#6b7947"/><line x1="1064.93" y1="138.38" x2="1061.88" y2="128.35" stroke="#747c42"/><line x1="1061.88" y1="128.35" x2="1058.84" y2="118.32" stroke="#7e803d"/><line x1="1058.84" y1="118.32" x2="1055.8" y2="108.29" stroke="#888339"/><line x1="1055.8" y1="108.29" x2="1052.75" y2="98.26" stroke="#928639"/><line x1="1052.75" y1="98.26" x2="1049.71" y2="88.23" stroke="#9e893a"/><line x1="1049.71" y1="88.23" x2="1046.66" y2="78.2" stroke="#a98c3c"/><line x1="1046.66" y1="78.2" x2="1043.62" y2="68.17" stroke="#b68f43"/><line x1="1043.62" y1="68.17" x2="1041.65" y2="61.68" stroke="#c3914a"/><line x1="1116.07" y1="284.12" x2="1113.03" y2="273.95" stroke="#1c2959"/><line x1="1113.03" y1="273.95" x2="1109.98" y2="263.79" stroke="#1f2e5c"/><line x1="1109.98" y1="263.79" x2="1106.94" y2="253.62" stroke="#25375e"/><line x1="1106.94" y1="253.62" x2="1103.9" y2="243.46" stroke="#2a4060"/><line x1="1103.9" y1="243.46" x2="1100.85" y2="233.29" stroke="#2e4762"/><line x1="1100.85" y1="233.29" x2="1097.81" y2="223.13" stroke="#324e63"/><line x1="1097.81" y1="223.13" x2="1094.76" y2="212.96" stroke="#365564"/><line x1="1094.76" y1="212.96" x2="1091.72" y2="202.8" stroke="#3a5b63"/><line x1="1091.72" y1="202.8" x2="1088.68" y2="192.64" stroke="#3f6162"/><line x1="1088.68" y1="192.64" x2="1085.63" y2="182.47" stroke="#45675f"/><line x1="1085.63" y1="182.47" x2="1082.59" y2="172.31" stroke="#4b6d5d"/><line x1="1082.59" y1="172.31" x2="1079.55" y2="162.14" stroke="#527058"/><line x1="1079.55" y1="162.14" x2="1076.5" y2="151.98" stroke="#597352"/><line x1="1076.5" y1="151.98" x2="1073.46" y2="141.81" stroke="#62764d"/><line x1="1073.46" y1="141.81" x2="1070.41" y2="131.65" stroke="#6b7947"/><line x1="1070.41" y1="131.65" x2="1067.37" y2="121.48" stroke="#747c42"/><line x1="1067.37" y1="121.48" x2="1064.33" y2="111.32" stroke="#7e803d"/><line x1="1064.33" y1="111.32" x2="1061.28" y2="101.16" stroke="#888339"/><line x1="1061.28" y1="101.16" x2="1058.24" y2="90.99" stroke="#928639"/><line x1="1058.24" y1="90.99" x2="1055.19" y2="80.83" stroke="#9e893a"/><line x1="1055.19" y1="80.83" x2="1052.15" y2="70.66" stroke="#a98c3c"/><line x1="1052.15" y1="70.66" x2="1049.92" y2="63.22" stroke="#b68f43"/><line x1="1121.56" y1="279.39" x2="1118.51" y2="269.09" stroke="#1c2959"/><line x1="1118.51" y1="269.09" x2="1115.47" y2="258.79" stroke="#1f2e5c"/><line x1="1115.47" y1="258.79" x2="1112.43" y2="248.5" stroke="#25375e"/><line x1="1112.43" y1="248.5" x2="1109.38" y2="238.2" stroke="#2a4060"/><line x1="1109.38" y1="238.2" x2="1106.34" y2="227.9" stroke="#2e4762"/><line x1="1106.34" y1="227.9" x2="1103.29" y2="217.6" stroke="#324e63"/><line x1="1103.29" y1="217.6" x2="1100.25" y2="207.3" stroke="#365564"/><line x1="1100.25" y1="207.3" x2="1097.21" y2="197" stroke="#3a5b63"/><line x1="1097.21" y1="197" x2="1094.16" y2="186.71" stroke="#3f6162"/><line x1="1094.16" y1="186.71" x2="1091.12" y2="176.41" stroke="#45675f"/><line x1="1091.12" y1="176.41" x2="1088.08" y2="166.11" stroke="#4b6d5d"/><line x1="1088.08" y1="166.11" x2="1085.03" y2="155.81" stroke="#527058"/><line x1="1085.03" y1="155.81" x2="1081.99" y2="145.51" stroke="#597352"/><line x1="1081.99" y1="145.51" x2="1078.94" y2="135.22" stroke="#62764d"/><line x1="1078.94" y1="135.22" x2="1075.9" y2="124.92" stroke="#6b7947"/><line x1="1075.9" y1="124.92" x2="1072.86" y2="114.62" stroke="#747c42"/><line x1="1072.86" y1="114.62" x2="1069.81" y2="104.32" stroke="#7e803d"/><line x1="1069.81" y1="104.32" x2="1066.77" y2="94.02" stroke="#888339"/><line x1="1066.77" y1="94.02" x2="1063.73" y2="83.72" stroke="#928639"/><line x1="1063.73" y1="83.72" x2="1060.68" y2="73.43" stroke="#9e893a"/><line x1="1060.68" y1="73.43" x2="1058.1" y2="64.69" stroke="#a98c3c"/><line x1="1127.04" y1="274.67" x2="1124" y2="264.23" stroke="#1c2959"/><line x1="1124" y1="264.23" x2="1120.96" y2="253.8" stroke="#1f2e5c"/><line x1="1120.96" y1="253.8" x2="1117.91" y2="243.37" stroke="#25375e"/><line x1="1117.91" y1="243.37" x2="1114.87" y2="232.94" stroke="#2a4060"/><line x1="1114.87" y1="232.94" x2="1111.82" y2="222.51" stroke="#2e4762"/><line x1="1111.82" y1="222.51" x2="1108.78" y2="212.07" stroke="#324e63"/><line x1="1108.78" y1="212.07" x2="1105.74" y2="201.64" stroke="#365564"/><line x1="1105.74" y1="201.64" x2="1102.69" y2="191.21" stroke="#3a5b63"/><line x1="1102.69" y1="191.21" x2="1099.65" y2="180.78" stroke="#3f6162"/><line x1="1099.65" y1="180.78" x2="1096.61" y2="170.35" stroke="#45675f"/><line x1="1096.61" y1="170.35" x2="1093.56" y2="159.91" stroke="#4b6d5d"/><line x1="1093.56" y1="159.91" x2="1090.52" y2="149.48" stroke="#527058"/><line x1="1090.52" y1="149.48" x2="1087.47" y2="139.05" stroke="#597352"/><line x1="1087.47" y1="139.05" x2="1084.43" y2="128.62" stroke="#62764d"/><line x1="1084.43" y1="128.62" x2="1081.39" y2="118.19" stroke="#6b7947"/><line x1="1081.39" y1="118.19" x2="1078.34" y2="107.75" stroke="#747c42"/><line x1="1078.34" y1="107.75" x2="1075.3" y2="97.32" stroke="#7e803d"/><line x1="1075.3" y1="97.32" x2="1072.26" y2="86.89" stroke="#888339"/><line x1="1072.26" y1="86.89" x2="1069.21" y2="76.46" stroke="#928639"/><line x1="1069.21" y1="76.46" x2="1066.19" y2="66.09" stroke="#9e893a"/><line x1="1132.53" y1="269.94" x2="1129.49" y2="259.38" stroke="#1c2959"/><line x1="1129.49" y1="259.38" x2="1126.44" y2="248.81" stroke="#1f2e5c"/><line x1="1126.44" y1="248.81" x2="1123.4" y2="238.24" stroke="#25375e"/><line x1="1123.4" y1="238.24" x2="1120.35" y2="227.68" stroke="#2a4060"/><line x1="1120.35" y1="227.68" x2="1117.31" y2="217.11" stroke="#2e4762"/><line x1="1117.31" y1="217.11" x2="1114.27" y2="206.55" stroke="#324e63"/><line x1="1114.27" y1="206.55" x2="1111.22" y2="195.98" stroke="#365564"/><line x1="1111.22" y1="195.98" x2="1108.18" y2="185.41" stroke="#3a5b63"/><line x1="1108.18" y1="185.41" x2="1105.14" y2="174.85" stroke="#3f6162"/><line x1="1105.14" y1="174.85" x2="1102.09" y2="164.28" stroke="#45675f"/><line x1="1102.09" y1="164.28" x2="1099.05" y2="153.72" stroke="#4b6d5d"/><line x1="1099.05" y1="153.72" x2="1096" y2="143.15" stroke="#527058"/><line x1="1096" y1="143.15" x2="1092.96" y2="132.59" stroke="#597352"/><line x1="1092.96" y1="132.59" x2="1089.92" y2="122.02" stroke="#62764d"/><line x1="1089.92" y1="122.02" x2="1086.87" y2="111.45" stroke="#6b7947"/><line x1="1086.87" y1="111.45" x2="1083.83" y2="100.89" stroke="#747c42"/><line x1="1083.83" y1="100.89" x2="1080.79" y2="90.32" stroke="#7e803d"/><line x1="1080.79" y1="90.32" x2="1077.74" y2="79.76" stroke="#888339"/><line x1="1077.74" y1="79.76" x2="1074.7" y2="69.19" stroke="#928639"/><line x1="1074.7" y1="69.19" x2="1074.19" y2="67.44" stroke="#9e893a"/><line x1="1138.02" y1="265.22" x2="1134.97" y2="254.52" stroke="#1c2959"/><line x1="1134.97" y1="254.52" x2="1131.93" y2="243.82" stroke="#1f2e5c"/><line x1="1131.93" y1="243.82" x2="1128.89" y2="233.12" stroke="#25375e"/><line x1="1128.89" y1="233.12" x2="1125.84" y2="222.42" stroke="#2a4060"/><line x1="1125.84" y1="222.42" x2="1122.8" y2="211.72" stroke="#2e4762"/><line x1="1122.8" y1="211.72" x2="1119.75" y2="201.02" stroke="#324e63"/><line x1="1119.75" y1="201.02" x2="1116.71" y2="190.32" stroke="#365564"/><line x1="1116.71" y1="190.32" x2="1113.67" y2="179.62" stroke="#3a5b63"/><line x1="1113.67" y1="179.62" x2="1110.62" y2="168.92" stroke="#3f6162"/><line x1="1110.62" y1="168.92" x2="1107.58" y2="158.22" stroke="#45675f"/><line x1="1107.58" y1="158.22" x2="1104.53" y2="147.52" stroke="#4b6d5d"/><line x1="1104.53" y1="147.52" x2="1101.49" y2="136.82" stroke="#527058"/><line x1="1101.49" y1="136.82" x2="1098.45" y2="126.12" stroke="#597352"/><line x1="1098.45" y1="126.12" x2="1095.4" y2="115.42" stroke="#62764d"/><line x1="1095.4" y1="115.42" x2="1092.36" y2="104.72" stroke="#6b7947"/><line x1="1092.36" y1="104.72" x2="1089.32" y2="94.02" stroke="#747c42"/><line x1="1089.32" y1="94.02" x2="1086.27" y2="83.32" stroke="#7e803d"/><line x1="1086.27" y1="83.32" x2="1083.23" y2="72.62" stroke="#888339"/><line x1="1083.23" y1="72.62" x2="1082.12" y2="68.74" stroke="#928639"/><line x1="1143.5" y1="260.49" x2="1140.46" y2="249.66" stroke="#1c2959"/><line x1="1140.46" y1="249.66" x2="1137.42" y2="238.83" stroke="#1f2e5c"/><line x1="1137.42" y1="238.83" x2="1134.37" y2="227.99" stroke="#25375e"/><line x1="1134.37" y1="227.99" x2="1131.33" y2="217.16" stroke="#2a4060"/><line x1="1131.33" y1="217.16" x2="1128.28" y2="206.33" stroke="#2e4762"/><line x1="1128.28" y1="206.33" x2="1125.24" y2="195.49" stroke="#324e63"/><line x1="1125.24" y1="195.49" x2="1122.2" y2="184.66" stroke="#365564"/><line x1="1122.2" y1="184.66" x2="1119.15" y2="173.82" stroke="#3a5b63"/><line x1="1119.15" y1="173.82" x2="1116.11" y2="162.99" stroke="#3f6162"/><line x1="1116.11" y1="162.99" x2="1113.06" y2="152.16" stroke="#45675f"/><line x1="1113.06" y1="152.16" x2="1110.02" y2="141.32" stroke="#4b6d5d"/><line x1="1110.02" y1="141.32" x2="1106.98" y2="130.49" stroke="#527058"/><line x1="1106.98" y1="130.49" x2="1103.93" y2="119.66" stroke="#597352"/><line x1="1103.93" y1="119.66" x2="1100.89" y2="108.82" stroke="#62764d"/><line x1="1100.89" y1="108.82" x2="1097.85" y2="97.99" stroke="#6b7947"/><line x1="1097.85" y1="97.99" x2="1094.8" y2="87.16" stroke="#747c42"/><line x1="1094.8" y1="87.16" x2="1091.76" y2="76.32" stroke="#7e803d"/><line x1="1091.76" y1="76.32" x2="1089.98" y2="69.98" stroke="#888339"/><line x1="1148.99" y1="255.77" x2="1145.95" y2="244.8" stroke="#1c2959"/><line x1="1145.95" y1="244.8" x2="1142.9" y2="233.83" stroke="#1f2e5c"/><line x1="1142.9" y1="233.83" x2="1139.86" y2="222.87" stroke="#25375e"/><line x1="1139.86" y1="222.87" x2="1136.81" y2="211.9" stroke="#2a4060"/><line x1="1136.81" y1="211.9" x2="1133.77" y2="200.93" stroke="#2e4762"/><line x1="1133.77" y1="200.93" x2="1130.73" y2="189.96" stroke="#324e63"/><line x1="1130.73" y1="189.96" x2="1127.68" y2="179" stroke="#365564"/><line x1="1127.68" y1="179" x2="1124.64" y2="168.03" stroke="#3a5b63"/><line x1="1124.64" y1="168.03" x2="1121.6" y2="157.06" stroke="#3f6162"/><line x1="1121.6" y1="157.06" x2="1118.55" y2="146.1" stroke="#45675f"/><line x1="1118.55" y1="146.1" x2="1115.51" y2="135.13" stroke="#4b6d5d"/><line x1="1115.51" y1="135.13" x2="1112.46" y2="124.16" stroke="#527058"/><line x1="1112.46" y1="124.16" x2="1109.42" y2="113.19" stroke="#597352"/><line x1="1109.42" y1="113.19" x2="1106.38" y2="102.23" stroke="#62764d"/><line x1="1106.38" y1="102.23" x2="1103.33" y2="91.26" stroke="#6b7947"/><line x1="1103.33" y1="91.26" x2="1100.29" y2="80.29" stroke="#747c42"/><line x1="1100.29" y1="80.29" x2="1097.76" y2="71.17" stroke="#7e803d"/><line x1="1154.48" y1="251.04" x2="1151.43" y2="239.94" stroke="#1c2959"/><line x1="1151.43" y1="239.94" x2="1148.39" y2="228.84" stroke="#1f2e5c"/><line x1="1148.39" y1="228.84" x2="1145.34" y2="217.74" stroke="#25375e"/><line x1="1145.34" y1="217.74" x2="1142.3" y2="206.64" stroke="#2a4060"/><line x1="1142.3" y1="206.64" x2="1139.26" y2="195.54" stroke="#2e4762"/><line x1="1139.26" y1="195.54" x2="1136.21" y2="184.44" stroke="#324e63"/><line x1="1136.21" y1="184.44" x2="1133.17" y2="173.34" stroke="#365564"/><line x1="1133.17" y1="173.34" x2="1130.13" y2="162.23" stroke="#3a5b63"/><line x1="1130.13" y1="162.23" x2="1127.08" y2="151.13" stroke="#3f6162"/><line x1="1127.08" y1="151.13" x2="1124.04" y2="140.03" stroke="#45675f"/><line x1="1124.04" y1="140.03" x2="1120.99" y2="128.93" stroke="#4b6d5d"/><line x1="1120.99" y1="128.93" x2="1117.95" y2="117.83" stroke="#527058"/><line x1="1117.95" y1="117.83" x2="1114.91" y2="106.73" stroke="#597352"/><line x1="1114.91" y1="106.73" x2="1111.86" y2="95.63" stroke="#62764d"/><line x1="1111.86" y1="95.63" x2="1108.82" y2="84.53" stroke="#6b7947"/><line x1="1108.82" y1="84.53" x2="1105.77" y2="73.43" stroke="#747c42"/><line x1="1105.77" y1="73.43" x2="1105.47" y2="72.31" stroke="#7e803d"/><line x1="1159.96" y1="246.32" x2="1156.92" y2="235.08" stroke="#1c2959"/><line x1="1156.92" y1="235.08" x2="1153.87" y2="223.85" stroke="#1f2e5c"/><line x1="1153.87" y1="223.85" x2="1150.83" y2="212.61" stroke="#25375e"/><line x1="1150.83" y1="212.61" x2="1147.79" y2="201.38" stroke="#2a4060"/><line x1="1147.79" y1="201.38" x2="1144.74" y2="190.14" stroke="#2e4762"/><line x1="1144.74" y1="190.14" x2="1141.7" y2="178.91" stroke="#324e63"/><line x1="1141.7" y1="178.91" x2="1138.66" y2="167.67" stroke="#365564"/><line x1="1138.66" y1="167.67" x2="1135.61" y2="156.44" stroke="#3a5b63"/><line x1="1135.61" y1="156.44" x2="1132.57" y2="145.2" stroke="#3f6162"/><line x1="1132.57" y1="145.2" x2="1129.52" y2="133.97" stroke="#45675f"/><line x1="1129.52" y1="133.97" x2="1126.48" y2="122.73" stroke="#4b6d5d"/><line x1="1126.48" y1="122.73" x2="1123.44" y2="111.5" stroke="#527058"/><line x1="1123.44" y1="111.5" x2="1120.39" y2="100.26" stroke="#597352"/><line x1="1120.39" y1="100.26" x2="1117.35" y2="89.03" stroke="#62764d"/><line x1="1117.35" y1="89.03" x2="1114.31" y2="77.79" stroke="#6b7947"/><line x1="1114.31" y1="77.79" x2="1113.11" y2="73.4" stroke="#747c42"/><line x1="1165.45" y1="241.6" x2="1162.4" y2="230.23" stroke="#1c2959"/><line x1="1162.4" y1="230.23" x2="1159.36" y2="218.86" stroke="#1f2e5c"/><line x1="1159.36" y1="218.86" x2="1156.32" y2="207.49" stroke="#25375e"/><line x1="1156.32" y1="207.49" x2="1153.27" y2="196.12" stroke="#2a4060"/><line x1="1153.27" y1="196.12" x2="1150.23" y2="184.75" stroke="#2e4762"/><line x1="1150.23" y1="184.75" x2="1147.19" y2="173.38" stroke="#324e63"/><line x1="1147.19" y1="173.38" x2="1144.14" y2="162.01" stroke="#365564"/><line x1="1144.14" y1="162.01" x2="1141.1" y2="150.64" stroke="#3a5b63"/><line x1="1141.1" y1="150.64" x2="1138.05" y2="139.28" stroke="#3f6162"/><line x1="1138.05" y1="139.28" x2="1135.01" y2="127.91" stroke="#45675f"/><line x1="1135.01" y1="127.91" x2="1131.97" y2="116.54" stroke="#4b6d5d"/><line x1="1131.97" y1="116.54" x2="1128.92" y2="105.17" stroke="#527058"/><line x1="1128.92" y1="105.17" x2="1125.88" y2="93.8" stroke="#597352"/><line x1="1125.88" y1="93.8" x2="1122.84" y2="82.43" stroke="#62764d"/><line x1="1122.84" y1="82.43" x2="1120.7" y2="74.45" stroke="#6b7947"/><line x1="1170.93" y1="236.87" x2="1167.89" y2="225.37" stroke="#1c2959"/><line x1="1167.89" y1="225.37" x2="1164.85" y2="213.87" stroke="#1f2e5c"/><line x1="1164.85" y1="213.87" x2="1161.8" y2="202.36" stroke="#25375e"/><line x1="1161.8" y1="202.36" x2="1158.76" y2="190.86" stroke="#2a4060"/><line x1="1158.76" y1="190.86" x2="1155.72" y2="179.36" stroke="#2e4762"/><line x1="1155.72" y1="179.36" x2="1152.67" y2="167.86" stroke="#324e63"/><line x1="1152.67" y1="167.86" x2="1149.63" y2="156.35" stroke="#365564"/><line x1="1149.63" y1="156.35" x2="1146.58" y2="144.85" stroke="#3a5b63"/><line x1="1146.58" y1="144.85" x2="1143.54" y2="133.35" stroke="#3f6162"/><line x1="1143.54" y1="133.35" x2="1140.5" y2="121.84" stroke="#45675f"/><line x1="1140.5" y1="121.84" x2="1137.45" y2="110.34" stroke="#4b6d5d"/><line x1="1137.45" y1="110.34" x2="1134.41" y2="98.84" stroke="#527058"/><line x1="1134.41" y1="98.84" x2="1131.37" y2="87.34" stroke="#597352"/><line x1="1131.37" y1="87.34" x2="1128.32" y2="75.83" stroke="#62764d"/><line x1="1128.32" y1="75.83" x2="1128.22" y2="75.45" stroke="#6b7947"/><line x1="1176.42" y1="232.15" x2="1173.38" y2="220.51" stroke="#1c2959"/><line x1="1173.38" y1="220.51" x2="1170.33" y2="208.87" stroke="#1f2e5c"/><line x1="1170.33" y1="208.87" x2="1167.29" y2="197.24" stroke="#25375e"/><line x1="1167.29" y1="197.24" x2="1164.25" y2="185.6" stroke="#2a4060"/><line x1="1164.25" y1="185.6" x2="1161.2" y2="173.96" stroke="#2e4762"/><line x1="1161.2" y1="173.96" x2="1158.16" y2="162.33" stroke="#324e63"/><line x1="1158.16" y1="162.33" x2="1155.11" y2="150.69" stroke="#365564"/><line x1="1155.11" y1="150.69" x2="1152.07" y2="139.05" stroke="#3a5b63"/><line x1="1152.07" y1="139.05" x2="1149.03" y2="127.42" stroke="#3f6162"/><line x1="1149.03" y1="127.42" x2="1145.98" y2="115.78" stroke="#45675f"/><line x1="1145.98" y1="115.78" x2="1142.94" y2="104.15" stroke="#4b6d5d"/><line x1="1142.94" y1="104.15" x2="1139.9" y2="92.51" stroke="#527058"/><line x1="1139.9" y1="92.51" x2="1136.85" y2="80.87" stroke="#597352"/><line x1="1136.85" y1="80.87" x2="1135.69" y2="76.42" stroke="#62764d"/><line x1="1181.91" y1="227.42" x2="1178.86" y2="215.65" stroke="#1c2959"/><line x1="1178.86" y1="215.65" x2="1175.82" y2="203.88" stroke="#1f2e5c"/><line x1="1175.82" y1="203.88" x2="1172.78" y2="192.11" stroke="#25375e"/><line x1="1172.78" y1="192.11" x2="1169.73" y2="180.34" stroke="#2a4060"/><line x1="1169.73" y1="180.34" x2="1166.69" y2="168.57" stroke="#2e4762"/><line x1="1166.69" y1="168.57" x2="1163.64" y2="156.8" stroke="#324e63"/><line x1="1163.64" y1="156.8" x2="1160.6" y2="145.03" stroke="#365564"/><line x1="1160.6" y1="145.03" x2="1157.56" y2="133.26" stroke="#3a5b63"/><line x1="1157.56" y1="133.26" x2="1154.51" y2="121.49" stroke="#3f6162"/><line x1="1154.51" y1="121.49" x2="1151.47" y2="109.72" stroke="#45675f"/><line x1="1151.47" y1="109.72" x2="1148.43" y2="97.95" stroke="#4b6d5d"/><line x1="1148.43" y1="97.95" x2="1145.38" y2="86.18" stroke="#527058"/><line x1="1145.38" y1="86.18" x2="1143.1" y2="77.34" stroke="#597352"/><line x1="1187.39" y1="222.7" x2="1184.35" y2="210.79" stroke="#1c2959"/><line x1="1184.35" y1="210.79" x2="1181.31" y2="198.89" stroke="#1f2e5c"/><line x1="1181.31" y1="198.89" x2="1178.26" y2="186.99" stroke="#25375e"/><line x1="1178.26" y1="186.99" x2="1175.22" y2="175.08" stroke="#2a4060"/><line x1="1175.22" y1="175.08" x2="1172.18" y2="163.18" stroke="#2e4762"/><line x1="1172.18" y1="163.18" x2="1169.13" y2="151.27" stroke="#324e63"/><line x1="1169.13" y1="151.27" x2="1166.09" y2="139.37" stroke="#365564"/><line x1="1166.09" y1="139.37" x2="1163.04" y2="127.46" stroke="#3a5b63"/><line x1="1163.04" y1="127.46" x2="1160" y2="115.56" stroke="#3f6162"/><line x1="1160" y1="115.56" x2="1156.96" y2="103.66" stroke="#45675f"/><line x1="1156.96" y1="103.66" x2="1153.91" y2="91.75" stroke="#4b6d5d"/><line x1="1153.91" y1="91.75" x2="1150.87" y2="79.85" stroke="#527058"/><line x1="1150.87" y1="79.85" x2="1150.46" y2="78.23" stroke="#597352"/><line x1="1192.88" y1="217.97" x2="1189.84" y2="205.94" stroke="#1c2959"/><line x1="1189.84" y1="205.94" x2="1186.79" y2="193.9" stroke="#1f2e5c"/><line x1="1186.79" y1="193.9" x2="1183.75" y2="181.86" stroke="#25375e"/><line x1="1183.75" y1="181.86" x2="1180.71" y2="169.82" stroke="#2a4060"/><line x1="1180.71" y1="169.82" x2="1177.66" y2="157.78" stroke="#2e4762"/><line x1="1177.66" y1="157.78" x2="1174.62" y2="145.75" stroke="#324e63"/><line x1="1174.62" y1="145.75" x2="1171.57" y2="133.71" stroke="#365564"/><line x1="1171.57" y1="133.71" x2="1168.53" y2="121.67" stroke="#3a5b63"/><line x1="1168.53" y1="121.67" x2="1165.49" y2="109.63" stroke="#3f6162"/><line x1="1165.49" y1="109.63" x2="1162.44" y2="97.59" stroke="#45675f"/><line x1="1162.44" y1="97.59" x2="1159.4" y2="85.56" stroke="#4b6d5d"/><line x1="1159.4" y1="85.56" x2="1157.76" y2="79.09" stroke="#527058"/></g><line x1="723.5" y1="431" x2="723.5" y2="54.4" stroke="#262626" stroke-width="1.2"/><line x1="723.5" y1="54.4" x2="1089.26" y2="24.92" stroke="#262626" stroke-width="1.2"/><line x1="1089.26" y1="401.52" x2="1089.26" y2="24.92" stroke="#262626" stroke-width="1.2"/><line x1="1089.26" y1="24.92" x2="1214.45" y2="113.92" stroke="#262626" stroke-width="1.2"/><line x1="1214.45" y1="490.52" x2="1214.45" y2="113.92" stroke="#262626" stroke-width="1.2"/><line x1="723.5" y1="431" x2="1089.26" y2="401.52" stroke="#262626" stroke-width="1.2"/><line x1="723.5" y1="431" x2="848.7" y2="520" stroke="#262626" stroke-width="1.2"/><line x1="848.7" y1="520" x2="1214.45" y2="490.52" stroke="#262626" stroke-width="1.2"/><line x1="1089.26" y1="401.52" x2="1214.45" y2="490.52" stroke="#262626" stroke-width="1.2"/><rect x="899.2" y="165.8" width="20" height="20" fill="none" stroke="#000" stroke-width="3"/><rect x="1136" y="222" width="20" height="20" fill="none" stroke="#000" stroke-width="3"/><g stroke="#000" stroke-width="1"><polygon points="887.3,71.75 903.1,71.75 895.2,58.25" fill="#eecaf4"/><polygon points="921.3,81.55 937.1,81.55 929.2,68.05" fill="#eab2b4"/><polygon points="918.9,96.25 934.7,96.25 926.8,82.75" fill="#eecaf4"/><polygon points="912.8,128.75 928.6,128.75 920.7,115.25" fill="#eab2b4"/><polygon points="865.4,146.75 881.2,146.75 873.3,133.25" fill="#eecaf4"/><polygon points="948.8,86.75 964.6,86.75 956.7,73.25" fill="#c5924c"/><polygon points="945.9,110.45 961.7,110.45 953.8,96.95" fill="#c5924c"/><polygon points="976.6,124.25 992.4,124.25 984.5,110.75" fill="#cc9454"/><polygon points="978.8,129.55 994.6,129.55 986.7,116.05" fill="#a88c3c"/><polygon points="820.4,197.95 836.2,197.95 828.3,211.45" fill="#eecaf4"/><polygon points="812.6,219.05 828.4,219.05 820.5,232.55" fill="#ebbbcd"/><polygon points="870,217.6 876.6,225.8 870,234 863.4,225.8" fill="#e5a587"/><polygon points="881.6,171.05 897.4,171.05 889.5,157.55" fill="#e7a891"/><polygon points="883.3,177.95 899.1,177.95 891.2,164.45" fill="#e7a891"/><polygon points="876.6,201.75 892.4,201.75 884.5,188.25" fill="#e5a587"/><polygon points="874.9,193.05 890.7,193.05 882.8,179.55" fill="#cc9454"/><polygon points="882.4,209.95 898.2,209.95 890.3,196.45" fill="#c5924c"/><polygon points="874.9,240.25 890.7,240.25 882.8,226.75" fill="#c5924c"/><polygon points="901.8,183.45 917.6,183.45 909.7,169.95" fill="#e9aea6"/><circle cx="905.2" cy="170.8" r="6.5" fill="#de9f74"/><polygon points="914.1,177.05 929.9,177.05 922,163.55" fill="#a88c3c"/><polygon points="917.4,185.05 933.2,185.05 925.3,171.55" fill="#c5924c"/><polygon points="920.3,183 926.9,191.2 920.3,199.4 913.7,191.2" fill="#888339"/><polygon points="926.2,182.1 932.8,190.3 926.2,198.5 919.6,190.3" fill="#888339"/><polygon points="923.8,206.25 939.6,206.25 931.7,192.75" fill="#c5924c"/><polygon points="912.9,212.55 928.7,212.55 920.8,199.05" fill="#a28a3b"/><polygon points="922.1,212.05 937.9,212.05 930,198.55" fill="#9b883a"/><polygon points="898.3,214.55 914.1,214.55 906.2,201.05" fill="#c5924c"/><polygon points="892.1,224.25 907.9,224.25 900,210.75" fill="#de9f74"/><circle cx="916.7" cy="222" r="6.5" fill="#c5924c"/><polygon points="899.6,230.05 915.4,230.05 907.5,216.55" fill="#82813c"/><polygon points="892.4,235.95 908.2,235.95 900.3,222.45" fill="#888339"/><polygon points="907.1,240.45 922.9,240.45 915,226.95" fill="#a28a3b"/><polygon points="917.4,236.75 933.2,236.75 925.3,223.25" fill="#d1975b"/><polygon points="893.8,249.55 909.6,249.55 901.7,236.05" fill="#a28a3b"/><polygon points="922.4,249.25 938.2,249.25 930.3,235.75" fill="#66774a"/><polygon points="929.1,231.75 944.9,231.75 937,218.25" fill="#a28a3b"/><polygon points="932.4,235.75 948.2,235.75 940.3,249.25" fill="#9b883a"/><polygon points="945.6,235.25 961.4,235.25 953.5,221.75" fill="#66774a"/><polygon points="944.9,249.25 960.7,249.25 952.8,235.75" fill="#a28a3b"/><polygon points="942.1,192.55 957.9,192.55 950,179.05" fill="#cc9454"/><polygon points="942.1,185.05 957.9,185.05 950,171.55" fill="#c5924c"/><polygon points="957.1,200.25 972.9,200.25 965,186.75" fill="#8e8538"/><polygon points="953.3,171.05 969.1,171.05 961.2,157.55" fill="#c5924c"/><polygon points="963.8,160.95 979.6,160.95 971.7,174.45" fill="#9b883a"/><polygon points="977.1,180.45 992.9,180.45 985,166.95" fill="#8e8538"/><polygon points="979.9,192.55 995.7,192.55 987.8,179.05" fill="#cc9454"/><polygon points="984.9,187.55 1000.7,187.55 992.8,174.05" fill="#66774a"/><polygon points="966.6,220.05 982.4,220.05 974.5,206.55" fill="#a28a3b"/><polygon points="968.3,225.45 984.1,225.45 976.2,211.95" fill="#948739"/><polygon points="984.6,224.25 1000.4,224.25 992.5,210.75" fill="#8e8538"/><polygon points="976.6,249.55 992.4,249.55 984.5,236.05" fill="#c5924c"/><polygon points="1002.4,188.45 1018.2,188.45 1010.3,174.95" fill="#b88f44"/><polygon points="997.1,200.05 1012.9,200.05 1005,186.55" fill="#c5924c"/><polygon points="1014.6,192.75 1030.4,192.75 1022.5,179.25" fill="#8e8538"/><polygon points="1019.9,200.75 1035.7,200.75 1027.8,187.25" fill="#948739"/><polygon points="1001.3,214.25 1017.1,214.25 1009.2,200.75" fill="#537157"/><polygon points="1028.8,217.05 1044.6,217.05 1036.7,203.55" fill="#66774a"/><polygon points="1030.6,223.75 1046.4,223.75 1038.5,210.25" fill="#61764d"/><polygon points="1068.9,201.05 1084.7,201.05 1076.8,187.55" fill="#61764d"/><polygon points="1065.4,211.05 1081.2,211.05 1073.3,197.55" fill="#5c7450"/><polygon points="1084.1,197.55 1099.9,197.55 1092,184.05" fill="#3d5f62"/><polygon points="1053.8,231.55 1069.6,231.55 1061.7,218.05" fill="#5c7450"/><polygon points="996.6,241.75 1012.4,241.75 1004.5,228.25" fill="#9b883a"/><polygon points="1019.1,236.05 1034.9,236.05 1027,222.55" fill="#5c7450"/><polygon points="1019.9,245.05 1035.7,245.05 1027.8,231.55" fill="#577254"/><polygon points="1034.1,246.75 1049.9,246.75 1042,233.25" fill="#436560"/><polygon points="1045.4,246.75 1061.2,246.75 1053.3,233.25" fill="#436560"/><polygon points="1165.5,162.15 1181.3,162.15 1173.4,148.65" fill="#3d5f62"/><polygon points="1122.5,197.75 1138.3,197.75 1130.4,184.25" fill="#3a5b63"/><polygon points="1135.5,207.75 1151.3,207.75 1143.4,194.25" fill="#2e4862"/><polygon points="1162.1,209.15 1177.9,209.15 1170,195.65" fill="#1d2b5b"/><polygon points="1138.1,238.15 1153.9,238.15 1146,224.65" fill="#202f5d"/><polygon points="1119.5,248.15 1135.3,248.15 1127.4,234.65" fill="#1d2b5b"/><polygon points="1127.5,251.75 1143.3,251.75 1135.4,238.25" fill="#1d2b5b"/><polygon points="995.1,255.75 1010.9,255.75 1003,242.25" fill="#5c7450"/><polygon points="1007.1,251.75 1022.9,251.75 1015,238.25" fill="#888339"/><polygon points="1012.1,260.75 1027.9,260.75 1020,247.25" fill="#948739"/><polygon points="1016.6,252.75 1032.4,252.75 1024.5,239.25" fill="#4a6c5d"/><polygon points="1042.1,253.75 1057.9,253.75 1050,240.25" fill="#47695e"/><polygon points="1020.8,270.95 1036.6,270.95 1028.7,257.45" fill="#5c7450"/><polygon points="1010.8,279.25 1026.6,279.25 1018.7,265.75" fill="#436560"/><polygon points="1013.3,290.05 1029.1,290.05 1021.2,276.55" fill="#4e6f5a"/><polygon points="1033.8,286.55 1049.6,286.55 1041.7,273.05" fill="#314c63"/><polygon points="1047.9,281.25 1063.7,281.25 1055.8,267.75" fill="#537157"/><polygon points="1051.6,284.95 1067.4,284.95 1059.5,271.45" fill="#4a6c5d"/><polygon points="1027.4,301.75 1043.2,301.75 1035.3,288.25" fill="#23345e"/><polygon points="1060.8,302.05 1076.6,302.05 1068.7,288.55" fill="#2c4461"/><polygon points="1075.8,287.55 1091.6,287.55 1083.7,274.05" fill="#2e4862"/><polygon points="1082.4,294.25 1098.2,294.25 1090.3,280.75" fill="#314c63"/><polygon points="1089.9,256.75 1105.7,256.75 1097.8,243.25" fill="#355464"/><polygon points="907.5,252.1 914.1,260.3 907.5,268.5 900.9,260.3" fill="#8e8538"/><polygon points="905.1,260.75 920.9,260.75 913,247.25" fill="#de9f74"/><polygon points="913.8,265.05 929.6,265.05 921.7,251.55" fill="#8e8538"/><polygon points="923.8,263.75 939.6,263.75 931.7,250.25" fill="#888339"/><polygon points="916.3,271.75 932.1,271.75 924.2,258.25" fill="#948739"/><polygon points="895.1,278.75 910.9,278.75 903,265.25" fill="#a28a3b"/><polygon points="902.9,277.05 918.7,277.05 910.8,263.55" fill="#8e8538"/><polygon points="897.1,284.75 912.9,284.75 905,271.25" fill="#a88c3c"/><polygon points="903.8,287.95 919.6,287.95 911.7,274.45" fill="#82813c"/><polygon points="922.1,296.75 937.9,296.75 930,283.25" fill="#717b44"/><polygon points="937.9,295.05 953.7,295.05 945.8,281.55" fill="#577254"/><polygon points="956.3,265.45 972.1,265.45 964.2,251.95" fill="#777d41"/><polygon points="985.4,260.95 1001.2,260.95 993.3,247.45" fill="#9b883a"/><polygon points="987.4,313.75 1003.2,313.75 995.3,300.25" fill="#314c63"/><polygon points="947.1,322.25 962.9,322.25 955,308.75" fill="#5c7450"/><polygon points="903.8,324.55 919.6,324.55 911.7,311.05" fill="#888339"/><polygon points="920.4,333.45 936.2,333.45 928.3,319.95" fill="#66774a"/><polygon points="908.8,346.75 924.6,346.75 916.7,333.25" fill="#888339"/><polygon points="796.3,290.75 812.1,290.75 804.2,304.25" fill="#eab4ba"/><polygon points="836.7,281 843.3,289.2 836.7,297.4 830.1,289.2" fill="#cc9454"/><polygon points="848.7,283.5 855.3,291.7 848.7,299.9 842.1,291.7" fill="#e2a27d"/><polygon points="856.7,287.6 863.3,295.8 856.7,304 850.1,295.8" fill="#e2a27d"/><polygon points="830.8,303.8 837.4,312 830.8,320.2 824.2,312" fill="#cc9454"/><polygon points="845.8,299.3 852.4,307.5 845.8,315.7 839.2,307.5" fill="#d69962"/><polygon points="856.2,303.5 862.8,311.7 856.2,319.9 849.6,311.7" fill="#cc9454"/><circle cx="867" cy="279.5" r="6.5" fill="#a28a3b"/><polygon points="873.3,244.6 879.9,252.8 873.3,261 866.7,252.8" fill="#e2a27d"/><polygon points="864.6,264.55 880.4,264.55 872.5,251.05" fill="#c5924c"/><polygon points="870.4,272.95 886.2,272.95 878.3,259.45" fill="#8e8538"/><polygon points="872.1,281.25 887.9,281.25 880,267.75" fill="#c5924c"/><polygon points="888.3,268 894.9,276.2 888.3,284.4 881.7,276.2" fill="#cc9454"/><polygon points="893.7,252.1 900.3,260.3 893.7,268.5 887.1,260.3" fill="#cc9454"/><polygon points="891.3,255.95 907.1,255.95 899.2,242.45" fill="#a28a3b"/><polygon points="890.4,275.45 906.2,275.45 898.3,261.95" fill="#8e8538"/><polygon points="884.6,287.95 900.4,287.95 892.5,274.45" fill="#8e8538"/><polygon points="871.7,284.6 878.3,292.8 871.7,301 865.1,292.8" fill="#c5924c"/><circle cx="876.2" cy="302" r="6.5" fill="#a28a3b"/><polygon points="866.2,298.5 872.8,306.7 866.2,314.9 859.6,306.7" fill="#a88c3c"/><polygon points="878.8,309.95 894.6,309.95 886.7,323.45" fill="#8e8538"/><polygon points="838.8,325.45 854.6,325.45 846.7,311.95" fill="#948739"/><polygon points="841.6,337.05 857.4,337.05 849.5,323.55" fill="#a28a3b"/><polygon points="822.9,334.25 838.7,334.25 830.8,320.75" fill="#de9f74"/><circle cx="867" cy="333.7" r="6.5" fill="#8e8538"/><polygon points="827.1,341.75 842.9,341.75 835,328.25" fill="#cc9454"/><polygon points="813.1,341.75 828.9,341.75 821,328.25" fill="#de9f74"/><polygon points="821.7,331.8 828.3,340 821.7,348.2 815.1,340" fill="#e2a27d"/><polygon points="820,338.5 826.6,346.7 820,354.9 813.4,346.7" fill="#de9f74"/><polygon points="830.8,336 837.4,344.2 830.8,352.4 824.2,344.2" fill="#c5924c"/><polygon points="839.2,329.3 845.8,337.5 839.2,345.7 832.6,337.5" fill="#a88c3c"/><polygon points="845.8,343.8 852.4,352 845.8,360.2 839.2,352" fill="#a88c3c"/><circle cx="875" cy="347.5" r="6.5" fill="#888339"/><polygon points="793.8,368.45 809.6,368.45 801.7,354.95" fill="#e5a587"/><polygon points="797.1,355.75 812.9,355.75 805,369.25" fill="#e2a27d"/><circle cx="836.7" cy="370.3" r="6.5" fill="#a88c3c"/><polygon points="813.3,380.05 829.1,380.05 821.2,366.55" fill="#de9f74"/><polygon points="805.8,387.55 821.6,387.55 813.7,374.05" fill="#de9f74"/><polygon points="821.6,388.45 837.4,388.45 829.5,374.95" fill="#a28a3b"/><polygon points="829.1,387.55 844.9,387.55 837,374.05" fill="#8e8538"/><circle cx="862.5" cy="382.5" r="6.5" fill="#888339"/><polygon points="865.4,387.95 881.2,387.95 873.3,374.45" fill="#888339"/><polygon points="798.8,405.45 814.6,405.45 806.7,391.95" fill="#de9f74"/><polygon points="803.8,405.05 819.6,405.05 811.7,391.55" fill="#db9b6b"/><circle cx="842" cy="393.7" r="6.5" fill="#a28a3b"/><polygon points="841.3,402.55 857.1,402.55 849.2,389.05" fill="#777d41"/><polygon points="826.3,413.45 842.1,413.45 834.2,399.95" fill="#948739"/><polygon points="838.3,416.75 854.1,416.75 846.2,403.25" fill="#82813c"/><polygon points="850.8,410.95 866.6,410.95 858.7,397.45" fill="#777d41"/><polygon points="855.8,414.55 871.6,414.55 863.7,401.05" fill="#717b44"/><polygon points="872.1,409.25 887.9,409.25 880,395.75" fill="#66774a"/><polygon points="788.3,429.25 804.1,429.25 796.2,415.75" fill="#eab4ba"/><polygon points="810.4,431.75 826.2,431.75 818.3,418.25" fill="#c5924c"/><polygon points="837.1,434.75 852.9,434.75 845,421.25" fill="#888339"/><polygon points="806.1,434.75 821.9,434.75 814,421.25" fill="#bf9148"/><circle cx="828" cy="438" r="6.5" fill="#888339"/><circle cx="830.8" cy="442.7" r="6.5" fill="#888339"/><polygon points="814.8,459.35 830.6,459.35 822.7,445.85" fill="#a28a3b"/><polygon points="835.1,460.55 850.9,460.55 843,447.05" fill="#a28a3b"/><circle cx="830.5" cy="455.2" r="6.5" fill="#888339"/><polygon points="896.3,359.25 912.1,359.25 904.2,345.75" fill="#7c7f3e"/><polygon points="905.4,393.45 921.2,393.45 913.3,379.95" fill="#577254"/><polygon points="1006.8,431.05 1022.6,431.05 1014.7,417.55" fill="#1c2959"/><polygon points="767.3,306.95 783.1,306.95 775.2,320.45" fill="#eecaf4"/></g><line x1="723.5" y1="431" x2="715.35" y2="425.21" stroke="#262626" stroke-width="1"/><line x1="723.5" y1="374.32" x2="718.61" y2="370.84" stroke="#262626" stroke-width="1"/><line x1="723.5" y1="341.16" x2="718.61" y2="337.68" stroke="#262626" stroke-width="1"/><line x1="723.5" y1="317.63" x2="718.61" y2="314.16" stroke="#262626" stroke-width="1"/><line x1="723.5" y1="299.38" x2="718.61" y2="295.91" stroke="#262626" stroke-width="1"/><line x1="723.5" y1="284.47" x2="718.61" y2="281" stroke="#262626" stroke-width="1"/><line x1="723.5" y1="271.87" x2="718.61" y2="268.39" stroke="#262626" stroke-width="1"/><line x1="723.5" y1="260.95" x2="718.61" y2="257.47" stroke="#262626" stroke-width="1"/><line x1="723.5" y1="251.32" x2="718.61" y2="247.84" stroke="#262626" stroke-width="1"/><line x1="723.5" y1="242.7" x2="715.35" y2="236.91" stroke="#262626" stroke-width="1"/><line x1="723.5" y1="186.02" x2="718.61" y2="182.54" stroke="#262626" stroke-width="1"/><line x1="723.5" y1="152.86" x2="718.61" y2="149.38" stroke="#262626" stroke-width="1"/><line x1="723.5" y1="129.33" x2="718.61" y2="125.86" stroke="#262626" stroke-width="1"/><line x1="723.5" y1="111.08" x2="718.61" y2="107.61" stroke="#262626" stroke-width="1"/><line x1="723.5" y1="96.17" x2="718.61" y2="92.7" stroke="#262626" stroke-width="1"/><line x1="723.5" y1="83.57" x2="718.61" y2="80.09" stroke="#262626" stroke-width="1"/><line x1="723.5" y1="72.65" x2="718.61" y2="69.17" stroke="#262626" stroke-width="1"/><line x1="723.5" y1="63.02" x2="718.61" y2="59.54" stroke="#262626" stroke-width="1"/><line x1="723.5" y1="54.4" x2="715.35" y2="48.61" stroke="#262626" stroke-width="1"/><line x1="848.7" y1="520" x2="838.73" y2="520.81" stroke="#262626" stroke-width="1"/><line x1="837.93" y1="512.35" x2="831.95" y2="512.83" stroke="#262626" stroke-width="1"/><line x1="831.63" y1="507.87" x2="825.65" y2="508.35" stroke="#262626" stroke-width="1"/><line x1="827.16" y1="504.69" x2="821.18" y2="505.18" stroke="#262626" stroke-width="1"/><line x1="823.69" y1="502.23" x2="817.71" y2="502.71" stroke="#262626" stroke-width="1"/><line x1="820.86" y1="500.22" x2="814.88" y2="500.7" stroke="#262626" stroke-width="1"/><line x1="818.47" y1="498.51" x2="812.49" y2="499" stroke="#262626" stroke-width="1"/><line x1="816.39" y1="497.04" x2="810.41" y2="497.52" stroke="#262626" stroke-width="1"/><line x1="814.56" y1="495.74" x2="808.58" y2="496.22" stroke="#262626" stroke-width="1"/><line x1="812.92" y1="494.57" x2="802.96" y2="495.38" stroke="#262626" stroke-width="1"/><line x1="802.16" y1="486.92" x2="796.18" y2="487.4" stroke="#262626" stroke-width="1"/><line x1="795.86" y1="482.44" x2="789.88" y2="482.92" stroke="#262626" stroke-width="1"/><line x1="791.39" y1="479.26" x2="785.41" y2="479.75" stroke="#262626" stroke-width="1"/><line x1="787.92" y1="476.8" x2="781.94" y2="477.28" stroke="#262626" stroke-width="1"/><line x1="785.09" y1="474.79" x2="779.11" y2="475.27" stroke="#262626" stroke-width="1"/><line x1="782.7" y1="473.08" x2="776.72" y2="473.57" stroke="#262626" stroke-width="1"/><line x1="780.62" y1="471.61" x2="774.64" y2="472.09" stroke="#262626" stroke-width="1"/><line x1="778.79" y1="470.31" x2="772.81" y2="470.79" stroke="#262626" stroke-width="1"/><line x1="777.15" y1="469.14" x2="767.19" y2="469.95" stroke="#262626" stroke-width="1"/><line x1="766.39" y1="461.49" x2="760.41" y2="461.97" stroke="#262626" stroke-width="1"/><line x1="760.09" y1="457.01" x2="754.11" y2="457.49" stroke="#262626" stroke-width="1"/><line x1="755.62" y1="453.83" x2="749.64" y2="454.32" stroke="#262626" stroke-width="1"/><line x1="752.15" y1="451.37" x2="746.17" y2="451.85" stroke="#262626" stroke-width="1"/><line x1="749.32" y1="449.36" x2="743.34" y2="449.84" stroke="#262626" stroke-width="1"/><line x1="746.93" y1="447.65" x2="740.95" y2="448.14" stroke="#262626" stroke-width="1"/><line x1="744.85" y1="446.18" x2="738.87" y2="446.66" stroke="#262626" stroke-width="1"/><line x1="743.02" y1="444.88" x2="737.04" y2="445.36" stroke="#262626" stroke-width="1"/><line x1="741.38" y1="443.71" x2="731.42" y2="444.52" stroke="#262626" stroke-width="1"/><line x1="730.62" y1="436.06" x2="724.64" y2="436.54" stroke="#262626" stroke-width="1"/><line x1="724.32" y1="431.58" x2="718.34" y2="432.06" stroke="#262626" stroke-width="1"/><line x1="848.7" y1="520" x2="856.85" y2="525.8" stroke="#262626" stroke-width="1"/><line x1="879.28" y1="517.54" x2="884.17" y2="521.02" stroke="#262626" stroke-width="1"/><line x1="897.17" y1="516.1" x2="902.06" y2="519.57" stroke="#262626" stroke-width="1"/><line x1="909.86" y1="515.07" x2="914.75" y2="518.55" stroke="#262626" stroke-width="1"/><line x1="919.71" y1="514.28" x2="924.6" y2="517.76" stroke="#262626" stroke-width="1"/><line x1="927.76" y1="513.63" x2="932.65" y2="517.11" stroke="#262626" stroke-width="1"/><line x1="934.56" y1="513.08" x2="939.45" y2="516.56" stroke="#262626" stroke-width="1"/><line x1="940.45" y1="512.61" x2="945.34" y2="516.09" stroke="#262626" stroke-width="1"/><line x1="945.65" y1="512.19" x2="950.54" y2="515.67" stroke="#262626" stroke-width="1"/><line x1="950.3" y1="511.81" x2="958.45" y2="517.61" stroke="#262626" stroke-width="1"/><line x1="980.88" y1="509.35" x2="985.77" y2="512.83" stroke="#262626" stroke-width="1"/><line x1="998.77" y1="507.91" x2="1003.66" y2="511.38" stroke="#262626" stroke-width="1"/><line x1="1011.46" y1="506.88" x2="1016.35" y2="510.36" stroke="#262626" stroke-width="1"/><line x1="1021.31" y1="506.09" x2="1026.2" y2="509.57" stroke="#262626" stroke-width="1"/><line x1="1029.36" y1="505.44" x2="1034.25" y2="508.92" stroke="#262626" stroke-width="1"/><line x1="1036.16" y1="504.89" x2="1041.05" y2="508.37" stroke="#262626" stroke-width="1"/><line x1="1042.05" y1="504.42" x2="1046.94" y2="507.9" stroke="#262626" stroke-width="1"/><line x1="1047.25" y1="504" x2="1052.14" y2="507.48" stroke="#262626" stroke-width="1"/><line x1="1051.89" y1="503.62" x2="1060.05" y2="509.42" stroke="#262626" stroke-width="1"/><line x1="1082.48" y1="501.16" x2="1087.37" y2="504.64" stroke="#262626" stroke-width="1"/><line x1="1100.37" y1="499.72" x2="1105.26" y2="503.19" stroke="#262626" stroke-width="1"/><line x1="1113.06" y1="498.69" x2="1117.95" y2="502.17" stroke="#262626" stroke-width="1"/><line x1="1122.91" y1="497.9" x2="1127.8" y2="501.38" stroke="#262626" stroke-width="1"/><line x1="1130.96" y1="497.25" x2="1135.85" y2="500.73" stroke="#262626" stroke-width="1"/><line x1="1137.76" y1="496.7" x2="1142.65" y2="500.18" stroke="#262626" stroke-width="1"/><line x1="1143.65" y1="496.23" x2="1148.54" y2="499.71" stroke="#262626" stroke-width="1"/><line x1="1148.85" y1="495.81" x2="1153.74" y2="499.29" stroke="#262626" stroke-width="1"/><line x1="1153.49" y1="495.44" x2="1161.65" y2="501.23" stroke="#262626" stroke-width="1"/><line x1="1184.08" y1="492.97" x2="1188.97" y2="496.45" stroke="#262626" stroke-width="1"/><line x1="1201.97" y1="491.53" x2="1206.86" y2="495" stroke="#262626" stroke-width="1"/><text x="708" y="52" font-family="Liberation Serif" font-size="24" text-anchor="end" fill="#262626">1000</text><text x="707" y="241.5" font-family="Liberation Serif" font-size="24" text-anchor="end" fill="#262626">100</text><text x="707.5" y="429.5" font-family="Liberation Serif" font-size="24" text-anchor="end" fill="#262626">10</text><text x="700" y="466" font-family="Liberation Serif" font-size="24" text-anchor="middle" fill="#262626">1000</text><text x="740" y="493.5" font-family="Liberation Serif" font-size="24" text-anchor="middle" fill="#262626">100</text><text x="781.5" y="519" font-family="Liberation Serif" font-size="24" text-anchor="middle" fill="#262626">10</text><text x="822.5" y="544" font-family="Liberation Serif" font-size="24" text-anchor="middle" fill="#262626">1</text><text x="862" y="562" font-family="Liberation Serif" font-size="24" fill="#262626">10<tspan dy="-12" font-size="17">-4</tspan></text><text x="964" y="553" font-family="Liberation Serif" font-size="24" fill="#262626">10<tspan dy="-12" font-size="17">-3</tspan></text><text x="1067" y="545" font-family="Liberation Serif" font-size="24" fill="#262626">10<tspan dy="-12" font-size="17">-2</tspan></text><text x="1168" y="537" font-family="Liberation Serif" font-size="24" fill="#262626">10<tspan dy="-12" font-size="17">-1</tspan></text><text x="968.5" y="18" font-family="Liberation Serif" font-size="24" font-weight="bold" text-anchor="middle">Model B</text><text x="621" y="24" font-family="Liberation Sans" font-weight="bold" font-size="29.5">B</text><text transform="translate(644,242.5) rotate(-90)" font-family="Liberation Serif" font-size="27.5" text-anchor="middle" fill="#262626">POC [mg m<tspan dy="-12.5" font-size="19">-3</tspan><tspan dy="12.5">]</tspan></text><text x="933.5" y="582" font-family="Liberation Serif" font-size="27.5" fill="#262626"><tspan font-style="italic">b</tspan><tspan font-style="italic" font-size="20" dy="11">bp</tspan><tspan dy="-11">(550) [m</tspan><tspan dy="-12.5" font-size="19">-1</tspan><tspan dy="12.5">]</tspan></text><text transform="translate(701,527) rotate(30)" font-family="Liberation Serif" font-size="27.5" fill="#262626">ς <tspan dx="2">[mg m</tspan><tspan dy="-12.5" font-size="19">-2</tspan><tspan dy="12.5">]</tspan></text><g stroke="#333" stroke-width="1.1" fill="none"><line x1="91.6" y1="471" x2="91.6" y2="462"/><line x1="91.6" y1="73.5" x2="91.6" y2="82.5"/><line x1="124.71" y1="471" x2="124.71" y2="466"/><line x1="124.71" y1="73.5" x2="124.71" y2="78.5"/><line x1="144.08" y1="471" x2="144.08" y2="466"/><line x1="144.08" y1="73.5" x2="144.08" y2="78.5"/><line x1="157.83" y1="471" x2="157.83" y2="466"/><line x1="157.83" y1="73.5" x2="157.83" y2="78.5"/><line x1="168.49" y1="471" x2="168.49" y2="466"/><line x1="168.49" y1="73.5" x2="168.49" y2="78.5"/><line x1="177.2" y1="471" x2="177.2" y2="466"/><line x1="177.2" y1="73.5" x2="177.2" y2="78.5"/><line x1="184.56" y1="471" x2="184.56" y2="466"/><line x1="184.56" y1="73.5" x2="184.56" y2="78.5"/><line x1="190.94" y1="471" x2="190.94" y2="466"/><line x1="190.94" y1="73.5" x2="190.94" y2="78.5"/><line x1="196.57" y1="471" x2="196.57" y2="466"/><line x1="196.57" y1="73.5" x2="196.57" y2="78.5"/><line x1="201.6" y1="471" x2="201.6" y2="462"/><line x1="201.6" y1="73.5" x2="201.6" y2="82.5"/><line x1="234.71" y1="471" x2="234.71" y2="466"/><line x1="234.71" y1="73.5" x2="234.71" y2="78.5"/><line x1="254.08" y1="471" x2="254.08" y2="466"/><line x1="254.08" y1="73.5" x2="254.08" y2="78.5"/><line x1="267.83" y1="471" x2="267.83" y2="466"/><line x1="267.83" y1="73.5" x2="267.83" y2="78.5"/><line x1="278.49" y1="471" x2="278.49" y2="466"/><line x1="278.49" y1="73.5" x2="278.49" y2="78.5"/><line x1="287.2" y1="471" x2="287.2" y2="466"/><line x1="287.2" y1="73.5" x2="287.2" y2="78.5"/><line x1="294.56" y1="471" x2="294.56" y2="466"/><line x1="294.56" y1="73.5" x2="294.56" y2="78.5"/><line x1="300.94" y1="471" x2="300.94" y2="466"/><line x1="300.94" y1="73.5" x2="300.94" y2="78.5"/><line x1="306.57" y1="471" x2="306.57" y2="466"/><line x1="306.57" y1="73.5" x2="306.57" y2="78.5"/><line x1="311.6" y1="471" x2="311.6" y2="462"/><line x1="311.6" y1="73.5" x2="311.6" y2="82.5"/><line x1="344.71" y1="471" x2="344.71" y2="466"/><line x1="344.71" y1="73.5" x2="344.71" y2="78.5"/><line x1="364.08" y1="471" x2="364.08" y2="466"/><line x1="364.08" y1="73.5" x2="364.08" y2="78.5"/><line x1="377.83" y1="471" x2="377.83" y2="466"/><line x1="377.83" y1="73.5" x2="377.83" y2="78.5"/><line x1="388.49" y1="471" x2="388.49" y2="466"/><line x1="388.49" y1="73.5" x2="388.49" y2="78.5"/><line x1="397.2" y1="471" x2="397.2" y2="466"/><line x1="397.2" y1="73.5" x2="397.2" y2="78.5"/><line x1="404.56" y1="471" x2="404.56" y2="466"/><line x1="404.56" y1="73.5" x2="404.56" y2="78.5"/><line x1="410.94" y1="471" x2="410.94" y2="466"/><line x1="410.94" y1="73.5" x2="410.94" y2="78.5"/><line x1="416.57" y1="471" x2="416.57" y2="466"/><line x1="416.57" y1="73.5" x2="416.57" y2="78.5"/><line x1="421.6" y1="471" x2="421.6" y2="462"/><line x1="421.6" y1="73.5" x2="421.6" y2="82.5"/><line x1="454.71" y1="471" x2="454.71" y2="466"/><line x1="454.71" y1="73.5" x2="454.71" y2="78.5"/><line x1="474.08" y1="471" x2="474.08" y2="466"/><line x1="474.08" y1="73.5" x2="474.08" y2="78.5"/><line x1="487.83" y1="471" x2="487.83" y2="466"/><line x1="487.83" y1="73.5" x2="487.83" y2="78.5"/><line x1="91.6" y1="471" x2="100.6" y2="471"/><line x1="489" y1="471" x2="480" y2="471"/><line x1="91.6" y1="411.17" x2="96.6" y2="411.17"/><line x1="489" y1="411.17" x2="484" y2="411.17"/><line x1="91.6" y1="376.17" x2="96.6" y2="376.17"/><line x1="489" y1="376.17" x2="484" y2="376.17"/><line x1="91.6" y1="351.34" x2="96.6" y2="351.34"/><line x1="489" y1="351.34" x2="484" y2="351.34"/><line x1="91.6" y1="332.08" x2="96.6" y2="332.08"/><line x1="489" y1="332.08" x2="484" y2="332.08"/><line x1="91.6" y1="316.34" x2="96.6" y2="316.34"/><line x1="489" y1="316.34" x2="484" y2="316.34"/><line x1="91.6" y1="303.04" x2="96.6" y2="303.04"/><line x1="489" y1="303.04" x2="484" y2="303.04"/><line x1="91.6" y1="291.51" x2="96.6" y2="291.51"/><line x1="489" y1="291.51" x2="484" y2="291.51"/><line x1="91.6" y1="281.34" x2="96.6" y2="281.34"/><line x1="489" y1="281.34" x2="484" y2="281.34"/><line x1="91.6" y1="272.25" x2="100.6" y2="272.25"/><line x1="489" y1="272.25" x2="480" y2="272.25"/><line x1="91.6" y1="212.42" x2="96.6" y2="212.42"/><line x1="489" y1="212.42" x2="484" y2="212.42"/><line x1="91.6" y1="177.42" x2="96.6" y2="177.42"/><line x1="489" y1="177.42" x2="484" y2="177.42"/><line x1="91.6" y1="152.59" x2="96.6" y2="152.59"/><line x1="489" y1="152.59" x2="484" y2="152.59"/><line x1="91.6" y1="133.33" x2="96.6" y2="133.33"/><line x1="489" y1="133.33" x2="484" y2="133.33"/><line x1="91.6" y1="117.59" x2="96.6" y2="117.59"/><line x1="489" y1="117.59" x2="484" y2="117.59"/><line x1="91.6" y1="104.29" x2="96.6" y2="104.29"/><line x1="489" y1="104.29" x2="484" y2="104.29"/><line x1="91.6" y1="92.76" x2="96.6" y2="92.76"/><line x1="489" y1="92.76" x2="484" y2="92.76"/><line x1="91.6" y1="82.59" x2="96.6" y2="82.59"/><line x1="489" y1="82.59" x2="484" y2="82.59"/><rect x="91.6" y="73.5" width="397.4" height="397.5"/></g><text x="73.6" y="510" font-family="Liberation Serif" font-size="24" fill="#262626">10<tspan dy="-12" font-size="17">-4</tspan></text><text x="183.6" y="510" font-family="Liberation Serif" font-size="24" fill="#262626">10<tspan dy="-12" font-size="17">-3</tspan></text><text x="293.6" y="510" font-family="Liberation Serif" font-size="24" fill="#262626">10<tspan dy="-12" font-size="17">-2</tspan></text><text x="403.6" y="510" font-family="Liberation Serif" font-size="24" fill="#262626">10<tspan dy="-12" font-size="17">-1</tspan></text><text x="82" y="82" font-family="Liberation Serif" font-size="24" text-anchor="end" fill="#262626">1000</text><text x="82" y="280.75" font-family="Liberation Serif" font-size="24" text-anchor="end" fill="#262626">100</text><text x="82" y="479.5" font-family="Liberation Serif" font-size="24" text-anchor="end" fill="#262626">10</text><text x="290" y="67.4" font-family="Liberation Serif" font-size="24" font-weight="bold" text-anchor="middle">Model A</text><text x="-1" y="24" font-family="Liberation Sans" font-weight="bold" font-size="29.5">A</text><text transform="translate(39.5,273) rotate(-90)" font-family="Liberation Serif" font-size="27.5" text-anchor="middle" fill="#262626">POC [mg m<tspan dy="-12.5" font-size="19">-3</tspan><tspan dy="12.5">]</tspan></text><text x="212.5" y="550" font-family="Liberation Serif" font-size="27.5" fill="#262626"><tspan font-style="italic">b</tspan><tspan font-style="italic" font-size="20" dy="11">bp</tspan><tspan dy="-11">(550) [m</tspan><tspan dy="-12.5" font-size="19">-1</tspan><tspan dy="12.5">]</tspan></text><g stroke="#000" stroke-width="1"><polygon points="170.9,358.75 186.7,358.75 178.8,345.25" fill="#eecaf4"/><polygon points="263.4,101.45 279.2,101.45 271.3,87.95" fill="#eecaf4"/><polygon points="295.4,95.85 311.2,95.85 303.3,82.35" fill="#c5924c"/><polygon points="287.9,105.85 303.7,105.85 295.8,92.35" fill="#eab2b4"/><polygon points="289.6,119.05 305.4,119.05 297.5,105.55" fill="#c5924c"/><polygon points="298.3,130.95 314.1,130.95 306.2,117.45" fill="#eecaf4"/><polygon points="322.1,139.55 337.9,139.55 330,126.05" fill="#ae8d3f"/><polygon points="330.4,141.05 346.2,141.05 338.3,127.55" fill="#ce9557"/><polygon points="339.6,135.55 355.4,135.55 347.5,122.05" fill="#e7a78f"/><polygon points="277.9,152.95 293.7,152.95 285.8,139.45" fill="#eab2b4"/><polygon points="473.8,149.65 489.6,149.65 481.7,136.15" fill="#3c5e62"/><polygon points="385.4,178.55 401.2,178.55 393.3,165.05" fill="#3c5e62"/><polygon points="422.1,179.55 437.9,179.55 430,166.05" fill="#385763"/><polygon points="428.8,184.95 444.6,184.95 436.7,171.45" fill="#2e4862"/><polygon points="448.8,181.15 464.6,181.15 456.7,167.65" fill="#202f5d"/><polygon points="390,199.05 405.8,199.05 397.9,185.55" fill="#63764c"/><polygon points="378.8,203.85 394.6,203.85 386.7,190.35" fill="#4f6f5a"/><polygon points="429.6,199.65 445.4,199.65 437.5,186.15" fill="#385763"/><polygon points="427.9,213.05 443.7,213.05 435.8,199.55" fill="#23345e"/><polygon points="406.7,222.55 422.5,222.55 414.6,209.05" fill="#202f5d"/><polygon points="415.4,225.05 431.2,225.05 423.3,211.55" fill="#202f5d"/><polygon points="301.3,167.55 317.1,167.55 309.2,181.05" fill="#a48b3b"/><polygon points="305.9,181.75 321.7,181.75 313.8,168.25" fill="#7c7f3e"/><polygon points="309.6,183.45 325.4,183.45 317.5,169.95" fill="#9b883a"/><polygon points="302.5,187.55 318.3,187.55 310.4,174.05" fill="#c5924c"/><polygon points="332.6,189.65 348.4,189.65 340.5,176.15" fill="#e2a27d"/><polygon points="283.4,199.65 299.2,199.65 291.3,186.15" fill="#948739"/><polygon points="290.9,199.65 306.7,199.65 298.8,186.15" fill="#c5924c"/><polygon points="289.6,206.75 305.4,206.75 297.5,193.25" fill="#c5924c"/><polygon points="308.8,201.75 324.6,201.75 316.7,188.25" fill="#537157"/><polygon points="348.8,199.95 364.6,199.95 356.7,186.45" fill="#a48b3b"/><polygon points="350.4,204.65 366.2,204.65 358.3,191.15" fill="#a88c3c"/><polygon points="337.9,213.85 353.7,213.85 345.8,200.35" fill="#c5924c"/><polygon points="346.7,218.05 362.5,218.05 354.6,204.55" fill="#63764c"/><polygon points="354.6,218.45 370.4,218.45 362.5,204.95" fill="#7c7f3e"/><polygon points="361.3,212.35 377.1,212.35 369.2,198.85" fill="#a48b3b"/><polygon points="369.2,225.95 385,225.95 377.1,212.45" fill="#577254"/><polygon points="286.7,225.95 302.5,225.95 294.6,212.45" fill="#eecaf4"/><polygon points="239.6,177.55 255.4,177.55 247.5,164.05" fill="#eecaf4"/><polygon points="253.4,183.55 269.2,183.55 261.3,170.05" fill="#ae8d3f"/><polygon points="247.5,176.8 254.1,185 247.5,193.2 240.9,185" fill="#e9aca2"/><polygon points="248.3,181.8 254.9,190 248.3,198.2 241.7,190" fill="#8e8538"/><circle cx="258.3" cy="189.2" r="6.5" fill="#d69962"/><polygon points="241.3,201.75 257.1,201.75 249.2,188.25" fill="#e2a27d"/><polygon points="219.6,204.65 235.4,204.65 227.5,191.15" fill="#c5924c"/><polygon points="264.6,217.05 280.4,217.05 272.5,203.55" fill="#c5924c"/><polygon points="248.4,217.15 264.2,217.15 256.3,203.65" fill="#a88c3c"/><polygon points="230.4,216.75 246.2,216.75 238.3,203.25" fill="#e2a27d"/><polygon points="220.9,226.75 236.7,226.75 228.8,213.25" fill="#8e8538"/><polygon points="212.9,230.95 228.7,230.95 220.8,217.45" fill="#85823a"/><polygon points="246.3,230.95 262.1,230.95 254.2,217.45" fill="#c5924c"/><polygon points="261.7,228.75 277.5,228.75 269.6,215.25" fill="#63764c"/><polygon points="262.5,205.05 278.3,205.05 270.4,191.55" fill="#eab2b4"/><polygon points="189.6,227.45 205.4,227.45 197.5,240.95" fill="#eecaf4"/><polygon points="175.8,245.25 191.6,245.25 183.7,258.75" fill="#ebbdd3"/><polygon points="230,227.2 236.6,235.4 230,243.6 223.4,235.4" fill="#a48b3b"/><polygon points="230.8,237.55 246.6,237.55 238.7,224.05" fill="#a88c3c"/><polygon points="240.4,241.75 256.2,241.75 248.3,228.25" fill="#c5924c"/><circle cx="262.5" cy="235" r="6.5" fill="#c5924c"/><polygon points="259.1,237.55 274.9,237.55 267,224.05" fill="#e2a27d"/><polygon points="267.4,243.75 283.2,243.75 275.3,230.25" fill="#bf9148"/><polygon points="216.3,251.75 232.1,251.75 224.2,238.25" fill="#c5924c"/><polygon points="224.6,252.05 240.4,252.05 232.5,238.55" fill="#a88c3c"/><polygon points="233.8,257.55 249.6,257.55 241.7,244.05" fill="#c5924c"/><polygon points="249.6,251.75 265.4,251.75 257.5,238.25" fill="#8e8538"/><polygon points="239.6,260.45 255.4,260.45 247.5,246.95" fill="#c5924c"/><polygon points="250.8,265.05 266.6,265.05 258.7,251.55" fill="#9b883a"/><polygon points="262.1,258.45 277.9,258.45 270,244.95" fill="#c5924c"/><polygon points="270.4,246.05 286.2,246.05 278.3,259.55" fill="#ae8d3f"/><polygon points="279.6,259.25 295.4,259.25 287.5,245.75" fill="#a48b3b"/><polygon points="223.8,261.75 239.6,261.75 231.7,248.25" fill="#a48b3b"/><polygon points="196.7,273.25 212.5,273.25 204.6,259.75" fill="#948739"/><polygon points="205.9,276.75 221.7,276.75 213.8,263.25" fill="#c5924c"/><polygon points="242.9,276.75 258.7,276.75 250.8,263.25" fill="#8e8538"/><polygon points="220,283.75 235.8,283.75 227.9,270.25" fill="#6f7a45"/><polygon points="237.8,266 244.4,274.2 237.8,282.4 231.2,274.2" fill="#bf9148"/><polygon points="242.9,286.75 258.7,286.75 250.8,273.25" fill="#948739"/><polygon points="255,290.95 270.8,290.95 262.9,277.45" fill="#a48b3b"/><polygon points="234.1,290.95 249.9,290.95 242,277.45" fill="#577254"/><polygon points="252.1,279.25 267.9,279.25 260,265.75" fill="#d69962"/><polygon points="275.8,291.75 291.6,291.75 283.7,278.25" fill="#385763"/><circle cx="197" cy="284.2" r="6.5" fill="#9b883a"/><polygon points="227,281 233.6,289.2 227,297.4 220.4,289.2" fill="#b98f45"/><polygon points="235.8,282.1 242.4,290.3 235.8,298.5 229.2,290.3" fill="#e2a27d"/><polygon points="211.3,301.25 227.1,301.25 219.2,287.75" fill="#eab6be"/><polygon points="210,285.1 216.6,293.3 210,301.5 203.4,293.3" fill="#c5924c"/><polygon points="180.5,295.9 187.1,304.1 180.5,312.3 173.9,304.1" fill="#c5924c"/><polygon points="202.5,298.5 209.1,306.7 202.5,314.9 195.9,306.7" fill="#c5924c"/><polygon points="263.8,305.05 279.6,305.05 271.7,291.55" fill="#e2a27d"/><polygon points="254.6,312.55 270.4,312.55 262.5,299.05" fill="#577254"/><polygon points="277.9,309.25 293.7,309.25 285.8,295.75" fill="#577254"/><polygon points="243.8,314.25 259.6,314.25 251.7,300.75" fill="#a48b3b"/><polygon points="302.9,233.75 318.7,233.75 310.8,220.25" fill="#a48b3b"/><polygon points="309.6,232.95 325.4,232.95 317.5,219.45" fill="#bf9148"/><polygon points="315.4,230.95 331.2,230.95 323.3,217.45" fill="#a48b3b"/><polygon points="297.9,244.25 313.7,244.25 305.8,230.75" fill="#4f6f5a"/><polygon points="320.4,238.45 336.2,238.45 328.3,224.95" fill="#426460"/><polygon points="329.6,232.55 345.4,232.55 337.5,219.05" fill="#486a5e"/><polygon points="337.1,232.55 352.9,232.55 345,219.05" fill="#426460"/><polygon points="349.6,237.55 365.4,237.55 357.5,224.05" fill="#4f6f5a"/><polygon points="344.1,238.75 359.9,238.75 352,225.25" fill="#426460"/><polygon points="338.8,217.75 354.6,217.75 346.7,204.25" fill="#c5924c"/><polygon points="322.9,249.25 338.7,249.25 330.8,235.75" fill="#577254"/><polygon points="330.4,250.55 346.2,250.55 338.3,237.05" fill="#9b883a"/><polygon points="328.3,261.75 344.1,261.75 336.2,248.25" fill="#486a5e"/><polygon points="337.1,261.75 352.9,261.75 345,248.25" fill="#7c7f3e"/><polygon points="287.4,265.95 303.2,265.95 295.3,252.45" fill="#8e8538"/><polygon points="296.3,267.55 312.1,267.55 304.2,254.05" fill="#9b883a"/><polygon points="310.4,263.45 326.2,263.45 318.3,249.95" fill="#426460"/><polygon points="322.1,268.45 337.9,268.45 330,254.95" fill="#c5924c"/><polygon points="329.1,269.25 344.9,269.25 337,255.75" fill="#335064"/><polygon points="313.4,273.75 329.2,273.75 321.3,260.25" fill="#426460"/><polygon points="314.6,281.75 330.4,281.75 322.5,268.25" fill="#2a3f60"/><polygon points="368.8,267.55 384.6,267.55 376.7,254.05" fill="#335064"/><polygon points="357.9,274.65 373.7,274.65 365.8,261.15" fill="#486a5e"/><polygon points="350,281.75 365.8,281.75 357.9,268.25" fill="#2c4461"/><polygon points="377.1,278.05 392.9,278.05 385,264.55" fill="#335064"/><polygon points="385.8,237.15 401.6,237.15 393.7,223.65" fill="#385763"/><polygon points="328.8,303.05 344.6,303.05 336.7,289.55" fill="#577254"/><polygon points="299.6,317.05 315.4,317.05 307.5,303.55" fill="#a48b3b"/><polygon points="149.6,314.95 165.4,314.95 157.5,328.45" fill="#eab6be"/><polygon points="130.4,338.25 146.2,338.25 138.3,351.75" fill="#eecaf4"/><polygon points="169.2,315.1 175.8,323.3 169.2,331.5 162.6,323.3" fill="#d69962"/><polygon points="165.8,328.75 181.6,328.75 173.7,315.25" fill="#a48b3b"/><polygon points="175.8,326 182.4,334.2 175.8,342.4 169.2,334.2" fill="#a88c3c"/><polygon points="168.7,336.3 175.3,344.5 168.7,352.7 162.1,344.5" fill="#a88c3c"/><polygon points="175.8,336.8 182.4,345 175.8,353.2 169.2,345" fill="#e2a27d"/><polygon points="195.3,301.8 201.9,310 195.3,318.2 188.7,310" fill="#d69962"/><polygon points="187.5,314.3 194.1,322.5 187.5,330.7 180.9,322.5" fill="#d69962"/><polygon points="192.5,312.6 199.1,320.8 192.5,329 185.9,320.8" fill="#d69962"/><polygon points="207.8,296.8 214.4,305 207.8,313.2 201.2,305" fill="#d69962"/><polygon points="185,326 191.6,334.2 185,342.4 178.4,334.2" fill="#d69962"/><polygon points="203.8,335.05 219.6,335.05 211.7,321.55" fill="#c5924c"/><polygon points="203.7,328.5 210.3,336.7 203.7,344.9 197.1,336.7" fill="#908639"/><polygon points="191.7,341 198.3,349.2 191.7,357.4 185.1,349.2" fill="#a88c3c"/><circle cx="204.2" cy="351.7" r="6.5" fill="#948739"/><polygon points="208.3,351.8 214.9,360 208.3,368.2 201.7,360" fill="#a88c3c"/><polygon points="220,343.3 226.6,351.5 220,359.7 213.4,351.5" fill="#e9aca2"/><polygon points="173.7,349.6 180.3,357.8 173.7,366 167.1,357.8" fill="#e2a27d"/><polygon points="185.3,359.3 191.9,367.5 185.3,375.7 178.7,367.5" fill="#dc9d6e"/><polygon points="164.6,373.45 180.4,373.45 172.5,359.95" fill="#c5924c"/><circle cx="165.8" cy="379.2" r="6.5" fill="#a48b3b"/><polygon points="171.3,387.55 187.1,387.55 179.2,374.05" fill="#908639"/><polygon points="182.1,388.75 197.9,388.75 190,375.25" fill="#8e8538"/><polygon points="146.3,378.25 162.1,378.25 154.2,391.75" fill="#eab6be"/><polygon points="152.1,394.25 167.9,394.25 160,380.75" fill="#c5924c"/><polygon points="223.8,325.95 239.6,325.95 231.7,312.45" fill="#8e8538"/><polygon points="227.9,322.55 243.7,322.55 235.8,309.05" fill="#63764c"/><polygon points="237.4,327.95 253.2,327.95 245.3,314.45" fill="#9b883a"/><polygon points="214.6,319.25 230.4,319.25 222.5,305.75" fill="#c5924c"/><polygon points="210.4,323.25 226.2,323.25 218.3,336.75" fill="#948739"/><polygon points="229.6,348.75 245.4,348.75 237.5,335.25" fill="#8e8538"/><polygon points="238.8,349.25 254.6,349.25 246.7,335.75" fill="#4b6d5c"/><polygon points="218.7,333 225.3,341.2 218.7,349.4 212.1,341.2" fill="#bf9148"/><polygon points="259.1,365.05 274.9,365.05 267,351.55" fill="#9f893b"/><polygon points="211.3,387.05 227.1,387.05 219.2,373.55" fill="#577254"/><polygon points="315.8,345.05 331.6,345.05 323.7,331.55" fill="#7c7f3e"/><circle cx="179.2" cy="385.8" r="6.5" fill="#8e8538"/><polygon points="159.9,403.45 175.7,403.45 167.8,389.95" fill="#e2a27d"/><polygon points="183.3,407.55 199.1,407.55 191.2,394.05" fill="#63764c"/><polygon points="141.3,414.25 157.1,414.25 149.2,400.75" fill="#a48b3b"/><polygon points="152.9,410.95 168.7,410.95 160.8,397.45" fill="#e2a27d"/><circle cx="170.3" cy="402.8" r="6.5" fill="#a48b3b"/><polygon points="152.4,419.25 168.2,419.25 160.3,405.75" fill="#8e8538"/><polygon points="170.8,415.45 186.6,415.45 178.7,401.95" fill="#a48b3b"/><polygon points="155.4,423.75 171.2,423.75 163.3,410.25" fill="#9b883a"/><polygon points="158.8,426.75 174.6,426.75 166.7,413.25" fill="#a48b3b"/><polygon points="157.1,429.25 172.9,429.25 165,415.75" fill="#e2a27d"/><polygon points="150.8,432.95 166.6,432.95 158.7,419.45" fill="#e9aca2"/><circle cx="142.5" cy="438.3" r="6.5" fill="#85823a"/><circle cx="155.8" cy="436.2" r="6.5" fill="#898439"/><circle cx="144.2" cy="441.7" r="6.5" fill="#85823a"/><circle cx="162" cy="441.7" r="6.5" fill="#85823a"/><polygon points="144.6,451.45 160.4,451.45 152.5,437.95" fill="#a48b3b"/><circle cx="143.3" cy="455.8" r="6.5" fill="#85823a"/><polygon points="142.9,460.95 158.7,460.95 150.8,447.45" fill="#e9aca2"/><polygon points="153.8,461.75 169.6,461.75 161.7,448.25" fill="#a48b3b"/><polygon points="140.8,468.45 156.6,468.45 148.7,454.95" fill="#a48b3b"/><polygon points="159.1,471.25 174.9,471.25 167,457.75" fill="#a48b3b"/><polygon points="211.3,406.75 227.1,406.75 219.2,393.25" fill="#bf9148"/><polygon points="282.1,404.55 297.9,404.55 290,391.05" fill="#1d2b5b"/></g><rect x="260" y="189.6" width="20" height="20" fill="none" stroke="#000" stroke-width="3"/><rect x="426.2" y="197.9" width="20" height="20" fill="none" stroke="#000" stroke-width="3"/><polyline points="138.5,471 223.5,272.5 329,73.6" fill="none" stroke="#6e6e6e" stroke-width="3"/><polyline points="124.7,380.3 300,253 400,183 481.7,126.3" fill="none" stroke="#6e6e6e" stroke-width="3.8" stroke-dasharray="3.8 3.4"/><polyline points="124.7,452 202,388.7 248.7,347 292,308.7 336.7,273 400,223 450,179.7 481.7,144.7" fill="none" stroke="#6e6e6e" stroke-width="2.7" stroke-dasharray="15 14.7"/><polyline points="188.7,471 202,422 225.3,362 255.3,292 263.3,273 300,199.7 330,139.7 368,73.6" fill="none" stroke="#6e6e6e" stroke-width="3.6" stroke-dasharray="15.5 3.2 9 3.2"/><polyline points="124.7,390.3 481.7,99" fill="none" stroke="#000" stroke-width="4"/><g fill="#fff" stroke="#000" stroke-width="1.1"><polygon points="109.5,108.3 124.9,108.3 117.2,95"/><polygon points="117,117.5 123.6,125.8 117,134 110.4,125.8"/><circle cx="117.2" cy="147.5" r="6.8"/><polygon points="109.5,164.6 124.9,164.6 117.2,177.8"/></g><text x="139.5" y="106.7" font-family="Liberation Serif" font-size="17.5" fill="#000">Arctic</text><text x="139.5" y="129.3" font-family="Liberation Serif" font-size="17.5" fill="#000">Atlantic</text><text x="139.5" y="151.5" font-family="Liberation Serif" font-size="17.5" fill="#000">Pacific</text><text x="139.5" y="173.5" font-family="Liberation Serif" font-size="17.5" fill="#000">Southern</text><line x1="382" y1="360" x2="415.6" y2="360" stroke="#000" stroke-width="4"/><line x1="382" y1="382.6" x2="415.6" y2="382.6" stroke="#6e6e6e" stroke-width="3"/><line x1="382" y1="405" x2="415.6" y2="405" stroke="#6e6e6e" stroke-width="4" stroke-dasharray="4 3.4"/><line x1="382" y1="427.5" x2="415.6" y2="427.5" stroke="#6e6e6e" stroke-width="4" stroke-dasharray="15.5 3.2 9 3.2"/><line x1="382" y1="449" x2="415.6" y2="449" stroke="#6e6e6e" stroke-width="2.7" stroke-dasharray="15 14.7"/><text x="421.6" y="363.6" font-family="Liberation Serif" font-size="17.5" fill="#000">Current</text><text x="421.6" y="386.2" font-family="Liberation Serif" font-size="17.5" fill="#000">St08</text><text x="421.6" y="408.6" font-family="Liberation Serif" font-size="17.5" fill="#000">Ba10</text><text x="421.6" y="431" font-family="Liberation Serif" font-size="17.5" fill="#000">Ce12</text><text x="421.6" y="452.8" font-family="Liberation Serif" font-size="17.5" fill="#000">Re16</text><defs><linearGradient id="cbg" x1="0" y1="1" x2="0" y2="0"><stop offset="0.0000" stop-color="#1B2757"/><stop offset="0.0390" stop-color="#1E2C5C"/><stop offset="0.1020" stop-color="#2A4060"/><stop offset="0.1780" stop-color="#345264"/><stop offset="0.2460" stop-color="#3E6062"/><stop offset="0.3160" stop-color="#4C6E5C"/><stop offset="0.3790" stop-color="#5C7450"/><stop offset="0.4550" stop-color="#747C42"/><stop offset="0.5230" stop-color="#8A8438"/><stop offset="0.6060" stop-color="#AA8C3C"/><stop offset="0.6690" stop-color="#C6924C"/><stop offset="0.7320" stop-color="#D99A66"/><stop offset="0.7950" stop-color="#E6A588"/><stop offset="0.8580" stop-color="#EAB0AE"/><stop offset="0.9760" stop-color="#ECC8F0"/><stop offset="1.0000" stop-color="#EECAF4"/></linearGradient></defs><rect x="502.6" y="73.7" width="35.9" height="396.9" fill="url(#cbg)" stroke="#262626" stroke-width="1"/><line x1="538.5" y1="114.9" x2="534.5" y2="114.9" stroke="#262626"/><text x="548" y="122.30000000000001" font-family="Liberation Serif" font-size="21.5" fill="#262626">1000</text><line x1="538.5" y1="252.3" x2="534.5" y2="252.3" stroke="#262626"/><text x="548" y="259.7" font-family="Liberation Serif" font-size="21.5" fill="#262626">100</text><line x1="538.5" y1="389.6" x2="534.5" y2="389.6" stroke="#262626"/><text x="548" y="397.0" font-family="Liberation Serif" font-size="21.5" fill="#262626">10</text><text x="508.5" y="57" font-family="Liberation Serif" font-size="23" fill="#000">ς</text><text x="528.6" y="57" font-family="Liberation Serif" font-size="22.5" fill="#000">[mg m<tspan dy="-12" font-size="15.5">-2</tspan><tspan dy="12">]</tspan></text></svg></body></html>
